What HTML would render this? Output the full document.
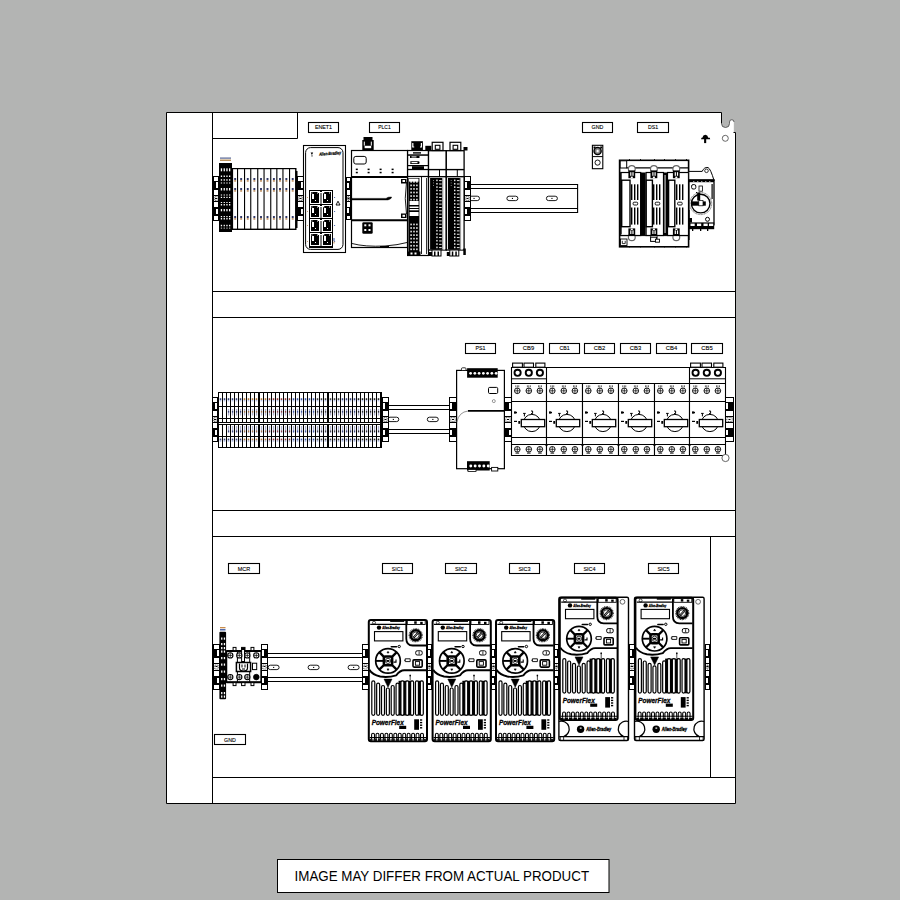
<!DOCTYPE html>
<html><head><meta charset="utf-8"><style>
html,body{margin:0;padding:0;background:#b3b4b3;width:900px;height:900px;overflow:hidden}
svg{display:block}
</style></head><body>
<svg width="900" height="900" viewBox="0 0 900 900" font-family="Liberation Sans">
<rect x="0" y="0" width="900" height="900" fill="#b3b4b3"/>
<path d="M166.5,112.5 H721.5 V123.5 A4,4 0 0 0 729.5,123.5 V122 A2.25,2.25 0 0 1 734,122 V132.5 H735.5 V803.5 H166.5 Z" fill="#fff" stroke="none" stroke-width="1" />
<path d="M166.5,803.5 V112.5 H721.5 V123.5" fill="none" stroke="#000" stroke-width="1" />
<path d="M721.5,123.5 A4,4 0 0 0 729.5,123.5 V122 A2.25,2.25 0 0 1 734,122" fill="none" stroke="#444" stroke-width="0.8" />
<line x1="734.2" y1="122" x2="734.2" y2="132.5" stroke="#bbb" stroke-width="0.6" />
<path d="M733.5,132.5 H735.5 V803.5 H166.5" fill="none" stroke="#000" stroke-width="1" />
<line x1="212.5" y1="112" x2="212.5" y2="804" stroke="#000" stroke-width="1" />
<path d="M212,138.5 H297.5 V112" fill="none" stroke="#000" stroke-width="1" />
<line x1="212" y1="291.5" x2="735" y2="291.5" stroke="#000" stroke-width="1" />
<line x1="212" y1="317.5" x2="735" y2="317.5" stroke="#000" stroke-width="1" />
<line x1="212" y1="510.5" x2="735" y2="510.5" stroke="#000" stroke-width="1" />
<line x1="212" y1="536.5" x2="735" y2="536.5" stroke="#000" stroke-width="1" />
<line x1="212" y1="777.5" x2="735" y2="777.5" stroke="#000" stroke-width="1" />
<line x1="710.5" y1="536" x2="710.5" y2="777" stroke="#000" stroke-width="1" />
<circle cx="725.3" cy="138.3" r="3" fill="none" stroke="#444" stroke-width="0.8" />
<path d="M701,139.2 L701.5,137.8 H702.3 Q703,135 705.3,134.8 Q707.6,135 708.3,137.8 H709.8 L710.2,139.2 Z" fill="#000" stroke="none" stroke-width="1" />
<rect x="704.1" y="138" width="2.1" height="5.1" fill="#000" />
<rect x="308.5" y="122.5" width="30" height="10" fill="#fff" stroke="#000" stroke-width="1.1" />
<text x="323.5" y="129.4" font-size="5.7" text-anchor="middle" fill="#000" font-family="Liberation Sans" stroke="#000" stroke-width="0.12" textLength="17.1" lengthAdjust="spacingAndGlyphs">ENET1</text>
<rect x="369.5" y="122.5" width="30" height="10" fill="#fff" stroke="#000" stroke-width="1.1" />
<text x="384.5" y="129.4" font-size="5.7" text-anchor="middle" fill="#000" font-family="Liberation Sans" stroke="#000" stroke-width="0.12" textLength="12.3" lengthAdjust="spacingAndGlyphs">PLC1</text>
<rect x="582.5" y="122.5" width="30" height="10" fill="#fff" stroke="#000" stroke-width="1.1" />
<text x="597.5" y="129.4" font-size="5.7" text-anchor="middle" fill="#000" font-family="Liberation Sans" stroke="#000" stroke-width="0.12" textLength="11.8" lengthAdjust="spacingAndGlyphs">GND</text>
<rect x="637.5" y="122.5" width="31" height="10" fill="#fff" stroke="#000" stroke-width="1.1" />
<text x="653" y="129.4" font-size="5.7" text-anchor="middle" fill="#000" font-family="Liberation Sans" stroke="#000" stroke-width="0.12" textLength="10.2" lengthAdjust="spacingAndGlyphs">DS1</text>
<rect x="465.5" y="343.5" width="30" height="10" fill="#fff" stroke="#000" stroke-width="1.1" />
<text x="480.5" y="350.4" font-size="5.7" text-anchor="middle" fill="#000" font-family="Liberation Sans" stroke="#000" stroke-width="0.12" textLength="9.9" lengthAdjust="spacingAndGlyphs">PS1</text>
<rect x="513.5" y="343.5" width="30" height="10" fill="#fff" stroke="#000" stroke-width="1.1" />
<text x="528.5" y="350.4" font-size="5.7" text-anchor="middle" fill="#000" font-family="Liberation Sans" stroke="#000" stroke-width="0.12" textLength="11.3" lengthAdjust="spacingAndGlyphs">CB9</text>
<rect x="549.5" y="343.5" width="30" height="10" fill="#fff" stroke="#000" stroke-width="1.1" />
<text x="564.5" y="350.4" font-size="5.7" text-anchor="middle" fill="#000" font-family="Liberation Sans" stroke="#000" stroke-width="0.12" textLength="10" lengthAdjust="spacingAndGlyphs">CB1</text>
<rect x="584.5" y="343.5" width="30" height="10" fill="#fff" stroke="#000" stroke-width="1.1" />
<text x="599.5" y="350.4" font-size="5.7" text-anchor="middle" fill="#000" font-family="Liberation Sans" stroke="#000" stroke-width="0.12" textLength="11.3" lengthAdjust="spacingAndGlyphs">CB2</text>
<rect x="620.5" y="343.5" width="30" height="10" fill="#fff" stroke="#000" stroke-width="1.1" />
<text x="635.5" y="350.4" font-size="5.7" text-anchor="middle" fill="#000" font-family="Liberation Sans" stroke="#000" stroke-width="0.12" textLength="11.3" lengthAdjust="spacingAndGlyphs">CB3</text>
<rect x="656.5" y="343.5" width="30" height="10" fill="#fff" stroke="#000" stroke-width="1.1" />
<text x="671.5" y="350.4" font-size="5.7" text-anchor="middle" fill="#000" font-family="Liberation Sans" stroke="#000" stroke-width="0.12" textLength="11.3" lengthAdjust="spacingAndGlyphs">CB4</text>
<rect x="691.5" y="343.5" width="31" height="10" fill="#fff" stroke="#000" stroke-width="1.1" />
<text x="707" y="350.4" font-size="5.7" text-anchor="middle" fill="#000" font-family="Liberation Sans" stroke="#000" stroke-width="0.12" textLength="11.3" lengthAdjust="spacingAndGlyphs">CB5</text>
<rect x="228.5" y="563.5" width="31" height="10" fill="#fff" stroke="#000" stroke-width="1.1" />
<text x="244" y="570.9" font-size="5.7" text-anchor="middle" fill="#000" font-family="Liberation Sans" stroke="#000" stroke-width="0.12" textLength="12.4" lengthAdjust="spacingAndGlyphs">MCR</text>
<rect x="382.5" y="563.5" width="30" height="10" fill="#fff" stroke="#000" stroke-width="1.1" />
<text x="397.5" y="570.9" font-size="5.7" text-anchor="middle" fill="#000" font-family="Liberation Sans" stroke="#000" stroke-width="0.12" textLength="11.3" lengthAdjust="spacingAndGlyphs">SIC1</text>
<rect x="445.5" y="563.5" width="31" height="10" fill="#fff" stroke="#000" stroke-width="1.1" />
<text x="461" y="570.9" font-size="5.7" text-anchor="middle" fill="#000" font-family="Liberation Sans" stroke="#000" stroke-width="0.12" textLength="12.2" lengthAdjust="spacingAndGlyphs">SIC2</text>
<rect x="509.5" y="563.5" width="30" height="10" fill="#fff" stroke="#000" stroke-width="1.1" />
<text x="524.5" y="570.9" font-size="5.7" text-anchor="middle" fill="#000" font-family="Liberation Sans" stroke="#000" stroke-width="0.12" textLength="12.2" lengthAdjust="spacingAndGlyphs">SIC3</text>
<rect x="574.5" y="563.5" width="30" height="10" fill="#fff" stroke="#000" stroke-width="1.1" />
<text x="589.5" y="570.9" font-size="5.7" text-anchor="middle" fill="#000" font-family="Liberation Sans" stroke="#000" stroke-width="0.12" textLength="12.2" lengthAdjust="spacingAndGlyphs">SIC4</text>
<rect x="648.5" y="563.5" width="30" height="10" fill="#fff" stroke="#000" stroke-width="1.1" />
<text x="663.5" y="570.9" font-size="5.7" text-anchor="middle" fill="#000" font-family="Liberation Sans" stroke="#000" stroke-width="0.12" textLength="12.2" lengthAdjust="spacingAndGlyphs">SIC5</text>
<rect x="214.5" y="734.5" width="31" height="10" fill="#fff" stroke="#000" stroke-width="1.1" />
<text x="230" y="741.9" font-size="5.7" text-anchor="middle" fill="#000" font-family="Liberation Sans" stroke="#000" stroke-width="0.12" textLength="11.8" lengthAdjust="spacingAndGlyphs">GND</text>
<rect x="470" y="184" width="108" height="28.5" fill="#fff" />
<line x1="470" y1="184.5" x2="578" y2="184.5" stroke="#000" stroke-width="1.1" />
<line x1="470" y1="188.5" x2="578" y2="188.5" stroke="#000" stroke-width="1.1" />
<line x1="470" y1="208.5" x2="578" y2="208.5" stroke="#000" stroke-width="1.1" />
<line x1="470" y1="212.5" x2="578" y2="212.5" stroke="#000" stroke-width="1.1" />
<path d="M470.70,196.20 H477.30 A2.2,2.2 0 0 1 477.30,200.60 H470.70 A2.2,2.2 0 0 1 470.70,196.20 Z" fill="none" stroke="#000" stroke-width="0.9" />
<rect x="473.5" y="197.9" width="1.1" height="1.1" fill="#000" />
<path d="M509.10,196.20 H515.70 A2.2,2.2 0 0 1 515.70,200.60 H509.10 A2.2,2.2 0 0 1 509.10,196.20 Z" fill="none" stroke="#000" stroke-width="0.9" />
<rect x="511.9" y="197.9" width="1.1" height="1.1" fill="#000" />
<path d="M548.60,196.20 H555.20 A2.2,2.2 0 0 1 555.20,200.60 H548.60 A2.2,2.2 0 0 1 548.60,196.20 Z" fill="none" stroke="#000" stroke-width="0.9" />
<rect x="551.4" y="197.9" width="1.1" height="1.1" fill="#000" />
<line x1="577.6" y1="184" x2="577.6" y2="213" stroke="#000" stroke-width="1.1" />
<rect x="213" y="176" width="6" height="45" fill="#000" />
<rect x="214" y="177" width="4" height="4" fill="#fff" />
<rect x="214" y="190" width="4" height="5" fill="#fff" />
<rect x="214" y="202" width="4" height="5" fill="#fff" />
<rect x="214" y="216" width="4" height="4" fill="#fff" />
<rect x="216" y="182" width="2" height="6" fill="#fff" />
<rect x="216" y="209" width="2" height="5" fill="#fff" />
<rect x="214" y="196" width="4" height="5" fill="#fff" />
<rect x="214.8" y="196.62" width="2.4" height="3.86" fill="none" stroke="#000" stroke-width="0.7" stroke-dasharray="1 0.8"/>
<rect x="215" y="198" width="2" height="1" fill="#000" />
<rect x="219" y="163" width="13" height="69" fill="#000" />
<rect x="220.8" y="168.3" width="1.3" height="3" fill="#fff" />
<rect x="223.6" y="168.3" width="1.3" height="3" fill="#fff" />
<rect x="226.3" y="168.3" width="1.3" height="3" fill="#fff" />
<rect x="229" y="168.3" width="1.3" height="3" fill="#fff" />
<rect x="220.8" y="175.5" width="1.3" height="1.5" fill="#fff" />
<rect x="223.6" y="175.5" width="1.3" height="1.5" fill="#fff" />
<rect x="226.3" y="175.5" width="1.3" height="1.5" fill="#fff" />
<rect x="229" y="175.5" width="1.3" height="1.5" fill="#fff" />
<rect x="220.8" y="179.2" width="1.3" height="1.5" fill="#fff" />
<rect x="223.6" y="179.2" width="1.3" height="1.5" fill="#fff" />
<rect x="226.3" y="179.2" width="1.3" height="1.5" fill="#fff" />
<rect x="229" y="179.2" width="1.3" height="1.5" fill="#fff" />
<rect x="220.8" y="182.5" width="1.3" height="1" fill="#fff" />
<rect x="223.6" y="182.5" width="1.3" height="1" fill="#fff" />
<rect x="226.3" y="182.5" width="1.3" height="1" fill="#fff" />
<rect x="229" y="182.5" width="1.3" height="1" fill="#fff" />
<rect x="220.8" y="188" width="1.3" height="2.5" fill="#fff" />
<rect x="223.6" y="188" width="1.3" height="2.5" fill="#fff" />
<rect x="226.3" y="188" width="1.3" height="2.5" fill="#fff" />
<rect x="229" y="188" width="1.3" height="2.5" fill="#fff" />
<rect x="220.8" y="194.5" width="1.3" height="1" fill="#fff" />
<rect x="223.6" y="194.5" width="1.3" height="1" fill="#fff" />
<rect x="226.3" y="194.5" width="1.3" height="1" fill="#fff" />
<rect x="229" y="194.5" width="1.3" height="1" fill="#fff" />
<rect x="220.8" y="196.8" width="1.3" height="1.2" fill="#fff" />
<rect x="223.6" y="196.8" width="1.3" height="1.2" fill="#fff" />
<rect x="226.3" y="196.8" width="1.3" height="1.2" fill="#fff" />
<rect x="229" y="196.8" width="1.3" height="1.2" fill="#fff" />
<rect x="220.8" y="202" width="1.3" height="1" fill="#fff" />
<rect x="223.6" y="202" width="1.3" height="1" fill="#fff" />
<rect x="226.3" y="202" width="1.3" height="1" fill="#fff" />
<rect x="229" y="202" width="1.3" height="1" fill="#fff" />
<rect x="220.8" y="204" width="1.3" height="1.5" fill="#fff" />
<rect x="223.6" y="204" width="1.3" height="1.5" fill="#fff" />
<rect x="226.3" y="204" width="1.3" height="1.5" fill="#fff" />
<rect x="229" y="204" width="1.3" height="1.5" fill="#fff" />
<rect x="220.8" y="209" width="1.3" height="2.3" fill="#fff" />
<rect x="223.6" y="209" width="1.3" height="2.3" fill="#fff" />
<rect x="226.3" y="209" width="1.3" height="2.3" fill="#fff" />
<rect x="229" y="209" width="1.3" height="2.3" fill="#fff" />
<rect x="220.8" y="216" width="1.3" height="1.2" fill="#fff" />
<rect x="223.6" y="216" width="1.3" height="1.2" fill="#fff" />
<rect x="226.3" y="216" width="1.3" height="1.2" fill="#fff" />
<rect x="229" y="216" width="1.3" height="1.2" fill="#fff" />
<rect x="220.8" y="218" width="1.3" height="1.5" fill="#fff" />
<rect x="223.6" y="218" width="1.3" height="1.5" fill="#fff" />
<rect x="226.3" y="218" width="1.3" height="1.5" fill="#fff" />
<rect x="229" y="218" width="1.3" height="1.5" fill="#fff" />
<rect x="220.8" y="224.8" width="1.3" height="1.5" fill="#fff" />
<rect x="223.6" y="224.8" width="1.3" height="1.5" fill="#fff" />
<rect x="226.3" y="224.8" width="1.3" height="1.5" fill="#fff" />
<rect x="229" y="224.8" width="1.3" height="1.5" fill="#fff" />
<rect x="220.8" y="227.7" width="1.3" height="0.8" fill="#fff" />
<rect x="223.6" y="227.7" width="1.3" height="0.8" fill="#fff" />
<rect x="226.3" y="227.7" width="1.3" height="0.8" fill="#fff" />
<rect x="229" y="227.7" width="1.3" height="0.8" fill="#fff" />
<g opacity="0.85"><rect x="220" y="157.5" width="11" height="1.2" fill="#3a4a80"/><rect x="220" y="159.5" width="11" height="1.5" fill="#b08040"/></g>
<rect x="232" y="168" width="64.5" height="62" fill="#000" />
<rect x="233.1" y="169.2" width="3.9" height="59.4" fill="#fff" />
<rect x="238.1" y="169.2" width="5.9" height="59.4" fill="#fff" />
<rect x="245.1" y="169.2" width="5.1" height="59.4" fill="#fff" />
<rect x="251.3" y="169.2" width="5.9" height="59.4" fill="#fff" />
<rect x="258.3" y="169.2" width="5.2" height="59.4" fill="#fff" />
<rect x="264.6" y="169.2" width="5.6" height="59.4" fill="#fff" />
<rect x="271.3" y="169.2" width="5" height="59.4" fill="#fff" />
<rect x="277.4" y="169.2" width="5" height="59.4" fill="#fff" />
<rect x="283.5" y="169.2" width="5.5" height="59.4" fill="#fff" />
<rect x="290.1" y="169.2" width="5" height="59.4" fill="#fff" />
<rect x="234.2" y="178" width="1.9" height="2" fill="#1c2458" opacity="0.9"/>
<rect x="234.2" y="180" width="1.9" height="1.8" fill="#b07840" opacity="0.75"/>
<rect x="234.2" y="188" width="1.9" height="2" fill="#1c2458" opacity="0.9"/>
<rect x="234.2" y="190" width="1.9" height="1.8" fill="#b07840" opacity="0.75"/>
<rect x="234.2" y="216" width="1.9" height="2" fill="#1c2458" opacity="0.9"/>
<rect x="234.2" y="218" width="1.9" height="1.8" fill="#b07840" opacity="0.75"/>
<rect x="240.2" y="178" width="1.9" height="2" fill="#1c2458" opacity="0.9"/>
<rect x="240.2" y="180" width="1.9" height="1.8" fill="#b07840" opacity="0.75"/>
<rect x="240.2" y="188" width="1.9" height="2" fill="#1c2458" opacity="0.9"/>
<rect x="240.2" y="190" width="1.9" height="1.8" fill="#b07840" opacity="0.75"/>
<rect x="240.2" y="216" width="1.9" height="2" fill="#1c2458" opacity="0.9"/>
<rect x="240.2" y="218" width="1.9" height="1.8" fill="#b07840" opacity="0.75"/>
<rect x="246.8" y="178" width="1.9" height="2" fill="#1c2458" opacity="0.9"/>
<rect x="246.8" y="180" width="1.9" height="1.8" fill="#b07840" opacity="0.75"/>
<rect x="246.8" y="188" width="1.9" height="2" fill="#1c2458" opacity="0.9"/>
<rect x="246.8" y="190" width="1.9" height="1.8" fill="#b07840" opacity="0.75"/>
<rect x="246.8" y="216" width="1.9" height="2" fill="#1c2458" opacity="0.9"/>
<rect x="246.8" y="218" width="1.9" height="1.8" fill="#b07840" opacity="0.75"/>
<rect x="253.4" y="178" width="1.9" height="2" fill="#1c2458" opacity="0.9"/>
<rect x="253.4" y="180" width="1.9" height="1.8" fill="#b07840" opacity="0.75"/>
<rect x="253.4" y="188" width="1.9" height="2" fill="#1c2458" opacity="0.9"/>
<rect x="253.4" y="190" width="1.9" height="1.8" fill="#b07840" opacity="0.75"/>
<rect x="253.4" y="216" width="1.9" height="2" fill="#1c2458" opacity="0.9"/>
<rect x="253.4" y="218" width="1.9" height="1.8" fill="#b07840" opacity="0.75"/>
<rect x="260.05" y="178" width="1.9" height="2" fill="#1c2458" opacity="0.9"/>
<rect x="260.05" y="180" width="1.9" height="1.8" fill="#b07840" opacity="0.75"/>
<rect x="260.05" y="188" width="1.9" height="2" fill="#1c2458" opacity="0.9"/>
<rect x="260.05" y="190" width="1.9" height="1.8" fill="#b07840" opacity="0.75"/>
<rect x="260.05" y="216" width="1.9" height="2" fill="#1c2458" opacity="0.9"/>
<rect x="260.05" y="218" width="1.9" height="1.8" fill="#b07840" opacity="0.75"/>
<rect x="266.55" y="178" width="1.9" height="2" fill="#1c2458" opacity="0.9"/>
<rect x="266.55" y="180" width="1.9" height="1.8" fill="#b07840" opacity="0.75"/>
<rect x="266.55" y="188" width="1.9" height="2" fill="#1c2458" opacity="0.9"/>
<rect x="266.55" y="190" width="1.9" height="1.8" fill="#b07840" opacity="0.75"/>
<rect x="266.55" y="216" width="1.9" height="2" fill="#1c2458" opacity="0.9"/>
<rect x="266.55" y="218" width="1.9" height="1.8" fill="#b07840" opacity="0.75"/>
<rect x="272.95" y="178" width="1.9" height="2" fill="#1c2458" opacity="0.9"/>
<rect x="272.95" y="180" width="1.9" height="1.8" fill="#b07840" opacity="0.75"/>
<rect x="272.95" y="188" width="1.9" height="2" fill="#1c2458" opacity="0.9"/>
<rect x="272.95" y="190" width="1.9" height="1.8" fill="#b07840" opacity="0.75"/>
<rect x="272.95" y="216" width="1.9" height="2" fill="#1c2458" opacity="0.9"/>
<rect x="272.95" y="218" width="1.9" height="1.8" fill="#b07840" opacity="0.75"/>
<rect x="279.05" y="178" width="1.9" height="2" fill="#1c2458" opacity="0.9"/>
<rect x="279.05" y="180" width="1.9" height="1.8" fill="#b07840" opacity="0.75"/>
<rect x="279.05" y="188" width="1.9" height="2" fill="#1c2458" opacity="0.9"/>
<rect x="279.05" y="190" width="1.9" height="1.8" fill="#b07840" opacity="0.75"/>
<rect x="279.05" y="216" width="1.9" height="2" fill="#1c2458" opacity="0.9"/>
<rect x="279.05" y="218" width="1.9" height="1.8" fill="#b07840" opacity="0.75"/>
<rect x="285.4" y="178" width="1.9" height="2" fill="#1c2458" opacity="0.9"/>
<rect x="285.4" y="180" width="1.9" height="1.8" fill="#b07840" opacity="0.75"/>
<rect x="285.4" y="188" width="1.9" height="2" fill="#1c2458" opacity="0.9"/>
<rect x="285.4" y="190" width="1.9" height="1.8" fill="#b07840" opacity="0.75"/>
<rect x="285.4" y="216" width="1.9" height="2" fill="#1c2458" opacity="0.9"/>
<rect x="285.4" y="218" width="1.9" height="1.8" fill="#b07840" opacity="0.75"/>
<rect x="291.75" y="178" width="1.9" height="2" fill="#1c2458" opacity="0.9"/>
<rect x="291.75" y="180" width="1.9" height="1.8" fill="#b07840" opacity="0.75"/>
<rect x="291.75" y="188" width="1.9" height="2" fill="#1c2458" opacity="0.9"/>
<rect x="291.75" y="190" width="1.9" height="1.8" fill="#b07840" opacity="0.75"/>
<rect x="291.75" y="216" width="1.9" height="2" fill="#1c2458" opacity="0.9"/>
<rect x="291.75" y="218" width="1.9" height="1.8" fill="#b07840" opacity="0.75"/>
<rect x="295.5" y="171" width="2" height="57" fill="#000" />
<rect x="297" y="176" width="7" height="45" fill="#000" />
<rect x="298" y="177" width="5" height="4" fill="#fff" />
<rect x="298" y="190" width="5" height="5" fill="#fff" />
<rect x="298" y="202" width="5" height="5" fill="#fff" />
<rect x="298" y="216" width="5" height="4" fill="#fff" />
<rect x="301" y="182" width="2" height="6" fill="#fff" />
<rect x="301" y="209" width="2" height="5" fill="#fff" />
<rect x="298" y="196" width="5" height="5" fill="#fff" />
<rect x="298.8" y="196.62" width="3.4" height="3.86" fill="none" stroke="#000" stroke-width="0.7" stroke-dasharray="1 0.8"/>
<rect x="299.5" y="198" width="2" height="1" fill="#000" />
<rect x="303.5" y="145.5" width="42" height="107" fill="#fff" stroke="#000" stroke-width="1.1" />
<rect x="305.6" y="147.6" width="37.4" height="101.8" fill="none" stroke="#000" stroke-width="1" rx="5"/>
<rect x="309" y="190" width="24" height="58" fill="#000" />
<rect x="310" y="191" width="10" height="13" fill="#fff" />
<rect x="311" y="192" width="8" height="11" fill="#000" />
<rect x="312" y="194" width="2" height="5" fill="#fff" />
<rect x="315" y="200" width="1" height="1" fill="#fff" />
<rect x="311.5" y="192.5" width="1" height="1" fill="#fff" />
<rect x="317" y="192.5" width="1" height="1" fill="#fff" />
<rect x="322" y="191" width="10" height="13" fill="#fff" />
<rect x="323" y="192" width="8" height="11" fill="#000" />
<rect x="324" y="194" width="2" height="5" fill="#fff" />
<rect x="327" y="200" width="1" height="1" fill="#fff" />
<rect x="323.5" y="192.5" width="1" height="1" fill="#fff" />
<rect x="329" y="192.5" width="1" height="1" fill="#fff" />
<rect x="320" y="191" width="2" height="13" fill="#000" />
<rect x="320.5" y="193" width="1" height="11" fill="#fff" />
<rect x="318" y="192" width="6" height="1" fill="#fff" />
<rect x="310" y="205" width="10" height="13" fill="#fff" />
<rect x="311" y="206" width="8" height="11" fill="#000" />
<rect x="312" y="208" width="2" height="5" fill="#fff" />
<rect x="315" y="214" width="1" height="1" fill="#fff" />
<rect x="311.5" y="206.5" width="1" height="1" fill="#fff" />
<rect x="317" y="206.5" width="1" height="1" fill="#fff" />
<rect x="322" y="205" width="10" height="13" fill="#fff" />
<rect x="323" y="206" width="8" height="11" fill="#000" />
<rect x="324" y="208" width="2" height="5" fill="#fff" />
<rect x="327" y="214" width="1" height="1" fill="#fff" />
<rect x="323.5" y="206.5" width="1" height="1" fill="#fff" />
<rect x="329" y="206.5" width="1" height="1" fill="#fff" />
<rect x="320" y="205" width="2" height="13" fill="#000" />
<rect x="320.5" y="207" width="1" height="11" fill="#fff" />
<rect x="318" y="206" width="6" height="1" fill="#fff" />
<rect x="310" y="219" width="10" height="13" fill="#fff" />
<rect x="311" y="220" width="8" height="11" fill="#000" />
<rect x="312" y="222" width="2" height="5" fill="#fff" />
<rect x="315" y="228" width="1" height="1" fill="#fff" />
<rect x="311.5" y="220.5" width="1" height="1" fill="#fff" />
<rect x="317" y="220.5" width="1" height="1" fill="#fff" />
<rect x="322" y="219" width="10" height="13" fill="#fff" />
<rect x="323" y="220" width="8" height="11" fill="#000" />
<rect x="324" y="222" width="2" height="5" fill="#fff" />
<rect x="327" y="228" width="1" height="1" fill="#fff" />
<rect x="323.5" y="220.5" width="1" height="1" fill="#fff" />
<rect x="329" y="220.5" width="1" height="1" fill="#fff" />
<rect x="320" y="219" width="2" height="13" fill="#000" />
<rect x="320.5" y="221" width="1" height="11" fill="#fff" />
<rect x="318" y="220" width="6" height="1" fill="#fff" />
<rect x="310" y="233" width="10" height="13" fill="#fff" />
<rect x="311" y="234" width="8" height="11" fill="#000" />
<rect x="312" y="236" width="2" height="5" fill="#fff" />
<rect x="315" y="242" width="1" height="1" fill="#fff" />
<rect x="311.5" y="234.5" width="1" height="1" fill="#fff" />
<rect x="317" y="234.5" width="1" height="1" fill="#fff" />
<rect x="322" y="233" width="10" height="13" fill="#fff" />
<rect x="323" y="234" width="8" height="11" fill="#000" />
<rect x="324" y="236" width="2" height="5" fill="#fff" />
<rect x="327" y="242" width="1" height="1" fill="#fff" />
<rect x="323.5" y="234.5" width="1" height="1" fill="#fff" />
<rect x="329" y="234.5" width="1" height="1" fill="#fff" />
<rect x="320" y="233" width="2" height="13" fill="#000" />
<rect x="320.5" y="235" width="1" height="11" fill="#fff" />
<rect x="318" y="234" width="6" height="1" fill="#fff" />
<path d="M336,205 L338,201.2 L340,205 Z" fill="none" stroke="#000" stroke-width="0.9" />
<rect x="307" y="197" width="0.8" height="1" fill="#c08850" />
<rect x="334.2" y="197" width="0.9" height="1" fill="#3050a0" />
<rect x="307" y="211" width="0.8" height="1" fill="#c08850" />
<rect x="334.2" y="211" width="0.9" height="1" fill="#3050a0" />
<rect x="307" y="225" width="0.8" height="1" fill="#c08850" />
<rect x="334.2" y="225" width="0.9" height="1" fill="#3050a0" />
<rect x="307" y="241" width="0.8" height="1" fill="#c08850" />
<rect x="334.2" y="241" width="0.9" height="1" fill="#3050a0" />
<rect x="333.5" y="238" width="1" height="3" fill="#3050a0" />
<rect x="333.5" y="241.5" width="1" height="2" fill="#c08850" />
<text x="319" y="155" font-size="4.4" font-family="Liberation Sans" font-style="italic" font-weight="bold" fill="#000" stroke="#000" stroke-width="0.25" textLength="22" lengthAdjust="spacingAndGlyphs" transform="rotate(-4 330 153)">Allen-Bradley</text>
<path d="M310.6,152.5 h2.6 l-1.3,2.5 z" fill="#000" stroke="none" stroke-width="1" />
<rect x="311.5" y="155.3" width="1" height="1.2" fill="#000" />
<rect x="346" y="177" width="5" height="43" fill="#000" />
<rect x="347" y="178" width="3" height="3" fill="#fff" />
<rect x="347" y="190" width="3" height="5" fill="#fff" />
<rect x="347" y="202" width="3" height="5" fill="#fff" />
<rect x="347" y="216" width="3" height="3" fill="#fff" />
<rect x="347" y="183" width="2" height="5" fill="#fff" />
<rect x="347" y="208" width="2" height="5" fill="#fff" />
<rect x="347" y="196" width="3" height="5" fill="#fff" />
<rect x="347.8" y="196.7" width="1.4" height="3.69" fill="none" stroke="#000" stroke-width="0.7" stroke-dasharray="1 0.8"/>
<rect x="347.5" y="198" width="2" height="1" fill="#000" />
<rect x="351.5" y="150.5" width="56" height="97" fill="#fff" stroke="#000" stroke-width="1.2" />
<line x1="351" y1="177" x2="408" y2="177" stroke="#000" stroke-width="2" />
<line x1="351" y1="220.2" x2="408" y2="220.2" stroke="#000" stroke-width="2" />
<rect x="353.8" y="156.4" width="12.4" height="7.6" fill="none" stroke="#000" stroke-width="1" rx="2"/>
<rect x="355.8" y="168.6" width="2" height="1.5" fill="#000" />
<rect x="355.8" y="171.8" width="2" height="1.5" fill="#000" />
<rect x="367.6" y="168.6" width="2" height="1.5" fill="#000" />
<rect x="367.6" y="171.8" width="2" height="1.5" fill="#000" />
<rect x="379.6" y="168.6" width="2" height="1.5" fill="#000" />
<rect x="379.6" y="171.8" width="2" height="1.5" fill="#000" />
<rect x="391.6" y="168.6" width="2" height="1.5" fill="#000" />
<rect x="391.6" y="171.8" width="2" height="1.5" fill="#000" />
<path d="M352,198.4 H386 Q388,196.8 391.5,197 Q392,198.6 388,199.9 H352 Z" fill="#000" stroke="#000" stroke-width="0.5" />
<rect x="362.3" y="222.3" width="10.4" height="11.4" fill="#000" rx="1.2"/>
<rect x="364.3" y="224.3" width="2" height="2" fill="#fff" />
<rect x="368.5" y="224.3" width="2" height="2" fill="#fff" />
<rect x="364.3" y="229" width="2" height="2" fill="#fff" />
<rect x="368.5" y="229" width="2" height="2" fill="#fff" />
<path d="M352,243.5 Q365,247 385,246 Q398,245 407,242.5" fill="none" stroke="#000" stroke-width="0.9" />
<rect x="380" y="246" width="9" height="1.6" fill="#000" />
<rect x="362.3" y="140" width="11.4" height="10.5" fill="#000" />
<rect x="363.5" y="137" width="9" height="3.5" fill="#000" />
<rect x="364.6" y="145.8" width="6.6" height="2.4" fill="#fff" />
<rect x="363.8" y="141.6" width="1" height="4" fill="#fff" />
<rect x="370.8" y="141.6" width="1" height="4" fill="#fff" />
<rect x="401" y="179" width="5.5" height="4.5" fill="#000" />
<rect x="402.5" y="180" width="2.5" height="2" fill="#fff" />
<rect x="401" y="213.5" width="5.5" height="4.5" fill="#000" />
<rect x="402.5" y="214.8" width="2.5" height="2" fill="#fff" />
<path d="M406.5,182 Q404,199 406.5,214" fill="none" stroke="#000" stroke-width="0.9" />
<rect x="407.6" y="150.5" width="20.9" height="26.3" fill="#fff" stroke="#000" stroke-width="1.2" />
<rect x="411.3" y="141.2" width="11.6" height="9.5" fill="#000" />
<rect x="412.2" y="143" width="1.2" height="4" fill="#fff" />
<rect x="420.8" y="143" width="1.2" height="4" fill="#fff" />
<rect x="412.2" y="146.5" width="2" height="1" fill="#fff" />
<rect x="420" y="146.5" width="2" height="1" fill="#fff" />
<rect x="409" y="152" width="20" height="0" fill="#000" />
<rect x="413" y="152.2" width="8" height="1.4" fill="#000" />
<rect x="408" y="154.3" width="20" height="1.5" fill="#000" />
<rect x="410" y="156" width="9.5" height="2" fill="#000" />
<rect x="411.5" y="156.4" width="5" height="1" fill="#fff" />
<rect x="410" y="161.3" width="9.5" height="2.6" fill="#000" rx="1"/>
<rect x="412" y="162" width="5.5" height="1.2" fill="#fff" />
<rect x="410.6" y="162" width="0.9" height="1.2" fill="#fff" />
<rect x="408" y="165" width="20" height="1.2" fill="#000" />
<rect x="412" y="166.2" width="12" height="3.2" fill="#000" />
<line x1="407.6" y1="169.5" x2="428.5" y2="169.5" stroke="#000" stroke-width="1.3" />
<rect x="407.6" y="176.5" width="20.9" height="79" fill="#fff" stroke="#000" stroke-width="1.2" />
<rect x="408.4" y="178" width="11" height="76" fill="#000" />
<rect x="410.4" y="181" width="1.4" height="1.7" fill="#fff" />
<rect x="413.3" y="181" width="1.4" height="1.7" fill="#fff" />
<rect x="416.2" y="181" width="1.4" height="1.7" fill="#fff" />
<rect x="410.4" y="184.55" width="1.4" height="1.7" fill="#fff" />
<rect x="413.3" y="184.55" width="1.4" height="1.7" fill="#fff" />
<rect x="416.2" y="184.55" width="1.4" height="1.7" fill="#fff" />
<rect x="410.4" y="188.1" width="1.4" height="1.7" fill="#fff" />
<rect x="413.3" y="188.1" width="1.4" height="1.7" fill="#fff" />
<rect x="416.2" y="188.1" width="1.4" height="1.7" fill="#fff" />
<rect x="410.4" y="191.65" width="1.4" height="1.7" fill="#fff" />
<rect x="413.3" y="191.65" width="1.4" height="1.7" fill="#fff" />
<rect x="416.2" y="191.65" width="1.4" height="1.7" fill="#fff" />
<rect x="410.4" y="195.2" width="1.4" height="1.7" fill="#fff" />
<rect x="413.3" y="195.2" width="1.4" height="1.7" fill="#fff" />
<rect x="416.2" y="195.2" width="1.4" height="1.7" fill="#fff" />
<rect x="410.4" y="198.75" width="1.4" height="1.7" fill="#fff" />
<rect x="413.3" y="198.75" width="1.4" height="1.7" fill="#fff" />
<rect x="416.2" y="198.75" width="1.4" height="1.7" fill="#fff" />
<rect x="410.4" y="202.3" width="1.4" height="1.7" fill="#fff" />
<rect x="413.3" y="202.3" width="1.4" height="1.7" fill="#fff" />
<rect x="416.2" y="202.3" width="1.4" height="1.7" fill="#fff" />
<rect x="410.4" y="223.6" width="1.4" height="1.7" fill="#fff" />
<rect x="413.3" y="223.6" width="1.4" height="1.7" fill="#fff" />
<rect x="416.2" y="223.6" width="1.4" height="1.7" fill="#fff" />
<rect x="410.4" y="227.15" width="1.4" height="1.7" fill="#fff" />
<rect x="413.3" y="227.15" width="1.4" height="1.7" fill="#fff" />
<rect x="416.2" y="227.15" width="1.4" height="1.7" fill="#fff" />
<rect x="410.4" y="230.7" width="1.4" height="1.7" fill="#fff" />
<rect x="413.3" y="230.7" width="1.4" height="1.7" fill="#fff" />
<rect x="416.2" y="230.7" width="1.4" height="1.7" fill="#fff" />
<rect x="410.4" y="234.25" width="1.4" height="1.7" fill="#fff" />
<rect x="413.3" y="234.25" width="1.4" height="1.7" fill="#fff" />
<rect x="416.2" y="234.25" width="1.4" height="1.7" fill="#fff" />
<rect x="410.4" y="237.8" width="1.4" height="1.7" fill="#fff" />
<rect x="413.3" y="237.8" width="1.4" height="1.7" fill="#fff" />
<rect x="416.2" y="237.8" width="1.4" height="1.7" fill="#fff" />
<rect x="410.4" y="241.35" width="1.4" height="1.7" fill="#fff" />
<rect x="413.3" y="241.35" width="1.4" height="1.7" fill="#fff" />
<rect x="416.2" y="241.35" width="1.4" height="1.7" fill="#fff" />
<rect x="410.4" y="244.9" width="1.4" height="1.7" fill="#fff" />
<rect x="413.3" y="244.9" width="1.4" height="1.7" fill="#fff" />
<rect x="416.2" y="244.9" width="1.4" height="1.7" fill="#fff" />
<rect x="410.4" y="248.45" width="1.4" height="1.7" fill="#fff" />
<rect x="413.3" y="248.45" width="1.4" height="1.7" fill="#fff" />
<rect x="416.2" y="248.45" width="1.4" height="1.7" fill="#fff" />
<rect x="409.6" y="201" width="9" height="4" fill="#fff" />
<rect x="409.6" y="206.5" width="9" height="1.5" fill="#fff" />
<rect x="409.6" y="209" width="9" height="1.3" fill="#fff" />
<rect x="409.6" y="212" width="9" height="4" fill="#fff" />
<rect x="409" y="178.6" width="9.5" height="3" fill="#fff" />
<line x1="421.5" y1="177" x2="421.5" y2="254" stroke="#000" stroke-width="0.9" />
<line x1="426.5" y1="178" x2="426.5" y2="254" stroke="#000" stroke-width="0.8" />
<rect x="408" y="251.5" width="12.5" height="4.5" fill="#000" />
<rect x="410.5" y="252.5" width="2" height="2" fill="#fff" />
<rect x="414.5" y="252.5" width="2" height="2" fill="#fff" />
<rect x="428.5" y="150.7" width="17.8" height="26" fill="#fff" stroke="#000" stroke-width="1.3" />
<rect x="432.2" y="142.3" width="10.8" height="8.2" fill="#fff" stroke="#000" stroke-width="1.2" />
<rect x="435.3" y="145.3" width="4.6" height="4" fill="none" stroke="#000" stroke-width="1.1" />
<line x1="428.5" y1="169.6" x2="446.3" y2="169.6" stroke="#000" stroke-width="1.4" />
<line x1="439.5" y1="169.5" x2="439.5" y2="176.5" stroke="#000" stroke-width="1" />
<rect x="428.5" y="176.7" width="17.8" height="73.3" fill="#fff" stroke="#000" stroke-width="1.3" />
<rect x="430.1" y="178" width="12" height="71.5" fill="#000" />
<rect x="436.3" y="179.6" width="1.3" height="1.6" fill="#fff" />
<rect x="439.1" y="180.2" width="2.6" height="0.9" fill="#fff" />
<rect x="436.3" y="182.95" width="1.3" height="1.6" fill="#fff" />
<rect x="439.1" y="183.55" width="2.6" height="0.9" fill="#fff" />
<rect x="436.3" y="186.3" width="1.3" height="1.6" fill="#fff" />
<rect x="439.1" y="186.9" width="2.6" height="0.9" fill="#fff" />
<rect x="436.3" y="189.65" width="1.3" height="1.6" fill="#fff" />
<rect x="439.1" y="190.25" width="2.6" height="0.9" fill="#fff" />
<rect x="436.3" y="193" width="1.3" height="1.6" fill="#fff" />
<rect x="439.1" y="193.6" width="2.6" height="0.9" fill="#fff" />
<rect x="436.3" y="196.35" width="1.3" height="1.6" fill="#fff" />
<rect x="439.1" y="196.95" width="2.6" height="0.9" fill="#fff" />
<rect x="436.3" y="199.7" width="1.3" height="1.6" fill="#fff" />
<rect x="439.1" y="200.3" width="2.6" height="0.9" fill="#fff" />
<rect x="436.3" y="203.05" width="1.3" height="1.6" fill="#fff" />
<rect x="439.1" y="203.65" width="2.6" height="0.9" fill="#fff" />
<rect x="436.3" y="206.4" width="1.3" height="1.6" fill="#fff" />
<rect x="439.1" y="207" width="2.6" height="0.9" fill="#fff" />
<rect x="436.3" y="209.75" width="1.3" height="1.6" fill="#fff" />
<rect x="439.1" y="210.35" width="2.6" height="0.9" fill="#fff" />
<rect x="436.3" y="213.1" width="1.3" height="1.6" fill="#fff" />
<rect x="439.1" y="213.7" width="2.6" height="0.9" fill="#fff" />
<rect x="436.3" y="216.45" width="1.3" height="1.6" fill="#fff" />
<rect x="439.1" y="217.05" width="2.6" height="0.9" fill="#fff" />
<rect x="436.3" y="219.8" width="1.3" height="1.6" fill="#fff" />
<rect x="439.1" y="220.4" width="2.6" height="0.9" fill="#fff" />
<rect x="436.3" y="223.15" width="1.3" height="1.6" fill="#fff" />
<rect x="439.1" y="223.75" width="2.6" height="0.9" fill="#fff" />
<rect x="436.3" y="226.5" width="1.3" height="1.6" fill="#fff" />
<rect x="439.1" y="227.1" width="2.6" height="0.9" fill="#fff" />
<rect x="436.3" y="229.85" width="1.3" height="1.6" fill="#fff" />
<rect x="439.1" y="230.45" width="2.6" height="0.9" fill="#fff" />
<rect x="436.3" y="233.2" width="1.3" height="1.6" fill="#fff" />
<rect x="439.1" y="233.8" width="2.6" height="0.9" fill="#fff" />
<rect x="436.3" y="236.55" width="1.3" height="1.6" fill="#fff" />
<rect x="439.1" y="237.15" width="2.6" height="0.9" fill="#fff" />
<rect x="436.3" y="239.9" width="1.3" height="1.6" fill="#fff" />
<rect x="439.1" y="240.5" width="2.6" height="0.9" fill="#fff" />
<rect x="436.3" y="243.25" width="1.3" height="1.6" fill="#fff" />
<rect x="439.1" y="243.85" width="2.6" height="0.9" fill="#fff" />
<rect x="436.3" y="246.6" width="1.3" height="1.6" fill="#fff" />
<rect x="439.1" y="247.2" width="2.6" height="0.9" fill="#fff" />
<rect x="433" y="180" width="0.7" height="0.7" fill="#fff" />
<rect x="433" y="182.6" width="0.7" height="0.7" fill="#fff" />
<rect x="433" y="185.2" width="0.7" height="0.7" fill="#fff" />
<rect x="443.3" y="178" width="1.6" height="71.5" fill="#fff" />
<line x1="442.8" y1="178" x2="442.8" y2="249" stroke="#444" stroke-width="0.6" />
<rect x="432" y="250" width="9" height="6" fill="#fff" stroke="#000" stroke-width="1" />
<rect x="434" y="251.5" width="1.5" height="4.5" fill="#000" />
<rect x="437.5" y="251.5" width="1.5" height="4.5" fill="#000" />
<rect x="429" y="252" width="3" height="4" fill="#000" />
<rect x="446.3" y="150.7" width="17.8" height="26" fill="#fff" stroke="#000" stroke-width="1.3" />
<rect x="450" y="142.3" width="10.8" height="8.2" fill="#fff" stroke="#000" stroke-width="1.2" />
<rect x="453.1" y="145.3" width="4.6" height="4" fill="none" stroke="#000" stroke-width="1.1" />
<line x1="446.3" y1="169.6" x2="464.1" y2="169.6" stroke="#000" stroke-width="1.4" />
<line x1="457.3" y1="169.5" x2="457.3" y2="176.5" stroke="#000" stroke-width="1" />
<rect x="446.3" y="176.7" width="17.8" height="73.3" fill="#fff" stroke="#000" stroke-width="1.3" />
<rect x="447.9" y="178" width="12" height="71.5" fill="#000" />
<rect x="454.1" y="179.6" width="1.3" height="1.6" fill="#fff" />
<rect x="456.9" y="180.2" width="2.6" height="0.9" fill="#fff" />
<rect x="454.1" y="182.95" width="1.3" height="1.6" fill="#fff" />
<rect x="456.9" y="183.55" width="2.6" height="0.9" fill="#fff" />
<rect x="454.1" y="186.3" width="1.3" height="1.6" fill="#fff" />
<rect x="456.9" y="186.9" width="2.6" height="0.9" fill="#fff" />
<rect x="454.1" y="189.65" width="1.3" height="1.6" fill="#fff" />
<rect x="456.9" y="190.25" width="2.6" height="0.9" fill="#fff" />
<rect x="454.1" y="193" width="1.3" height="1.6" fill="#fff" />
<rect x="456.9" y="193.6" width="2.6" height="0.9" fill="#fff" />
<rect x="454.1" y="196.35" width="1.3" height="1.6" fill="#fff" />
<rect x="456.9" y="196.95" width="2.6" height="0.9" fill="#fff" />
<rect x="454.1" y="199.7" width="1.3" height="1.6" fill="#fff" />
<rect x="456.9" y="200.3" width="2.6" height="0.9" fill="#fff" />
<rect x="454.1" y="203.05" width="1.3" height="1.6" fill="#fff" />
<rect x="456.9" y="203.65" width="2.6" height="0.9" fill="#fff" />
<rect x="454.1" y="206.4" width="1.3" height="1.6" fill="#fff" />
<rect x="456.9" y="207" width="2.6" height="0.9" fill="#fff" />
<rect x="454.1" y="209.75" width="1.3" height="1.6" fill="#fff" />
<rect x="456.9" y="210.35" width="2.6" height="0.9" fill="#fff" />
<rect x="454.1" y="213.1" width="1.3" height="1.6" fill="#fff" />
<rect x="456.9" y="213.7" width="2.6" height="0.9" fill="#fff" />
<rect x="454.1" y="216.45" width="1.3" height="1.6" fill="#fff" />
<rect x="456.9" y="217.05" width="2.6" height="0.9" fill="#fff" />
<rect x="454.1" y="219.8" width="1.3" height="1.6" fill="#fff" />
<rect x="456.9" y="220.4" width="2.6" height="0.9" fill="#fff" />
<rect x="454.1" y="223.15" width="1.3" height="1.6" fill="#fff" />
<rect x="456.9" y="223.75" width="2.6" height="0.9" fill="#fff" />
<rect x="454.1" y="226.5" width="1.3" height="1.6" fill="#fff" />
<rect x="456.9" y="227.1" width="2.6" height="0.9" fill="#fff" />
<rect x="454.1" y="229.85" width="1.3" height="1.6" fill="#fff" />
<rect x="456.9" y="230.45" width="2.6" height="0.9" fill="#fff" />
<rect x="454.1" y="233.2" width="1.3" height="1.6" fill="#fff" />
<rect x="456.9" y="233.8" width="2.6" height="0.9" fill="#fff" />
<rect x="454.1" y="236.55" width="1.3" height="1.6" fill="#fff" />
<rect x="456.9" y="237.15" width="2.6" height="0.9" fill="#fff" />
<rect x="454.1" y="239.9" width="1.3" height="1.6" fill="#fff" />
<rect x="456.9" y="240.5" width="2.6" height="0.9" fill="#fff" />
<rect x="454.1" y="243.25" width="1.3" height="1.6" fill="#fff" />
<rect x="456.9" y="243.85" width="2.6" height="0.9" fill="#fff" />
<rect x="454.1" y="246.6" width="1.3" height="1.6" fill="#fff" />
<rect x="456.9" y="247.2" width="2.6" height="0.9" fill="#fff" />
<rect x="450.8" y="180" width="0.7" height="0.7" fill="#fff" />
<rect x="450.8" y="182.6" width="0.7" height="0.7" fill="#fff" />
<rect x="450.8" y="185.2" width="0.7" height="0.7" fill="#fff" />
<rect x="461.1" y="178" width="1.6" height="71.5" fill="#fff" />
<line x1="460.6" y1="178" x2="460.6" y2="249" stroke="#444" stroke-width="0.6" />
<rect x="449.8" y="250" width="9" height="6" fill="#fff" stroke="#000" stroke-width="1" />
<rect x="451.8" y="251.5" width="1.5" height="4.5" fill="#000" />
<rect x="455.3" y="251.5" width="1.5" height="4.5" fill="#000" />
<rect x="446.8" y="252" width="3" height="4" fill="#000" />
<rect x="425.3" y="145.8" width="6" height="4.5" fill="#000" />
<rect x="463.5" y="147" width="4" height="3.5" fill="#000" />
<rect x="463.3" y="248.5" width="2.5" height="6.5" fill="#000" />
<rect x="464" y="176" width="7" height="45" fill="#000" />
<rect x="465" y="177" width="5" height="4" fill="#fff" />
<rect x="465" y="190" width="5" height="5" fill="#fff" />
<rect x="465" y="202" width="5" height="5" fill="#fff" />
<rect x="465" y="216" width="5" height="4" fill="#fff" />
<rect x="465" y="182" width="2" height="6" fill="#fff" />
<rect x="465" y="209" width="2" height="5" fill="#fff" />
<rect x="465" y="196" width="5" height="5" fill="#fff" />
<rect x="465.8" y="196.62" width="3.4" height="3.86" fill="none" stroke="#000" stroke-width="0.7" stroke-dasharray="1 0.8"/>
<rect x="466.5" y="198" width="2" height="1" fill="#000" />
<rect x="592.4" y="145.3" width="10.4" height="23.4" fill="#fff" stroke="#000" stroke-width="1.1" />
<line x1="592.4" y1="156.6" x2="602.8" y2="156.6" stroke="#000" stroke-width="1" />
<rect x="593.5" y="146.5" width="2" height="2" fill="#000" />
<rect x="600.2" y="146.5" width="2" height="2" fill="#000" />
<circle cx="597.6" cy="151" r="3.6" fill="#777" stroke="#000" stroke-width="1.4" />
<circle cx="597.6" cy="151" r="1.5" fill="#fff" stroke="#999" stroke-width="0.6" />
<circle cx="597.6" cy="162.6" r="2.6" fill="none" stroke="#000" stroke-width="0.9" />
<rect x="619.6" y="160.3" width="69" height="86.5" fill="#fff" stroke="#000" stroke-width="1.6" />
<rect x="620.2" y="160.8" width="6.5" height="7.2" fill="#fff" stroke="#000" stroke-width="1" />
<line x1="626.5" y1="167.8" x2="688.5" y2="167.8" stroke="#000" stroke-width="1.2" />
<rect x="620.7" y="172.5" width="20" height="63" fill="#fff" stroke="#000" stroke-width="1.2" />
<rect x="621.7" y="180.2" width="8.3" height="46.5" fill="#fff" stroke="#000" stroke-width="1.4" />
<rect x="631" y="184.3" width="1.4" height="15.7" fill="#000" />
<rect x="634" y="184.3" width="1.4" height="15.7" fill="#000" />
<rect x="637" y="184.3" width="1.4" height="15.7" fill="#000" />
<rect x="631" y="207.5" width="1.4" height="17.1" fill="#000" />
<rect x="634" y="207.5" width="1.4" height="17.1" fill="#000" />
<rect x="637" y="207.5" width="1.4" height="17.1" fill="#000" />
<rect x="633.1" y="202.2" width="4.6" height="2.8" fill="#fff" stroke="#000" stroke-width="0.9" rx="1"/>
<circle cx="631.8" cy="169.1" r="3.4" fill="#fff" stroke="#666" stroke-width="1.2" />
<rect x="628.4" y="170.4" width="6.8" height="7.8" fill="#000" />
<rect x="630.2" y="172.2" width="1.2" height="3.6" fill="#fff" />
<rect x="632.4" y="172.2" width="1.2" height="3.6" fill="#fff" />
<rect x="630.8" y="176.6" width="2" height="1.6" fill="#fff" />
<circle cx="631.8" cy="237.3" r="3.4" fill="#fff" stroke="#666" stroke-width="1.2" />
<rect x="628.4" y="228.4" width="6.8" height="7.6" fill="#000" />
<rect x="630.2" y="230.4" width="1.2" height="3.6" fill="#fff" />
<rect x="632.4" y="230.4" width="1.2" height="3.6" fill="#fff" />
<rect x="630.8" y="228.6" width="2" height="1.4" fill="#fff" />
<rect x="640.2" y="172.5" width="5.4" height="63" fill="#000" />
<rect x="646.1" y="172.5" width="17.4" height="63" fill="#fff" stroke="#000" stroke-width="1.2" />
<rect x="646.2" y="180.2" width="6.2" height="46.5" fill="#fff" stroke="#000" stroke-width="1.4" />
<rect x="653" y="184.3" width="1.4" height="15.7" fill="#000" />
<rect x="656" y="184.3" width="1.4" height="15.7" fill="#000" />
<rect x="659" y="184.3" width="1.4" height="15.7" fill="#000" />
<rect x="653" y="207.5" width="1.4" height="17.1" fill="#000" />
<rect x="656" y="207.5" width="1.4" height="17.1" fill="#000" />
<rect x="659" y="207.5" width="1.4" height="17.1" fill="#000" />
<rect x="655.2" y="202.2" width="4.6" height="2.8" fill="#fff" stroke="#000" stroke-width="0.9" rx="1"/>
<circle cx="653.9" cy="169.1" r="3.4" fill="#fff" stroke="#666" stroke-width="1.2" />
<rect x="650.5" y="170.4" width="6.8" height="7.8" fill="#000" />
<rect x="652.3" y="172.2" width="1.2" height="3.6" fill="#fff" />
<rect x="654.5" y="172.2" width="1.2" height="3.6" fill="#fff" />
<rect x="652.9" y="176.6" width="2" height="1.6" fill="#fff" />
<circle cx="653.9" cy="237.3" r="3.4" fill="#fff" stroke="#666" stroke-width="1.2" />
<rect x="650.5" y="228.4" width="6.8" height="7.6" fill="#000" />
<rect x="652.3" y="230.4" width="1.2" height="3.6" fill="#fff" />
<rect x="654.5" y="230.4" width="1.2" height="3.6" fill="#fff" />
<rect x="652.9" y="228.6" width="2" height="1.4" fill="#fff" />
<rect x="663" y="172.5" width="4" height="63" fill="#000" />
<rect x="664.6" y="175" width="0.9" height="58" fill="#fff" />
<rect x="667.5" y="172.5" width="21" height="63" fill="#fff" stroke="#000" stroke-width="1.2" />
<rect x="668.6" y="180.2" width="6.2" height="46.5" fill="#fff" stroke="#000" stroke-width="1.4" />
<rect x="676" y="184.3" width="1.4" height="15.7" fill="#000" />
<rect x="679" y="184.3" width="1.4" height="15.7" fill="#000" />
<rect x="682" y="184.3" width="1.4" height="15.7" fill="#000" />
<rect x="676" y="207.5" width="1.4" height="17.1" fill="#000" />
<rect x="679" y="207.5" width="1.4" height="17.1" fill="#000" />
<rect x="682" y="207.5" width="1.4" height="17.1" fill="#000" />
<rect x="677.6" y="202.2" width="4.6" height="2.8" fill="#fff" stroke="#000" stroke-width="0.9" rx="1"/>
<circle cx="676.3" cy="169.1" r="3.4" fill="#fff" stroke="#666" stroke-width="1.2" />
<rect x="672.9" y="170.4" width="6.8" height="7.8" fill="#000" />
<rect x="674.7" y="172.2" width="1.2" height="3.6" fill="#fff" />
<rect x="676.9" y="172.2" width="1.2" height="3.6" fill="#fff" />
<rect x="675.3" y="176.6" width="2" height="1.6" fill="#fff" />
<circle cx="676.3" cy="237.3" r="3.4" fill="#fff" stroke="#666" stroke-width="1.2" />
<rect x="672.9" y="228.4" width="6.8" height="7.6" fill="#000" />
<rect x="674.7" y="230.4" width="1.2" height="3.6" fill="#fff" />
<rect x="676.9" y="230.4" width="1.2" height="3.6" fill="#fff" />
<rect x="675.3" y="228.6" width="2" height="1.4" fill="#fff" />
<line x1="621.2" y1="173" x2="621.2" y2="234" stroke="#000" stroke-width="0.8" />
<line x1="620" y1="235.6" x2="688.5" y2="235.6" stroke="#000" stroke-width="1" />
<rect x="620.5" y="239" width="6.5" height="6.5" fill="#fff" stroke="#000" stroke-width="0.9" />
<path d="M622.3,240.8 V243.6 H625.2 V240.8" fill="none" stroke="#000" stroke-width="0.8" />
<rect x="650.6" y="237.2" width="6" height="4.2" fill="#fff" stroke="#000" stroke-width="1" />
<rect x="655.5" y="239.2" width="4" height="3" fill="#fff" stroke="#000" stroke-width="0.9" />
<rect x="629" y="246.2" width="0.9" height="1.2" fill="#000" />
<rect x="629" y="159" width="0.9" height="1.3" fill="#000" />
<rect x="640" y="246.2" width="0.9" height="1.2" fill="#000" />
<rect x="640" y="159" width="0.9" height="1.3" fill="#000" />
<rect x="654" y="246.2" width="0.9" height="1.2" fill="#000" />
<rect x="654" y="159" width="0.9" height="1.3" fill="#000" />
<rect x="664" y="246.2" width="0.9" height="1.2" fill="#000" />
<rect x="664" y="159" width="0.9" height="1.3" fill="#000" />
<rect x="675" y="246.2" width="0.9" height="1.2" fill="#000" />
<rect x="675" y="159" width="0.9" height="1.3" fill="#000" />
<rect x="686" y="246.2" width="0.9" height="1.2" fill="#000" />
<rect x="686" y="159" width="0.9" height="1.3" fill="#000" />
<path d="M688.8,180 V171.4 H702.2 Q704,167 708,167.5 Q710.5,168.5 714.2,181" fill="#fff" stroke="#000" stroke-width="1" />
<circle cx="706.5" cy="170.8" r="1.8" fill="none" stroke="#000" stroke-width="0.8" />
<rect x="689" y="179.8" width="25" height="45" fill="#fff" stroke="#000" stroke-width="1.3" />
<rect x="689" y="180" width="25" height="2.2" fill="#000" />
<rect x="693" y="181" width="1.4" height="0.6" fill="#fff" />
<rect x="697" y="181" width="1.4" height="0.6" fill="#fff" />
<rect x="701" y="181" width="1.4" height="0.6" fill="#fff" />
<rect x="705" y="181" width="1.4" height="0.6" fill="#fff" />
<rect x="709" y="181" width="1.4" height="0.6" fill="#fff" />
<circle cx="700.7" cy="203.6" r="11" fill="none" stroke="#555" stroke-width="0.9" stroke-dasharray="1 0.6"/>
<circle cx="700.7" cy="203.6" r="9.3" fill="#fff" stroke="#000" stroke-width="1.4" />
<rect x="691.2" y="201.4" width="14.6" height="4.3" fill="#000" />
<rect x="698.8" y="200.6" width="4.2" height="5.2" fill="#fff" />
<rect x="698.8" y="200.6" width="4.2" height="5.2" fill="none" stroke="#000" stroke-width="0.7" />
<rect x="697.2" y="192.5" width="3" height="8" fill="#000" />
<circle cx="707.5" cy="219.3" r="2" fill="none" stroke="#000" stroke-width="1" />
<rect x="691.6" y="184.6" width="4.2" height="4.4" fill="none" stroke="#000" stroke-width="1" rx="1.5"/>
<rect x="699" y="186" width="3.6" height="5.2" fill="none" stroke="#000" stroke-width="0.8" />
<rect x="696" y="192" width="1" height="1" fill="#000" />
<rect x="711.5" y="184" width="1.2" height="15" fill="#000" />
<rect x="688.6" y="222.4" width="25.6" height="6.8" fill="#000" />
<rect x="690.5" y="223.6" width="4.2" height="2.4" fill="#fff" />
<rect x="697" y="223.6" width="4.2" height="2.4" fill="#fff" />
<rect x="703.5" y="223.6" width="4.2" height="2.4" fill="#fff" />
<rect x="709" y="223.6" width="4.2" height="2.4" fill="#fff" />
<rect x="692" y="229" width="1.3" height="2" fill="#000" />
<rect x="700" y="229" width="1.3" height="2" fill="#000" />
<rect x="707" y="229" width="1.3" height="2" fill="#000" />
<line x1="689" y1="210" x2="689" y2="240" stroke="#000" stroke-width="1.2" />
<rect x="688.5" y="218" width="3.5" height="4.5" fill="#000" />
<rect x="388" y="405" width="62" height="28.5" fill="#fff" />
<line x1="388" y1="405.5" x2="450" y2="405.5" stroke="#000" stroke-width="1.1" />
<line x1="388" y1="409.5" x2="450" y2="409.5" stroke="#000" stroke-width="1.1" />
<line x1="388" y1="429.5" x2="450" y2="429.5" stroke="#000" stroke-width="1.1" />
<line x1="388" y1="433.5" x2="450" y2="433.5" stroke="#000" stroke-width="1.1" />
<path d="M390.00,417.20 H396.60 A2.2,2.2 0 0 1 396.60,421.60 H390.00 A2.2,2.2 0 0 1 390.00,417.20 Z" fill="none" stroke="#000" stroke-width="0.9" />
<rect x="392.8" y="418.9" width="1.1" height="1.1" fill="#000" />
<path d="M429.50,417.20 H436.10 A2.2,2.2 0 0 1 436.10,421.60 H429.50 A2.2,2.2 0 0 1 429.50,417.20 Z" fill="none" stroke="#000" stroke-width="0.9" />
<rect x="432.3" y="418.9" width="1.1" height="1.1" fill="#000" />
<rect x="212" y="397" width="6" height="45" fill="#000" />
<rect x="213" y="398" width="4" height="4" fill="#fff" />
<rect x="213" y="411" width="4" height="5" fill="#fff" />
<rect x="213" y="423" width="4" height="5" fill="#fff" />
<rect x="213" y="437" width="4" height="4" fill="#fff" />
<rect x="215" y="403" width="2" height="6" fill="#fff" />
<rect x="215" y="430" width="2" height="5" fill="#fff" />
<rect x="213" y="417" width="4" height="5" fill="#fff" />
<rect x="213.8" y="417.62" width="2.4" height="3.86" fill="none" stroke="#000" stroke-width="0.7" stroke-dasharray="1 0.8"/>
<rect x="214" y="419" width="2" height="1" fill="#000" />
<rect x="218" y="392" width="163.8" height="56" fill="#000" />
<rect x="219" y="393" width="3" height="13" fill="#fff" />
<rect x="219" y="407" width="3" height="11" fill="#fff" />
<rect x="219" y="419" width="3" height="3" fill="#fff" />
<rect x="219" y="425" width="3" height="11" fill="#fff" />
<rect x="219" y="437" width="3" height="10" fill="#fff" />
<rect x="223" y="393" width="3" height="13" fill="#fff" />
<rect x="223" y="407" width="3" height="11" fill="#fff" />
<rect x="223" y="419" width="3" height="3" fill="#fff" />
<rect x="223" y="425" width="3" height="11" fill="#fff" />
<rect x="223" y="437" width="3" height="10" fill="#fff" />
<rect x="227" y="393" width="3" height="13" fill="#fff" />
<rect x="227" y="407" width="3" height="11" fill="#fff" />
<rect x="227" y="419" width="3" height="3" fill="#fff" />
<rect x="227" y="425" width="3" height="11" fill="#fff" />
<rect x="227" y="437" width="3" height="10" fill="#fff" />
<rect x="231" y="393" width="3" height="13" fill="#fff" />
<rect x="231" y="407" width="3" height="11" fill="#fff" />
<rect x="231" y="419" width="3" height="3" fill="#fff" />
<rect x="231" y="425" width="3" height="11" fill="#fff" />
<rect x="231" y="437" width="3" height="10" fill="#fff" />
<rect x="235" y="393" width="3" height="13" fill="#fff" />
<rect x="235" y="407" width="3" height="11" fill="#fff" />
<rect x="235" y="419" width="3" height="3" fill="#fff" />
<rect x="235" y="425" width="3" height="11" fill="#fff" />
<rect x="235" y="437" width="3" height="10" fill="#fff" />
<rect x="239" y="393" width="3" height="13" fill="#fff" />
<rect x="239" y="407" width="3" height="11" fill="#fff" />
<rect x="239" y="419" width="3" height="3" fill="#fff" />
<rect x="239" y="425" width="3" height="11" fill="#fff" />
<rect x="239" y="437" width="3" height="10" fill="#fff" />
<rect x="243" y="393" width="3" height="13" fill="#fff" />
<rect x="243" y="407" width="3" height="11" fill="#fff" />
<rect x="243" y="419" width="3" height="3" fill="#fff" />
<rect x="243" y="425" width="3" height="11" fill="#fff" />
<rect x="243" y="437" width="3" height="10" fill="#fff" />
<rect x="247" y="393" width="3" height="13" fill="#fff" />
<rect x="247" y="407" width="3" height="11" fill="#fff" />
<rect x="247" y="419" width="3" height="3" fill="#fff" />
<rect x="247" y="425" width="3" height="11" fill="#fff" />
<rect x="247" y="437" width="3" height="10" fill="#fff" />
<rect x="251" y="393" width="3" height="13" fill="#fff" />
<rect x="251" y="407" width="3" height="11" fill="#fff" />
<rect x="251" y="419" width="3" height="3" fill="#fff" />
<rect x="251" y="425" width="3" height="11" fill="#fff" />
<rect x="251" y="437" width="3" height="10" fill="#fff" />
<rect x="255" y="393" width="3" height="13" fill="#fff" />
<rect x="255" y="407" width="3" height="11" fill="#fff" />
<rect x="255" y="419" width="3" height="3" fill="#fff" />
<rect x="255" y="425" width="3" height="11" fill="#fff" />
<rect x="255" y="437" width="3" height="10" fill="#fff" />
<rect x="260" y="393" width="3" height="13" fill="#fff" />
<rect x="260" y="407" width="3" height="11" fill="#fff" />
<rect x="260" y="419" width="3" height="3" fill="#fff" />
<rect x="260" y="425" width="3" height="11" fill="#fff" />
<rect x="260" y="437" width="3" height="10" fill="#fff" />
<rect x="264" y="393" width="3" height="13" fill="#fff" />
<rect x="264" y="407" width="3" height="11" fill="#fff" />
<rect x="264" y="419" width="3" height="3" fill="#fff" />
<rect x="264" y="425" width="3" height="11" fill="#fff" />
<rect x="264" y="437" width="3" height="10" fill="#fff" />
<rect x="268" y="393" width="3" height="13" fill="#fff" />
<rect x="268" y="407" width="3" height="11" fill="#fff" />
<rect x="268" y="419" width="3" height="3" fill="#fff" />
<rect x="268" y="425" width="3" height="11" fill="#fff" />
<rect x="268" y="437" width="3" height="10" fill="#fff" />
<rect x="272" y="393" width="3" height="13" fill="#fff" />
<rect x="272" y="407" width="3" height="11" fill="#fff" />
<rect x="272" y="419" width="3" height="3" fill="#fff" />
<rect x="272" y="425" width="3" height="11" fill="#fff" />
<rect x="272" y="437" width="3" height="10" fill="#fff" />
<rect x="276" y="393" width="3" height="13" fill="#fff" />
<rect x="276" y="407" width="3" height="11" fill="#fff" />
<rect x="276" y="419" width="3" height="3" fill="#fff" />
<rect x="276" y="425" width="3" height="11" fill="#fff" />
<rect x="276" y="437" width="3" height="10" fill="#fff" />
<rect x="280" y="393" width="3" height="13" fill="#fff" />
<rect x="280" y="407" width="3" height="11" fill="#fff" />
<rect x="280" y="419" width="3" height="3" fill="#fff" />
<rect x="280" y="425" width="3" height="11" fill="#fff" />
<rect x="280" y="437" width="3" height="10" fill="#fff" />
<rect x="284" y="393" width="3" height="13" fill="#fff" />
<rect x="284" y="407" width="3" height="11" fill="#fff" />
<rect x="284" y="419" width="3" height="3" fill="#fff" />
<rect x="284" y="425" width="3" height="11" fill="#fff" />
<rect x="284" y="437" width="3" height="10" fill="#fff" />
<rect x="288" y="393" width="3" height="13" fill="#fff" />
<rect x="288" y="407" width="3" height="11" fill="#fff" />
<rect x="288" y="419" width="3" height="3" fill="#fff" />
<rect x="288" y="425" width="3" height="11" fill="#fff" />
<rect x="288" y="437" width="3" height="10" fill="#fff" />
<rect x="292" y="393" width="3" height="13" fill="#fff" />
<rect x="292" y="407" width="3" height="11" fill="#fff" />
<rect x="292" y="419" width="3" height="3" fill="#fff" />
<rect x="292" y="425" width="3" height="11" fill="#fff" />
<rect x="292" y="437" width="3" height="10" fill="#fff" />
<rect x="296" y="393" width="3" height="13" fill="#fff" />
<rect x="296" y="407" width="3" height="11" fill="#fff" />
<rect x="296" y="419" width="3" height="3" fill="#fff" />
<rect x="296" y="425" width="3" height="11" fill="#fff" />
<rect x="296" y="437" width="3" height="10" fill="#fff" />
<rect x="300" y="393" width="3" height="13" fill="#fff" />
<rect x="300" y="407" width="3" height="11" fill="#fff" />
<rect x="300" y="419" width="3" height="3" fill="#fff" />
<rect x="300" y="425" width="3" height="11" fill="#fff" />
<rect x="300" y="437" width="3" height="10" fill="#fff" />
<rect x="304" y="393" width="3" height="13" fill="#fff" />
<rect x="304" y="407" width="3" height="11" fill="#fff" />
<rect x="304" y="419" width="3" height="3" fill="#fff" />
<rect x="304" y="425" width="3" height="11" fill="#fff" />
<rect x="304" y="437" width="3" height="10" fill="#fff" />
<rect x="308" y="393" width="3" height="13" fill="#fff" />
<rect x="308" y="407" width="3" height="11" fill="#fff" />
<rect x="308" y="419" width="3" height="3" fill="#fff" />
<rect x="308" y="425" width="3" height="11" fill="#fff" />
<rect x="308" y="437" width="3" height="10" fill="#fff" />
<rect x="312" y="393" width="3" height="13" fill="#fff" />
<rect x="312" y="407" width="3" height="11" fill="#fff" />
<rect x="312" y="419" width="3" height="3" fill="#fff" />
<rect x="312" y="425" width="3" height="11" fill="#fff" />
<rect x="312" y="437" width="3" height="10" fill="#fff" />
<rect x="316" y="393" width="3" height="13" fill="#fff" />
<rect x="316" y="407" width="3" height="11" fill="#fff" />
<rect x="316" y="419" width="3" height="3" fill="#fff" />
<rect x="316" y="425" width="3" height="11" fill="#fff" />
<rect x="316" y="437" width="3" height="10" fill="#fff" />
<rect x="320" y="393" width="3" height="13" fill="#fff" />
<rect x="320" y="407" width="3" height="11" fill="#fff" />
<rect x="320" y="419" width="3" height="3" fill="#fff" />
<rect x="320" y="425" width="3" height="11" fill="#fff" />
<rect x="320" y="437" width="3" height="10" fill="#fff" />
<rect x="324" y="393" width="3" height="13" fill="#fff" />
<rect x="324" y="407" width="3" height="11" fill="#fff" />
<rect x="324" y="419" width="3" height="3" fill="#fff" />
<rect x="324" y="425" width="3" height="11" fill="#fff" />
<rect x="324" y="437" width="3" height="10" fill="#fff" />
<rect x="329" y="393" width="3" height="13" fill="#fff" />
<rect x="329" y="407" width="3" height="11" fill="#fff" />
<rect x="329" y="419" width="3" height="3" fill="#fff" />
<rect x="329" y="425" width="3" height="11" fill="#fff" />
<rect x="329" y="437" width="3" height="10" fill="#fff" />
<rect x="333" y="393" width="3" height="13" fill="#fff" />
<rect x="333" y="407" width="3" height="11" fill="#fff" />
<rect x="333" y="419" width="3" height="3" fill="#fff" />
<rect x="333" y="425" width="3" height="11" fill="#fff" />
<rect x="333" y="437" width="3" height="10" fill="#fff" />
<rect x="337" y="393" width="3" height="13" fill="#fff" />
<rect x="337" y="407" width="3" height="11" fill="#fff" />
<rect x="337" y="419" width="3" height="3" fill="#fff" />
<rect x="337" y="425" width="3" height="11" fill="#fff" />
<rect x="337" y="437" width="3" height="10" fill="#fff" />
<rect x="341" y="393" width="3" height="13" fill="#fff" />
<rect x="341" y="407" width="3" height="11" fill="#fff" />
<rect x="341" y="419" width="3" height="3" fill="#fff" />
<rect x="341" y="425" width="3" height="11" fill="#fff" />
<rect x="341" y="437" width="3" height="10" fill="#fff" />
<rect x="345" y="393" width="3" height="13" fill="#fff" />
<rect x="345" y="407" width="3" height="11" fill="#fff" />
<rect x="345" y="419" width="3" height="3" fill="#fff" />
<rect x="345" y="425" width="3" height="11" fill="#fff" />
<rect x="345" y="437" width="3" height="10" fill="#fff" />
<rect x="349" y="393" width="3" height="13" fill="#fff" />
<rect x="349" y="407" width="3" height="11" fill="#fff" />
<rect x="349" y="419" width="3" height="3" fill="#fff" />
<rect x="349" y="425" width="3" height="11" fill="#fff" />
<rect x="349" y="437" width="3" height="10" fill="#fff" />
<rect x="353" y="393" width="3" height="13" fill="#fff" />
<rect x="353" y="407" width="3" height="11" fill="#fff" />
<rect x="353" y="419" width="3" height="3" fill="#fff" />
<rect x="353" y="425" width="3" height="11" fill="#fff" />
<rect x="353" y="437" width="3" height="10" fill="#fff" />
<rect x="357" y="393" width="3" height="13" fill="#fff" />
<rect x="357" y="407" width="3" height="11" fill="#fff" />
<rect x="357" y="419" width="3" height="3" fill="#fff" />
<rect x="357" y="425" width="3" height="11" fill="#fff" />
<rect x="357" y="437" width="3" height="10" fill="#fff" />
<rect x="361" y="393" width="3" height="13" fill="#fff" />
<rect x="361" y="407" width="3" height="11" fill="#fff" />
<rect x="361" y="419" width="3" height="3" fill="#fff" />
<rect x="361" y="425" width="3" height="11" fill="#fff" />
<rect x="361" y="437" width="3" height="10" fill="#fff" />
<rect x="365" y="393" width="3" height="13" fill="#fff" />
<rect x="365" y="407" width="3" height="11" fill="#fff" />
<rect x="365" y="419" width="3" height="3" fill="#fff" />
<rect x="365" y="425" width="3" height="11" fill="#fff" />
<rect x="365" y="437" width="3" height="10" fill="#fff" />
<rect x="369" y="393" width="3" height="13" fill="#fff" />
<rect x="369" y="407" width="3" height="11" fill="#fff" />
<rect x="369" y="419" width="3" height="3" fill="#fff" />
<rect x="369" y="425" width="3" height="11" fill="#fff" />
<rect x="369" y="437" width="3" height="10" fill="#fff" />
<rect x="373" y="393" width="3" height="13" fill="#fff" />
<rect x="373" y="407" width="3" height="11" fill="#fff" />
<rect x="373" y="419" width="3" height="3" fill="#fff" />
<rect x="373" y="425" width="3" height="11" fill="#fff" />
<rect x="373" y="437" width="3" height="10" fill="#fff" />
<rect x="377" y="393" width="3" height="13" fill="#fff" />
<rect x="377" y="407" width="3" height="11" fill="#fff" />
<rect x="377" y="419" width="3" height="3" fill="#fff" />
<rect x="377" y="425" width="3" height="11" fill="#fff" />
<rect x="377" y="437" width="3" height="10" fill="#fff" />
<rect x="218.8" y="423" width="161.5" height="1" fill="#fff" />
<rect x="219.7" y="398.2" width="1.6" height="1.8" fill="#23306a" opacity="0.9"/>
<rect x="219.7" y="400" width="1.6" height="1.4" fill="#8fa0d8" opacity="0.7"/>
<rect x="219.7" y="438.6" width="1.6" height="1.8" fill="#23306a" opacity="0.9"/>
<rect x="219.7" y="440.4" width="1.6" height="1.4" fill="#8fa0d8" opacity="0.7"/>
<rect x="223.7" y="398.2" width="1.6" height="1.8" fill="#23306a" opacity="0.9"/>
<rect x="223.7" y="400" width="1.6" height="1.4" fill="#8fa0d8" opacity="0.7"/>
<rect x="223.7" y="438.6" width="1.6" height="1.8" fill="#23306a" opacity="0.9"/>
<rect x="223.7" y="440.4" width="1.6" height="1.4" fill="#8fa0d8" opacity="0.7"/>
<rect x="227.7" y="398.2" width="1.6" height="1.8" fill="#23306a" opacity="0.9"/>
<rect x="227.7" y="400" width="1.6" height="1.4" fill="#8fa0d8" opacity="0.7"/>
<rect x="227.7" y="438.6" width="1.6" height="1.8" fill="#23306a" opacity="0.9"/>
<rect x="227.7" y="440.4" width="1.6" height="1.4" fill="#8fa0d8" opacity="0.7"/>
<rect x="227.9" y="409" width="1.3" height="6.5" fill="#6a70a8" opacity="0.55"/>
<rect x="227.9" y="411" width="1.3" height="1.6" fill="#23306a" opacity="0.8"/>
<rect x="227.9" y="426" width="1.3" height="7" fill="#6a70a8" opacity="0.55"/>
<rect x="227.9" y="430.5" width="1.3" height="1.6" fill="#23306a" opacity="0.8"/>
<rect x="231.7" y="398.2" width="1.6" height="1.8" fill="#23306a" opacity="0.9"/>
<rect x="231.7" y="400" width="1.6" height="1.4" fill="#8fa0d8" opacity="0.7"/>
<rect x="231.7" y="438.6" width="1.6" height="1.8" fill="#23306a" opacity="0.9"/>
<rect x="231.7" y="440.4" width="1.6" height="1.4" fill="#8fa0d8" opacity="0.7"/>
<rect x="231.9" y="409" width="1.3" height="6.5" fill="#6a70a8" opacity="0.55"/>
<rect x="231.9" y="411" width="1.3" height="1.6" fill="#23306a" opacity="0.8"/>
<rect x="231.9" y="426" width="1.3" height="7" fill="#6a70a8" opacity="0.55"/>
<rect x="231.9" y="430.5" width="1.3" height="1.6" fill="#23306a" opacity="0.8"/>
<rect x="235.7" y="398.2" width="1.6" height="1.8" fill="#23306a" opacity="0.9"/>
<rect x="235.7" y="400" width="1.6" height="1.4" fill="#8fa0d8" opacity="0.7"/>
<rect x="235.7" y="438.6" width="1.6" height="1.8" fill="#23306a" opacity="0.9"/>
<rect x="235.7" y="440.4" width="1.6" height="1.4" fill="#8fa0d8" opacity="0.7"/>
<rect x="235.9" y="409" width="1.3" height="6.5" fill="#6a70a8" opacity="0.55"/>
<rect x="235.9" y="411" width="1.3" height="1.6" fill="#23306a" opacity="0.8"/>
<rect x="235.9" y="426" width="1.3" height="7" fill="#6a70a8" opacity="0.55"/>
<rect x="235.9" y="430.5" width="1.3" height="1.6" fill="#23306a" opacity="0.8"/>
<rect x="239.7" y="398.2" width="1.6" height="1.8" fill="#23306a" opacity="0.9"/>
<rect x="239.7" y="400" width="1.6" height="1.4" fill="#8fa0d8" opacity="0.7"/>
<rect x="239.7" y="438.6" width="1.6" height="1.8" fill="#23306a" opacity="0.9"/>
<rect x="239.7" y="440.4" width="1.6" height="1.4" fill="#8fa0d8" opacity="0.7"/>
<rect x="239.9" y="409" width="1.3" height="6.5" fill="#6a70a8" opacity="0.55"/>
<rect x="239.9" y="411" width="1.3" height="1.6" fill="#23306a" opacity="0.8"/>
<rect x="239.9" y="426" width="1.3" height="7" fill="#6a70a8" opacity="0.55"/>
<rect x="239.9" y="430.5" width="1.3" height="1.6" fill="#23306a" opacity="0.8"/>
<rect x="243.7" y="398.2" width="1.6" height="1.8" fill="#a86a28" opacity="0.9"/>
<rect x="243.7" y="400" width="1.6" height="1.4" fill="#8fa0d8" opacity="0.7"/>
<rect x="243.7" y="438.6" width="1.6" height="1.8" fill="#a86a28" opacity="0.9"/>
<rect x="243.7" y="440.4" width="1.6" height="1.4" fill="#8fa0d8" opacity="0.7"/>
<rect x="243.9" y="409" width="1.3" height="6.5" fill="#6a70a8" opacity="0.55"/>
<rect x="243.9" y="411" width="1.3" height="1.6" fill="#a86a28" opacity="0.8"/>
<rect x="243.9" y="426" width="1.3" height="7" fill="#6a70a8" opacity="0.55"/>
<rect x="243.9" y="430.5" width="1.3" height="1.6" fill="#a86a28" opacity="0.8"/>
<rect x="247.7" y="398.2" width="1.6" height="1.8" fill="#a86a28" opacity="0.9"/>
<rect x="247.7" y="400" width="1.6" height="1.4" fill="#8fa0d8" opacity="0.7"/>
<rect x="247.7" y="438.6" width="1.6" height="1.8" fill="#a86a28" opacity="0.9"/>
<rect x="247.7" y="440.4" width="1.6" height="1.4" fill="#8fa0d8" opacity="0.7"/>
<rect x="247.9" y="409" width="1.3" height="6.5" fill="#6a70a8" opacity="0.55"/>
<rect x="247.9" y="411" width="1.3" height="1.6" fill="#a86a28" opacity="0.8"/>
<rect x="247.9" y="426" width="1.3" height="7" fill="#6a70a8" opacity="0.55"/>
<rect x="247.9" y="430.5" width="1.3" height="1.6" fill="#a86a28" opacity="0.8"/>
<rect x="251.7" y="398.2" width="1.6" height="1.8" fill="#a86a28" opacity="0.9"/>
<rect x="251.7" y="400" width="1.6" height="1.4" fill="#8fa0d8" opacity="0.7"/>
<rect x="251.7" y="438.6" width="1.6" height="1.8" fill="#a86a28" opacity="0.9"/>
<rect x="251.7" y="440.4" width="1.6" height="1.4" fill="#8fa0d8" opacity="0.7"/>
<rect x="251.9" y="409" width="1.3" height="6.5" fill="#6a70a8" opacity="0.55"/>
<rect x="251.9" y="411" width="1.3" height="1.6" fill="#a86a28" opacity="0.8"/>
<rect x="251.9" y="426" width="1.3" height="7" fill="#6a70a8" opacity="0.55"/>
<rect x="251.9" y="430.5" width="1.3" height="1.6" fill="#a86a28" opacity="0.8"/>
<rect x="255.7" y="398.2" width="1.6" height="1.8" fill="#a86a28" opacity="0.9"/>
<rect x="255.7" y="400" width="1.6" height="1.4" fill="#8fa0d8" opacity="0.7"/>
<rect x="255.7" y="438.6" width="1.6" height="1.8" fill="#a86a28" opacity="0.9"/>
<rect x="255.7" y="440.4" width="1.6" height="1.4" fill="#8fa0d8" opacity="0.7"/>
<rect x="255.9" y="409" width="1.3" height="6.5" fill="#6a70a8" opacity="0.55"/>
<rect x="255.9" y="411" width="1.3" height="1.6" fill="#a86a28" opacity="0.8"/>
<rect x="255.9" y="426" width="1.3" height="7" fill="#6a70a8" opacity="0.55"/>
<rect x="255.9" y="430.5" width="1.3" height="1.6" fill="#a86a28" opacity="0.8"/>
<rect x="260.7" y="398.2" width="1.6" height="1.8" fill="#a86a28" opacity="0.9"/>
<rect x="260.7" y="400" width="1.6" height="1.4" fill="#8fa0d8" opacity="0.7"/>
<rect x="260.7" y="438.6" width="1.6" height="1.8" fill="#a86a28" opacity="0.9"/>
<rect x="260.7" y="440.4" width="1.6" height="1.4" fill="#8fa0d8" opacity="0.7"/>
<rect x="260.9" y="409" width="1.3" height="6.5" fill="#6a70a8" opacity="0.55"/>
<rect x="260.9" y="411" width="1.3" height="1.6" fill="#a86a28" opacity="0.8"/>
<rect x="260.9" y="426" width="1.3" height="7" fill="#6a70a8" opacity="0.55"/>
<rect x="260.9" y="430.5" width="1.3" height="1.6" fill="#a86a28" opacity="0.8"/>
<rect x="264.7" y="398.2" width="1.6" height="1.8" fill="#a86a28" opacity="0.9"/>
<rect x="264.7" y="400" width="1.6" height="1.4" fill="#8fa0d8" opacity="0.7"/>
<rect x="264.7" y="438.6" width="1.6" height="1.8" fill="#a86a28" opacity="0.9"/>
<rect x="264.7" y="440.4" width="1.6" height="1.4" fill="#8fa0d8" opacity="0.7"/>
<rect x="264.9" y="409" width="1.3" height="6.5" fill="#6a70a8" opacity="0.55"/>
<rect x="264.9" y="411" width="1.3" height="1.6" fill="#a86a28" opacity="0.8"/>
<rect x="264.9" y="426" width="1.3" height="7" fill="#6a70a8" opacity="0.55"/>
<rect x="264.9" y="430.5" width="1.3" height="1.6" fill="#a86a28" opacity="0.8"/>
<rect x="268.7" y="398.2" width="1.6" height="1.8" fill="#8a2a2a" opacity="0.9"/>
<rect x="268.7" y="400" width="1.6" height="1.4" fill="#8fa0d8" opacity="0.7"/>
<rect x="268.7" y="438.6" width="1.6" height="1.8" fill="#8a2a2a" opacity="0.9"/>
<rect x="268.7" y="440.4" width="1.6" height="1.4" fill="#8fa0d8" opacity="0.7"/>
<rect x="268.9" y="409" width="1.3" height="6.5" fill="#6a70a8" opacity="0.55"/>
<rect x="268.9" y="411" width="1.3" height="1.6" fill="#8a2a2a" opacity="0.8"/>
<rect x="268.9" y="426" width="1.3" height="7" fill="#6a70a8" opacity="0.55"/>
<rect x="268.9" y="430.5" width="1.3" height="1.6" fill="#8a2a2a" opacity="0.8"/>
<rect x="272.7" y="398.2" width="1.6" height="1.8" fill="#8a2a2a" opacity="0.9"/>
<rect x="272.7" y="400" width="1.6" height="1.4" fill="#8fa0d8" opacity="0.7"/>
<rect x="272.7" y="438.6" width="1.6" height="1.8" fill="#8a2a2a" opacity="0.9"/>
<rect x="272.7" y="440.4" width="1.6" height="1.4" fill="#8fa0d8" opacity="0.7"/>
<rect x="272.9" y="409" width="1.3" height="6.5" fill="#6a70a8" opacity="0.55"/>
<rect x="272.9" y="411" width="1.3" height="1.6" fill="#8a2a2a" opacity="0.8"/>
<rect x="272.9" y="426" width="1.3" height="7" fill="#6a70a8" opacity="0.55"/>
<rect x="272.9" y="430.5" width="1.3" height="1.6" fill="#8a2a2a" opacity="0.8"/>
<rect x="276.7" y="398.2" width="1.6" height="1.8" fill="#8a2a2a" opacity="0.9"/>
<rect x="276.7" y="400" width="1.6" height="1.4" fill="#8fa0d8" opacity="0.7"/>
<rect x="276.7" y="438.6" width="1.6" height="1.8" fill="#8a2a2a" opacity="0.9"/>
<rect x="276.7" y="440.4" width="1.6" height="1.4" fill="#8fa0d8" opacity="0.7"/>
<rect x="276.9" y="409" width="1.3" height="6.5" fill="#6a70a8" opacity="0.55"/>
<rect x="276.9" y="411" width="1.3" height="1.6" fill="#8a2a2a" opacity="0.8"/>
<rect x="276.9" y="426" width="1.3" height="7" fill="#6a70a8" opacity="0.55"/>
<rect x="276.9" y="430.5" width="1.3" height="1.6" fill="#8a2a2a" opacity="0.8"/>
<rect x="280.7" y="398.2" width="1.6" height="1.8" fill="#8a2a2a" opacity="0.9"/>
<rect x="280.7" y="400" width="1.6" height="1.4" fill="#8fa0d8" opacity="0.7"/>
<rect x="280.7" y="438.6" width="1.6" height="1.8" fill="#8a2a2a" opacity="0.9"/>
<rect x="280.7" y="440.4" width="1.6" height="1.4" fill="#8fa0d8" opacity="0.7"/>
<rect x="280.9" y="409" width="1.3" height="6.5" fill="#6a70a8" opacity="0.55"/>
<rect x="280.9" y="411" width="1.3" height="1.6" fill="#8a2a2a" opacity="0.8"/>
<rect x="280.9" y="426" width="1.3" height="7" fill="#6a70a8" opacity="0.55"/>
<rect x="280.9" y="430.5" width="1.3" height="1.6" fill="#8a2a2a" opacity="0.8"/>
<rect x="284.7" y="398.2" width="1.6" height="1.8" fill="#8a2a2a" opacity="0.9"/>
<rect x="284.7" y="400" width="1.6" height="1.4" fill="#8fa0d8" opacity="0.7"/>
<rect x="284.7" y="438.6" width="1.6" height="1.8" fill="#8a2a2a" opacity="0.9"/>
<rect x="284.7" y="440.4" width="1.6" height="1.4" fill="#8fa0d8" opacity="0.7"/>
<rect x="284.9" y="409" width="1.3" height="6.5" fill="#6a70a8" opacity="0.55"/>
<rect x="284.9" y="411" width="1.3" height="1.6" fill="#8a2a2a" opacity="0.8"/>
<rect x="284.9" y="426" width="1.3" height="7" fill="#6a70a8" opacity="0.55"/>
<rect x="284.9" y="430.5" width="1.3" height="1.6" fill="#8a2a2a" opacity="0.8"/>
<rect x="288.7" y="398.2" width="1.6" height="1.8" fill="#8a2a2a" opacity="0.9"/>
<rect x="288.7" y="400" width="1.6" height="1.4" fill="#8fa0d8" opacity="0.7"/>
<rect x="288.7" y="438.6" width="1.6" height="1.8" fill="#8a2a2a" opacity="0.9"/>
<rect x="288.7" y="440.4" width="1.6" height="1.4" fill="#8fa0d8" opacity="0.7"/>
<rect x="288.9" y="409" width="1.3" height="6.5" fill="#6a70a8" opacity="0.55"/>
<rect x="288.9" y="411" width="1.3" height="1.6" fill="#8a2a2a" opacity="0.8"/>
<rect x="288.9" y="426" width="1.3" height="7" fill="#6a70a8" opacity="0.55"/>
<rect x="288.9" y="430.5" width="1.3" height="1.6" fill="#8a2a2a" opacity="0.8"/>
<rect x="292.7" y="398.2" width="1.6" height="1.8" fill="#2a48a0" opacity="0.9"/>
<rect x="292.7" y="400" width="1.6" height="1.4" fill="#8fa0d8" opacity="0.7"/>
<rect x="292.7" y="438.6" width="1.6" height="1.8" fill="#2a48a0" opacity="0.9"/>
<rect x="292.7" y="440.4" width="1.6" height="1.4" fill="#8fa0d8" opacity="0.7"/>
<rect x="292.9" y="409" width="1.3" height="6.5" fill="#6a70a8" opacity="0.55"/>
<rect x="292.9" y="411" width="1.3" height="1.6" fill="#2a48a0" opacity="0.8"/>
<rect x="292.9" y="426" width="1.3" height="7" fill="#6a70a8" opacity="0.55"/>
<rect x="292.9" y="430.5" width="1.3" height="1.6" fill="#2a48a0" opacity="0.8"/>
<rect x="296.7" y="398.2" width="1.6" height="1.8" fill="#2a48a0" opacity="0.9"/>
<rect x="296.7" y="400" width="1.6" height="1.4" fill="#8fa0d8" opacity="0.7"/>
<rect x="296.7" y="438.6" width="1.6" height="1.8" fill="#2a48a0" opacity="0.9"/>
<rect x="296.7" y="440.4" width="1.6" height="1.4" fill="#8fa0d8" opacity="0.7"/>
<rect x="296.9" y="409" width="1.3" height="6.5" fill="#6a70a8" opacity="0.55"/>
<rect x="296.9" y="411" width="1.3" height="1.6" fill="#2a48a0" opacity="0.8"/>
<rect x="296.9" y="426" width="1.3" height="7" fill="#6a70a8" opacity="0.55"/>
<rect x="296.9" y="430.5" width="1.3" height="1.6" fill="#2a48a0" opacity="0.8"/>
<rect x="300.7" y="398.2" width="1.6" height="1.8" fill="#2a48a0" opacity="0.9"/>
<rect x="300.7" y="400" width="1.6" height="1.4" fill="#8fa0d8" opacity="0.7"/>
<rect x="300.7" y="438.6" width="1.6" height="1.8" fill="#2a48a0" opacity="0.9"/>
<rect x="300.7" y="440.4" width="1.6" height="1.4" fill="#8fa0d8" opacity="0.7"/>
<rect x="300.9" y="409" width="1.3" height="6.5" fill="#6a70a8" opacity="0.55"/>
<rect x="300.9" y="411" width="1.3" height="1.6" fill="#2a48a0" opacity="0.8"/>
<rect x="300.9" y="426" width="1.3" height="7" fill="#6a70a8" opacity="0.55"/>
<rect x="300.9" y="430.5" width="1.3" height="1.6" fill="#2a48a0" opacity="0.8"/>
<rect x="304.7" y="398.2" width="1.6" height="1.8" fill="#2a48a0" opacity="0.9"/>
<rect x="304.7" y="400" width="1.6" height="1.4" fill="#8fa0d8" opacity="0.7"/>
<rect x="304.7" y="438.6" width="1.6" height="1.8" fill="#2a48a0" opacity="0.9"/>
<rect x="304.7" y="440.4" width="1.6" height="1.4" fill="#8fa0d8" opacity="0.7"/>
<rect x="304.9" y="409" width="1.3" height="6.5" fill="#6a70a8" opacity="0.55"/>
<rect x="304.9" y="411" width="1.3" height="1.6" fill="#2a48a0" opacity="0.8"/>
<rect x="304.9" y="426" width="1.3" height="7" fill="#6a70a8" opacity="0.55"/>
<rect x="304.9" y="430.5" width="1.3" height="1.6" fill="#2a48a0" opacity="0.8"/>
<rect x="308.7" y="398.2" width="1.6" height="1.8" fill="#2a48a0" opacity="0.9"/>
<rect x="308.7" y="400" width="1.6" height="1.4" fill="#8fa0d8" opacity="0.7"/>
<rect x="308.7" y="438.6" width="1.6" height="1.8" fill="#2a48a0" opacity="0.9"/>
<rect x="308.7" y="440.4" width="1.6" height="1.4" fill="#8fa0d8" opacity="0.7"/>
<rect x="308.9" y="409" width="1.3" height="6.5" fill="#6a70a8" opacity="0.55"/>
<rect x="308.9" y="411" width="1.3" height="1.6" fill="#2a48a0" opacity="0.8"/>
<rect x="308.9" y="426" width="1.3" height="7" fill="#6a70a8" opacity="0.55"/>
<rect x="308.9" y="430.5" width="1.3" height="1.6" fill="#2a48a0" opacity="0.8"/>
<rect x="312.7" y="398.2" width="1.6" height="1.8" fill="#2a48a0" opacity="0.9"/>
<rect x="312.7" y="400" width="1.6" height="1.4" fill="#8fa0d8" opacity="0.7"/>
<rect x="312.7" y="438.6" width="1.6" height="1.8" fill="#2a48a0" opacity="0.9"/>
<rect x="312.7" y="440.4" width="1.6" height="1.4" fill="#8fa0d8" opacity="0.7"/>
<rect x="312.9" y="409" width="1.3" height="6.5" fill="#6a70a8" opacity="0.55"/>
<rect x="312.9" y="411" width="1.3" height="1.6" fill="#2a48a0" opacity="0.8"/>
<rect x="312.9" y="426" width="1.3" height="7" fill="#6a70a8" opacity="0.55"/>
<rect x="312.9" y="430.5" width="1.3" height="1.6" fill="#2a48a0" opacity="0.8"/>
<rect x="316.7" y="398.2" width="1.6" height="1.8" fill="#333" opacity="0.9"/>
<rect x="316.7" y="400" width="1.6" height="1.4" fill="#8fa0d8" opacity="0.7"/>
<rect x="316.7" y="438.6" width="1.6" height="1.8" fill="#333" opacity="0.9"/>
<rect x="316.7" y="440.4" width="1.6" height="1.4" fill="#8fa0d8" opacity="0.7"/>
<rect x="316.9" y="409" width="1.3" height="6.5" fill="#6a70a8" opacity="0.55"/>
<rect x="316.9" y="411" width="1.3" height="1.6" fill="#333" opacity="0.8"/>
<rect x="316.9" y="426" width="1.3" height="7" fill="#6a70a8" opacity="0.55"/>
<rect x="316.9" y="430.5" width="1.3" height="1.6" fill="#333" opacity="0.8"/>
<rect x="320.7" y="398.2" width="1.6" height="1.8" fill="#333" opacity="0.9"/>
<rect x="320.7" y="400" width="1.6" height="1.4" fill="#8fa0d8" opacity="0.7"/>
<rect x="320.7" y="438.6" width="1.6" height="1.8" fill="#333" opacity="0.9"/>
<rect x="320.7" y="440.4" width="1.6" height="1.4" fill="#8fa0d8" opacity="0.7"/>
<rect x="320.9" y="409" width="1.3" height="6.5" fill="#6a70a8" opacity="0.55"/>
<rect x="320.9" y="411" width="1.3" height="1.6" fill="#333" opacity="0.8"/>
<rect x="320.9" y="426" width="1.3" height="7" fill="#6a70a8" opacity="0.55"/>
<rect x="320.9" y="430.5" width="1.3" height="1.6" fill="#333" opacity="0.8"/>
<rect x="324.7" y="398.2" width="1.6" height="1.8" fill="#333" opacity="0.9"/>
<rect x="324.7" y="400" width="1.6" height="1.4" fill="#8fa0d8" opacity="0.7"/>
<rect x="324.7" y="438.6" width="1.6" height="1.8" fill="#333" opacity="0.9"/>
<rect x="324.7" y="440.4" width="1.6" height="1.4" fill="#8fa0d8" opacity="0.7"/>
<rect x="324.9" y="409" width="1.3" height="6.5" fill="#6a70a8" opacity="0.55"/>
<rect x="324.9" y="411" width="1.3" height="1.6" fill="#333" opacity="0.8"/>
<rect x="324.9" y="426" width="1.3" height="7" fill="#6a70a8" opacity="0.55"/>
<rect x="324.9" y="430.5" width="1.3" height="1.6" fill="#333" opacity="0.8"/>
<rect x="329.7" y="398.2" width="1.6" height="1.8" fill="#333" opacity="0.9"/>
<rect x="329.7" y="400" width="1.6" height="1.4" fill="#8fa0d8" opacity="0.7"/>
<rect x="329.7" y="438.6" width="1.6" height="1.8" fill="#333" opacity="0.9"/>
<rect x="329.7" y="440.4" width="1.6" height="1.4" fill="#8fa0d8" opacity="0.7"/>
<rect x="329.9" y="409" width="1.3" height="6.5" fill="#6a70a8" opacity="0.55"/>
<rect x="329.9" y="411" width="1.3" height="1.6" fill="#333" opacity="0.8"/>
<rect x="329.9" y="426" width="1.3" height="7" fill="#6a70a8" opacity="0.55"/>
<rect x="329.9" y="430.5" width="1.3" height="1.6" fill="#333" opacity="0.8"/>
<rect x="333.7" y="398.2" width="1.6" height="1.8" fill="#333" opacity="0.9"/>
<rect x="333.7" y="400" width="1.6" height="1.4" fill="#8fa0d8" opacity="0.7"/>
<rect x="333.7" y="438.6" width="1.6" height="1.8" fill="#333" opacity="0.9"/>
<rect x="333.7" y="440.4" width="1.6" height="1.4" fill="#8fa0d8" opacity="0.7"/>
<rect x="333.9" y="409" width="1.3" height="6.5" fill="#6a70a8" opacity="0.55"/>
<rect x="333.9" y="411" width="1.3" height="1.6" fill="#333" opacity="0.8"/>
<rect x="333.9" y="426" width="1.3" height="7" fill="#6a70a8" opacity="0.55"/>
<rect x="333.9" y="430.5" width="1.3" height="1.6" fill="#333" opacity="0.8"/>
<rect x="337.7" y="398.2" width="1.6" height="1.8" fill="#333" opacity="0.9"/>
<rect x="337.7" y="400" width="1.6" height="1.4" fill="#8fa0d8" opacity="0.7"/>
<rect x="337.7" y="438.6" width="1.6" height="1.8" fill="#333" opacity="0.9"/>
<rect x="337.7" y="440.4" width="1.6" height="1.4" fill="#8fa0d8" opacity="0.7"/>
<rect x="337.9" y="409" width="1.3" height="6.5" fill="#6a70a8" opacity="0.55"/>
<rect x="337.9" y="411" width="1.3" height="1.6" fill="#333" opacity="0.8"/>
<rect x="337.9" y="426" width="1.3" height="7" fill="#6a70a8" opacity="0.55"/>
<rect x="337.9" y="430.5" width="1.3" height="1.6" fill="#333" opacity="0.8"/>
<rect x="341.7" y="398.2" width="1.6" height="1.8" fill="#23306a" opacity="0.9"/>
<rect x="341.7" y="400" width="1.6" height="1.4" fill="#8fa0d8" opacity="0.7"/>
<rect x="341.7" y="438.6" width="1.6" height="1.8" fill="#23306a" opacity="0.9"/>
<rect x="341.7" y="440.4" width="1.6" height="1.4" fill="#8fa0d8" opacity="0.7"/>
<rect x="341.9" y="409" width="1.3" height="6.5" fill="#6a70a8" opacity="0.55"/>
<rect x="341.9" y="411" width="1.3" height="1.6" fill="#23306a" opacity="0.8"/>
<rect x="341.9" y="426" width="1.3" height="7" fill="#6a70a8" opacity="0.55"/>
<rect x="341.9" y="430.5" width="1.3" height="1.6" fill="#23306a" opacity="0.8"/>
<rect x="345.7" y="398.2" width="1.6" height="1.8" fill="#23306a" opacity="0.9"/>
<rect x="345.7" y="400" width="1.6" height="1.4" fill="#8fa0d8" opacity="0.7"/>
<rect x="345.7" y="438.6" width="1.6" height="1.8" fill="#23306a" opacity="0.9"/>
<rect x="345.7" y="440.4" width="1.6" height="1.4" fill="#8fa0d8" opacity="0.7"/>
<rect x="345.9" y="409" width="1.3" height="6.5" fill="#6a70a8" opacity="0.55"/>
<rect x="345.9" y="411" width="1.3" height="1.6" fill="#23306a" opacity="0.8"/>
<rect x="345.9" y="426" width="1.3" height="7" fill="#6a70a8" opacity="0.55"/>
<rect x="345.9" y="430.5" width="1.3" height="1.6" fill="#23306a" opacity="0.8"/>
<rect x="349.7" y="398.2" width="1.6" height="1.8" fill="#23306a" opacity="0.9"/>
<rect x="349.7" y="400" width="1.6" height="1.4" fill="#8fa0d8" opacity="0.7"/>
<rect x="349.7" y="438.6" width="1.6" height="1.8" fill="#23306a" opacity="0.9"/>
<rect x="349.7" y="440.4" width="1.6" height="1.4" fill="#8fa0d8" opacity="0.7"/>
<rect x="349.9" y="409" width="1.3" height="6.5" fill="#6a70a8" opacity="0.55"/>
<rect x="349.9" y="411" width="1.3" height="1.6" fill="#23306a" opacity="0.8"/>
<rect x="349.9" y="426" width="1.3" height="7" fill="#6a70a8" opacity="0.55"/>
<rect x="349.9" y="430.5" width="1.3" height="1.6" fill="#23306a" opacity="0.8"/>
<rect x="353.7" y="398.2" width="1.6" height="1.8" fill="#23306a" opacity="0.9"/>
<rect x="353.7" y="400" width="1.6" height="1.4" fill="#8fa0d8" opacity="0.7"/>
<rect x="353.7" y="438.6" width="1.6" height="1.8" fill="#23306a" opacity="0.9"/>
<rect x="353.7" y="440.4" width="1.6" height="1.4" fill="#8fa0d8" opacity="0.7"/>
<rect x="353.9" y="409" width="1.3" height="6.5" fill="#6a70a8" opacity="0.55"/>
<rect x="353.9" y="411" width="1.3" height="1.6" fill="#23306a" opacity="0.8"/>
<rect x="353.9" y="426" width="1.3" height="7" fill="#6a70a8" opacity="0.55"/>
<rect x="353.9" y="430.5" width="1.3" height="1.6" fill="#23306a" opacity="0.8"/>
<rect x="357.7" y="398.2" width="1.6" height="1.8" fill="#111" opacity="0.9"/>
<rect x="357.7" y="400" width="1.6" height="1.4" fill="#8fa0d8" opacity="0.7"/>
<rect x="357.7" y="438.6" width="1.6" height="1.8" fill="#111" opacity="0.9"/>
<rect x="357.7" y="440.4" width="1.6" height="1.4" fill="#8fa0d8" opacity="0.7"/>
<rect x="357.9" y="409" width="1.3" height="6.5" fill="#6a70a8" opacity="0.55"/>
<rect x="357.9" y="411" width="1.3" height="1.6" fill="#111" opacity="0.8"/>
<rect x="357.9" y="426" width="1.3" height="7" fill="#6a70a8" opacity="0.55"/>
<rect x="357.9" y="430.5" width="1.3" height="1.6" fill="#111" opacity="0.8"/>
<rect x="361.7" y="398.2" width="1.6" height="1.8" fill="#111" opacity="0.9"/>
<rect x="361.7" y="400" width="1.6" height="1.4" fill="#8fa0d8" opacity="0.7"/>
<rect x="361.7" y="438.6" width="1.6" height="1.8" fill="#111" opacity="0.9"/>
<rect x="361.7" y="440.4" width="1.6" height="1.4" fill="#8fa0d8" opacity="0.7"/>
<rect x="361.9" y="409" width="1.3" height="6.5" fill="#6a70a8" opacity="0.55"/>
<rect x="361.9" y="411" width="1.3" height="1.6" fill="#111" opacity="0.8"/>
<rect x="361.9" y="426" width="1.3" height="7" fill="#6a70a8" opacity="0.55"/>
<rect x="361.9" y="430.5" width="1.3" height="1.6" fill="#111" opacity="0.8"/>
<rect x="365.7" y="398.2" width="1.6" height="1.8" fill="#111" opacity="0.9"/>
<rect x="365.7" y="400" width="1.6" height="1.4" fill="#8fa0d8" opacity="0.7"/>
<rect x="365.7" y="438.6" width="1.6" height="1.8" fill="#111" opacity="0.9"/>
<rect x="365.7" y="440.4" width="1.6" height="1.4" fill="#8fa0d8" opacity="0.7"/>
<rect x="365.9" y="409" width="1.3" height="6.5" fill="#6a70a8" opacity="0.55"/>
<rect x="365.9" y="411" width="1.3" height="1.6" fill="#111" opacity="0.8"/>
<rect x="365.9" y="426" width="1.3" height="7" fill="#6a70a8" opacity="0.55"/>
<rect x="365.9" y="430.5" width="1.3" height="1.6" fill="#111" opacity="0.8"/>
<rect x="369.7" y="398.2" width="1.6" height="1.8" fill="#111" opacity="0.9"/>
<rect x="369.7" y="400" width="1.6" height="1.4" fill="#8fa0d8" opacity="0.7"/>
<rect x="369.7" y="438.6" width="1.6" height="1.8" fill="#111" opacity="0.9"/>
<rect x="369.7" y="440.4" width="1.6" height="1.4" fill="#8fa0d8" opacity="0.7"/>
<rect x="369.9" y="409" width="1.3" height="6.5" fill="#6a70a8" opacity="0.55"/>
<rect x="369.9" y="411" width="1.3" height="1.6" fill="#111" opacity="0.8"/>
<rect x="369.9" y="426" width="1.3" height="7" fill="#6a70a8" opacity="0.55"/>
<rect x="369.9" y="430.5" width="1.3" height="1.6" fill="#111" opacity="0.8"/>
<rect x="373.7" y="398.2" width="1.6" height="1.8" fill="#111" opacity="0.9"/>
<rect x="373.7" y="400" width="1.6" height="1.4" fill="#8fa0d8" opacity="0.7"/>
<rect x="373.7" y="438.6" width="1.6" height="1.8" fill="#111" opacity="0.9"/>
<rect x="373.7" y="440.4" width="1.6" height="1.4" fill="#8fa0d8" opacity="0.7"/>
<rect x="373.9" y="409" width="1.3" height="6.5" fill="#6a70a8" opacity="0.55"/>
<rect x="373.9" y="411" width="1.3" height="1.6" fill="#111" opacity="0.8"/>
<rect x="373.9" y="426" width="1.3" height="7" fill="#6a70a8" opacity="0.55"/>
<rect x="373.9" y="430.5" width="1.3" height="1.6" fill="#111" opacity="0.8"/>
<rect x="377.7" y="398.2" width="1.6" height="1.8" fill="#111" opacity="0.9"/>
<rect x="377.7" y="400" width="1.6" height="1.4" fill="#8fa0d8" opacity="0.7"/>
<rect x="377.7" y="438.6" width="1.6" height="1.8" fill="#111" opacity="0.9"/>
<rect x="377.7" y="440.4" width="1.6" height="1.4" fill="#8fa0d8" opacity="0.7"/>
<rect x="377.9" y="409" width="1.3" height="6.5" fill="#6a70a8" opacity="0.55"/>
<rect x="377.9" y="411" width="1.3" height="1.6" fill="#111" opacity="0.8"/>
<rect x="377.9" y="426" width="1.3" height="7" fill="#6a70a8" opacity="0.55"/>
<rect x="377.9" y="430.5" width="1.3" height="1.6" fill="#111" opacity="0.8"/>
<rect x="380.2" y="392" width="1.8" height="56" fill="#000" />
<rect x="382" y="397" width="7" height="45" fill="#000" />
<rect x="383" y="398" width="5" height="4" fill="#fff" />
<rect x="383" y="411" width="5" height="5" fill="#fff" />
<rect x="383" y="423" width="5" height="5" fill="#fff" />
<rect x="383" y="437" width="5" height="4" fill="#fff" />
<rect x="383" y="403" width="2" height="6" fill="#fff" />
<rect x="383" y="430" width="2" height="5" fill="#fff" />
<rect x="383" y="417" width="5" height="5" fill="#fff" />
<rect x="383.8" y="417.62" width="3.4" height="3.86" fill="none" stroke="#000" stroke-width="0.7" stroke-dasharray="1 0.8"/>
<rect x="384.5" y="419" width="2" height="1" fill="#000" />
<rect x="449" y="397" width="8" height="45" fill="#000" />
<rect x="450" y="398" width="6" height="4" fill="#fff" />
<rect x="450" y="411" width="6" height="5" fill="#fff" />
<rect x="450" y="423" width="6" height="5" fill="#fff" />
<rect x="450" y="437" width="6" height="4" fill="#fff" />
<rect x="450" y="403" width="2" height="6" fill="#fff" />
<rect x="450" y="430" width="2" height="5" fill="#fff" />
<rect x="450" y="417" width="6" height="5" fill="#fff" />
<rect x="450.8" y="417.62" width="4.4" height="3.86" fill="none" stroke="#000" stroke-width="0.7" stroke-dasharray="1 0.8"/>
<rect x="452" y="419" width="2" height="1" fill="#000" />
<rect x="456.6" y="370.4" width="47.8" height="98.3" fill="#fff" stroke="#000" stroke-width="1.2" />
<rect x="467.1" y="368.2" width="30.6" height="9.5" fill="#000" />
<circle cx="470.6" cy="373.3" r="1.35" fill="#fff" stroke="none" stroke-width="1" />
<circle cx="474.85" cy="373.3" r="1.35" fill="#fff" stroke="none" stroke-width="1" />
<circle cx="479.1" cy="373.3" r="1.35" fill="#fff" stroke="none" stroke-width="1" />
<circle cx="483.35" cy="373.3" r="1.35" fill="#fff" stroke="none" stroke-width="1" />
<circle cx="487.6" cy="373.3" r="1.35" fill="#fff" stroke="none" stroke-width="1" />
<circle cx="491.85" cy="373.3" r="1.35" fill="#fff" stroke="none" stroke-width="1" />
<circle cx="496.1" cy="373.3" r="1.35" fill="#fff" stroke="none" stroke-width="1" />
<rect x="467" y="461.2" width="22.7" height="9.3" fill="#000" />
<circle cx="470.8" cy="466" r="1.45" fill="#fff" stroke="none" stroke-width="1" />
<circle cx="475.15" cy="466" r="1.45" fill="#fff" stroke="none" stroke-width="1" />
<circle cx="479.5" cy="466" r="1.45" fill="#fff" stroke="none" stroke-width="1" />
<circle cx="483.85" cy="466" r="1.45" fill="#fff" stroke="none" stroke-width="1" />
<circle cx="488.2" cy="466" r="1.45" fill="#fff" stroke="none" stroke-width="1" />
<rect x="488.5" y="387.4" width="9.2" height="6.1" fill="none" stroke="#000" stroke-width="1" rx="1.2"/>
<circle cx="493.8" cy="401.1" r="1.5" fill="none" stroke="#555" stroke-width="0.6" />
<line x1="468" y1="410.9" x2="504.4" y2="410.9" stroke="#000" stroke-width="1.9" />
<path d="M456.8,422 Q459,412 468,411" fill="none" stroke="#777" stroke-width="0.8" />
<rect x="461.5" y="367.8" width="4.5" height="2.7" fill="#fff" stroke="#000" stroke-width="0.8" rx="1"/>
<rect x="468" y="469.5" width="8" height="2" fill="#fff" stroke="#000" stroke-width="0.8" />
<rect x="491.6" y="467.4" width="6.2" height="3.6" fill="#fff" stroke="#000" stroke-width="0.9" />
<rect x="504" y="397" width="8" height="45" fill="#000" />
<rect x="505" y="398" width="6" height="4" fill="#fff" />
<rect x="505" y="411" width="6" height="5" fill="#fff" />
<rect x="505" y="423" width="6" height="5" fill="#fff" />
<rect x="505" y="437" width="6" height="4" fill="#fff" />
<rect x="509" y="403" width="2" height="6" fill="#fff" />
<rect x="509" y="430" width="2" height="5" fill="#fff" />
<rect x="505" y="417" width="6" height="5" fill="#fff" />
<rect x="505.8" y="417.62" width="4.4" height="3.86" fill="none" stroke="#000" stroke-width="0.7" stroke-dasharray="1 0.8"/>
<rect x="507" y="419" width="2" height="1" fill="#000" />
<rect x="546" y="367" width="143" height="16" fill="#fff" />
<line x1="546" y1="367.5" x2="690" y2="367.5" stroke="#000" stroke-width="1.1" />
<rect x="511" y="383" width="35" height="72" fill="#fff" />
<line x1="511.5" y1="383" x2="511.5" y2="456" stroke="#000" stroke-width="1.1" />
<line x1="546.5" y1="383" x2="546.5" y2="456" stroke="#000" stroke-width="1.1" />
<line x1="511" y1="383.5" x2="547" y2="383.5" stroke="#000" stroke-width="1.1" />
<line x1="511" y1="401.5" x2="547" y2="401.5" stroke="#000" stroke-width="1.1" />
<line x1="511" y1="437.5" x2="547" y2="437.5" stroke="#000" stroke-width="1.1" />
<line x1="511" y1="444.5" x2="547" y2="444.5" stroke="#000" stroke-width="1.1" />
<line x1="511" y1="455.5" x2="547" y2="455.5" stroke="#000" stroke-width="1.1" />
<circle cx="517.3" cy="390.8" r="2.8" fill="#fff" stroke="#000" stroke-width="0.9" />
<line x1="514.5" y1="390.8" x2="520.1" y2="390.8" stroke="#000" stroke-width="0.7" />
<line x1="517.3" y1="388" x2="517.3" y2="393.6" stroke="#000" stroke-width="0.7" />
<rect x="515.4" y="385.3" width="0.8" height="2" fill="#444" />
<rect x="516.9" y="385.3" width="0.8" height="2" fill="#444" />
<rect x="518.4" y="385.3" width="0.8" height="2" fill="#444" />
<circle cx="517.3" cy="449.3" r="2.8" fill="#fff" stroke="#000" stroke-width="0.9" />
<line x1="514.5" y1="449.3" x2="520.1" y2="449.3" stroke="#000" stroke-width="0.7" />
<line x1="517.3" y1="446.5" x2="517.3" y2="452.1" stroke="#000" stroke-width="0.7" />
<rect x="515.5" y="452.5" width="3.6" height="1.2" fill="#333" />
<circle cx="528.8" cy="390.8" r="2.8" fill="#fff" stroke="#000" stroke-width="0.9" />
<line x1="526" y1="390.8" x2="531.6" y2="390.8" stroke="#000" stroke-width="0.7" />
<line x1="528.8" y1="388" x2="528.8" y2="393.6" stroke="#000" stroke-width="0.7" />
<rect x="526.9" y="385.3" width="0.8" height="2" fill="#444" />
<rect x="528.4" y="385.3" width="0.8" height="2" fill="#444" />
<rect x="529.9" y="385.3" width="0.8" height="2" fill="#444" />
<circle cx="528.8" cy="449.3" r="2.8" fill="#fff" stroke="#000" stroke-width="0.9" />
<line x1="526" y1="449.3" x2="531.6" y2="449.3" stroke="#000" stroke-width="0.7" />
<line x1="528.8" y1="446.5" x2="528.8" y2="452.1" stroke="#000" stroke-width="0.7" />
<rect x="527" y="452.5" width="3.6" height="1.2" fill="#333" />
<circle cx="539.9" cy="390.8" r="2.8" fill="#fff" stroke="#000" stroke-width="0.9" />
<line x1="537.1" y1="390.8" x2="542.7" y2="390.8" stroke="#000" stroke-width="0.7" />
<line x1="539.9" y1="388" x2="539.9" y2="393.6" stroke="#000" stroke-width="0.7" />
<rect x="538" y="385.3" width="0.8" height="2" fill="#444" />
<rect x="539.5" y="385.3" width="0.8" height="2" fill="#444" />
<rect x="541" y="385.3" width="0.8" height="2" fill="#444" />
<circle cx="539.9" cy="449.3" r="2.8" fill="#fff" stroke="#000" stroke-width="0.9" />
<line x1="537.1" y1="449.3" x2="542.7" y2="449.3" stroke="#000" stroke-width="0.7" />
<line x1="539.9" y1="446.5" x2="539.9" y2="452.1" stroke="#000" stroke-width="0.7" />
<rect x="538.1" y="452.5" width="3.6" height="1.2" fill="#333" />
<circle cx="531.9" cy="423" r="8.6" fill="none" stroke="#000" stroke-width="1" />
<rect x="521.3" y="419.5" width="23.4" height="7.2" fill="#fff" stroke="#000" stroke-width="1.3" />
<rect x="518.3" y="421" width="1.9" height="2.8" fill="#000" />
<rect x="514" y="411.8" width="3" height="1.5" fill="#000" />
<rect x="514.5" y="411" width="1" height="3" fill="#000" />
<rect x="514" y="420.8" width="3" height="1.2" fill="#000" />
<path d="M523.10,413.4 h2.6 M524.40,413.4 v3" fill="none" stroke="#000" stroke-width="1" />
<path d="M531.00,411 h1.6 v2.6 h-1.6" fill="none" stroke="#000" stroke-width="1" />
<rect x="511" y="367" width="35" height="16" fill="#fff" />
<line x1="511.5" y1="367" x2="511.5" y2="383" stroke="#000" stroke-width="1.1" />
<line x1="546.5" y1="367" x2="546.5" y2="383" stroke="#000" stroke-width="1.1" />
<line x1="511" y1="367.5" x2="547" y2="367.5" stroke="#000" stroke-width="1.1" />
<line x1="511" y1="378.8" x2="547" y2="378.8" stroke="#000" stroke-width="1" />
<circle cx="517.6" cy="372.8" r="3.1" fill="#fff" stroke="#000" stroke-width="1.9" />
<circle cx="528.8" cy="372.8" r="3.1" fill="#fff" stroke="#000" stroke-width="1.9" />
<circle cx="539.9" cy="372.8" r="3.1" fill="#fff" stroke="#000" stroke-width="1.9" />
<rect x="512.6" y="363.1" width="9.8" height="4.1" fill="#fff" stroke="#000" stroke-width="1.1" />
<rect x="524" y="363.1" width="9.5" height="4.1" fill="#fff" stroke="#000" stroke-width="1.1" />
<rect x="535.8" y="363.1" width="9.1" height="4.1" fill="#fff" stroke="#000" stroke-width="1.1" />
<rect x="546" y="383" width="36" height="72" fill="#fff" />
<line x1="546.5" y1="383" x2="546.5" y2="456" stroke="#000" stroke-width="1.1" />
<line x1="582.5" y1="383" x2="582.5" y2="456" stroke="#000" stroke-width="1.1" />
<line x1="546" y1="383.5" x2="583" y2="383.5" stroke="#000" stroke-width="1.1" />
<line x1="546" y1="401.5" x2="583" y2="401.5" stroke="#000" stroke-width="1.1" />
<line x1="546" y1="437.5" x2="583" y2="437.5" stroke="#000" stroke-width="1.1" />
<line x1="546" y1="444.5" x2="583" y2="444.5" stroke="#000" stroke-width="1.1" />
<line x1="546" y1="455.5" x2="583" y2="455.5" stroke="#000" stroke-width="1.1" />
<circle cx="552.3" cy="390.8" r="2.8" fill="#fff" stroke="#000" stroke-width="0.9" />
<line x1="549.5" y1="390.8" x2="555.1" y2="390.8" stroke="#000" stroke-width="0.7" />
<line x1="552.3" y1="388" x2="552.3" y2="393.6" stroke="#000" stroke-width="0.7" />
<rect x="550.4" y="385.3" width="0.8" height="2" fill="#444" />
<rect x="551.9" y="385.3" width="0.8" height="2" fill="#444" />
<rect x="553.4" y="385.3" width="0.8" height="2" fill="#444" />
<circle cx="552.3" cy="449.3" r="2.8" fill="#fff" stroke="#000" stroke-width="0.9" />
<line x1="549.5" y1="449.3" x2="555.1" y2="449.3" stroke="#000" stroke-width="0.7" />
<line x1="552.3" y1="446.5" x2="552.3" y2="452.1" stroke="#000" stroke-width="0.7" />
<rect x="550.5" y="452.5" width="3.6" height="1.2" fill="#333" />
<circle cx="563.8" cy="390.8" r="2.8" fill="#fff" stroke="#000" stroke-width="0.9" />
<line x1="561" y1="390.8" x2="566.6" y2="390.8" stroke="#000" stroke-width="0.7" />
<line x1="563.8" y1="388" x2="563.8" y2="393.6" stroke="#000" stroke-width="0.7" />
<rect x="561.9" y="385.3" width="0.8" height="2" fill="#444" />
<rect x="563.4" y="385.3" width="0.8" height="2" fill="#444" />
<rect x="564.9" y="385.3" width="0.8" height="2" fill="#444" />
<circle cx="563.8" cy="449.3" r="2.8" fill="#fff" stroke="#000" stroke-width="0.9" />
<line x1="561" y1="449.3" x2="566.6" y2="449.3" stroke="#000" stroke-width="0.7" />
<line x1="563.8" y1="446.5" x2="563.8" y2="452.1" stroke="#000" stroke-width="0.7" />
<rect x="562" y="452.5" width="3.6" height="1.2" fill="#333" />
<circle cx="574.9" cy="390.8" r="2.8" fill="#fff" stroke="#000" stroke-width="0.9" />
<line x1="572.1" y1="390.8" x2="577.7" y2="390.8" stroke="#000" stroke-width="0.7" />
<line x1="574.9" y1="388" x2="574.9" y2="393.6" stroke="#000" stroke-width="0.7" />
<rect x="573" y="385.3" width="0.8" height="2" fill="#444" />
<rect x="574.5" y="385.3" width="0.8" height="2" fill="#444" />
<rect x="576" y="385.3" width="0.8" height="2" fill="#444" />
<circle cx="574.9" cy="449.3" r="2.8" fill="#fff" stroke="#000" stroke-width="0.9" />
<line x1="572.1" y1="449.3" x2="577.7" y2="449.3" stroke="#000" stroke-width="0.7" />
<line x1="574.9" y1="446.5" x2="574.9" y2="452.1" stroke="#000" stroke-width="0.7" />
<rect x="573.1" y="452.5" width="3.6" height="1.2" fill="#333" />
<circle cx="566.9" cy="423" r="8.6" fill="none" stroke="#000" stroke-width="1" />
<rect x="556.3" y="419.5" width="23.4" height="7.2" fill="#fff" stroke="#000" stroke-width="1.3" />
<rect x="553.3" y="421" width="1.9" height="2.8" fill="#000" />
<rect x="549" y="411.8" width="3" height="1.5" fill="#000" />
<rect x="549.5" y="411" width="1" height="3" fill="#000" />
<rect x="549" y="420.8" width="3" height="1.2" fill="#000" />
<path d="M558.10,413.4 h2.6 M559.40,413.4 v3" fill="none" stroke="#000" stroke-width="1" />
<path d="M566.00,411 h1.6 v2.6 h-1.6" fill="none" stroke="#000" stroke-width="1" />
<rect x="582" y="383" width="36" height="72" fill="#fff" />
<line x1="582.5" y1="383" x2="582.5" y2="456" stroke="#000" stroke-width="1.1" />
<line x1="618.5" y1="383" x2="618.5" y2="456" stroke="#000" stroke-width="1.1" />
<line x1="582" y1="383.5" x2="619" y2="383.5" stroke="#000" stroke-width="1.1" />
<line x1="582" y1="401.5" x2="619" y2="401.5" stroke="#000" stroke-width="1.1" />
<line x1="582" y1="437.5" x2="619" y2="437.5" stroke="#000" stroke-width="1.1" />
<line x1="582" y1="444.5" x2="619" y2="444.5" stroke="#000" stroke-width="1.1" />
<line x1="582" y1="455.5" x2="619" y2="455.5" stroke="#000" stroke-width="1.1" />
<circle cx="588.3" cy="390.8" r="2.8" fill="#fff" stroke="#000" stroke-width="0.9" />
<line x1="585.5" y1="390.8" x2="591.1" y2="390.8" stroke="#000" stroke-width="0.7" />
<line x1="588.3" y1="388" x2="588.3" y2="393.6" stroke="#000" stroke-width="0.7" />
<rect x="586.4" y="385.3" width="0.8" height="2" fill="#444" />
<rect x="587.9" y="385.3" width="0.8" height="2" fill="#444" />
<rect x="589.4" y="385.3" width="0.8" height="2" fill="#444" />
<circle cx="588.3" cy="449.3" r="2.8" fill="#fff" stroke="#000" stroke-width="0.9" />
<line x1="585.5" y1="449.3" x2="591.1" y2="449.3" stroke="#000" stroke-width="0.7" />
<line x1="588.3" y1="446.5" x2="588.3" y2="452.1" stroke="#000" stroke-width="0.7" />
<rect x="586.5" y="452.5" width="3.6" height="1.2" fill="#333" />
<circle cx="599.8" cy="390.8" r="2.8" fill="#fff" stroke="#000" stroke-width="0.9" />
<line x1="597" y1="390.8" x2="602.6" y2="390.8" stroke="#000" stroke-width="0.7" />
<line x1="599.8" y1="388" x2="599.8" y2="393.6" stroke="#000" stroke-width="0.7" />
<rect x="597.9" y="385.3" width="0.8" height="2" fill="#444" />
<rect x="599.4" y="385.3" width="0.8" height="2" fill="#444" />
<rect x="600.9" y="385.3" width="0.8" height="2" fill="#444" />
<circle cx="599.8" cy="449.3" r="2.8" fill="#fff" stroke="#000" stroke-width="0.9" />
<line x1="597" y1="449.3" x2="602.6" y2="449.3" stroke="#000" stroke-width="0.7" />
<line x1="599.8" y1="446.5" x2="599.8" y2="452.1" stroke="#000" stroke-width="0.7" />
<rect x="598" y="452.5" width="3.6" height="1.2" fill="#333" />
<circle cx="610.9" cy="390.8" r="2.8" fill="#fff" stroke="#000" stroke-width="0.9" />
<line x1="608.1" y1="390.8" x2="613.7" y2="390.8" stroke="#000" stroke-width="0.7" />
<line x1="610.9" y1="388" x2="610.9" y2="393.6" stroke="#000" stroke-width="0.7" />
<rect x="609" y="385.3" width="0.8" height="2" fill="#444" />
<rect x="610.5" y="385.3" width="0.8" height="2" fill="#444" />
<rect x="612" y="385.3" width="0.8" height="2" fill="#444" />
<circle cx="610.9" cy="449.3" r="2.8" fill="#fff" stroke="#000" stroke-width="0.9" />
<line x1="608.1" y1="449.3" x2="613.7" y2="449.3" stroke="#000" stroke-width="0.7" />
<line x1="610.9" y1="446.5" x2="610.9" y2="452.1" stroke="#000" stroke-width="0.7" />
<rect x="609.1" y="452.5" width="3.6" height="1.2" fill="#333" />
<circle cx="602.9" cy="423" r="8.6" fill="none" stroke="#000" stroke-width="1" />
<rect x="592.3" y="419.5" width="23.4" height="7.2" fill="#fff" stroke="#000" stroke-width="1.3" />
<rect x="589.3" y="421" width="1.9" height="2.8" fill="#000" />
<rect x="585" y="411.8" width="3" height="1.5" fill="#000" />
<rect x="585.5" y="411" width="1" height="3" fill="#000" />
<rect x="585" y="420.8" width="3" height="1.2" fill="#000" />
<path d="M594.10,413.4 h2.6 M595.40,413.4 v3" fill="none" stroke="#000" stroke-width="1" />
<path d="M602.00,411 h1.6 v2.6 h-1.6" fill="none" stroke="#000" stroke-width="1" />
<rect x="618" y="383" width="36" height="72" fill="#fff" />
<line x1="618.5" y1="383" x2="618.5" y2="456" stroke="#000" stroke-width="1.1" />
<line x1="654.5" y1="383" x2="654.5" y2="456" stroke="#000" stroke-width="1.1" />
<line x1="618" y1="383.5" x2="655" y2="383.5" stroke="#000" stroke-width="1.1" />
<line x1="618" y1="401.5" x2="655" y2="401.5" stroke="#000" stroke-width="1.1" />
<line x1="618" y1="437.5" x2="655" y2="437.5" stroke="#000" stroke-width="1.1" />
<line x1="618" y1="444.5" x2="655" y2="444.5" stroke="#000" stroke-width="1.1" />
<line x1="618" y1="455.5" x2="655" y2="455.5" stroke="#000" stroke-width="1.1" />
<circle cx="624.3" cy="390.8" r="2.8" fill="#fff" stroke="#000" stroke-width="0.9" />
<line x1="621.5" y1="390.8" x2="627.1" y2="390.8" stroke="#000" stroke-width="0.7" />
<line x1="624.3" y1="388" x2="624.3" y2="393.6" stroke="#000" stroke-width="0.7" />
<rect x="622.4" y="385.3" width="0.8" height="2" fill="#444" />
<rect x="623.9" y="385.3" width="0.8" height="2" fill="#444" />
<rect x="625.4" y="385.3" width="0.8" height="2" fill="#444" />
<circle cx="624.3" cy="449.3" r="2.8" fill="#fff" stroke="#000" stroke-width="0.9" />
<line x1="621.5" y1="449.3" x2="627.1" y2="449.3" stroke="#000" stroke-width="0.7" />
<line x1="624.3" y1="446.5" x2="624.3" y2="452.1" stroke="#000" stroke-width="0.7" />
<rect x="622.5" y="452.5" width="3.6" height="1.2" fill="#333" />
<circle cx="635.8" cy="390.8" r="2.8" fill="#fff" stroke="#000" stroke-width="0.9" />
<line x1="633" y1="390.8" x2="638.6" y2="390.8" stroke="#000" stroke-width="0.7" />
<line x1="635.8" y1="388" x2="635.8" y2="393.6" stroke="#000" stroke-width="0.7" />
<rect x="633.9" y="385.3" width="0.8" height="2" fill="#444" />
<rect x="635.4" y="385.3" width="0.8" height="2" fill="#444" />
<rect x="636.9" y="385.3" width="0.8" height="2" fill="#444" />
<circle cx="635.8" cy="449.3" r="2.8" fill="#fff" stroke="#000" stroke-width="0.9" />
<line x1="633" y1="449.3" x2="638.6" y2="449.3" stroke="#000" stroke-width="0.7" />
<line x1="635.8" y1="446.5" x2="635.8" y2="452.1" stroke="#000" stroke-width="0.7" />
<rect x="634" y="452.5" width="3.6" height="1.2" fill="#333" />
<circle cx="646.9" cy="390.8" r="2.8" fill="#fff" stroke="#000" stroke-width="0.9" />
<line x1="644.1" y1="390.8" x2="649.7" y2="390.8" stroke="#000" stroke-width="0.7" />
<line x1="646.9" y1="388" x2="646.9" y2="393.6" stroke="#000" stroke-width="0.7" />
<rect x="645" y="385.3" width="0.8" height="2" fill="#444" />
<rect x="646.5" y="385.3" width="0.8" height="2" fill="#444" />
<rect x="648" y="385.3" width="0.8" height="2" fill="#444" />
<circle cx="646.9" cy="449.3" r="2.8" fill="#fff" stroke="#000" stroke-width="0.9" />
<line x1="644.1" y1="449.3" x2="649.7" y2="449.3" stroke="#000" stroke-width="0.7" />
<line x1="646.9" y1="446.5" x2="646.9" y2="452.1" stroke="#000" stroke-width="0.7" />
<rect x="645.1" y="452.5" width="3.6" height="1.2" fill="#333" />
<circle cx="638.9" cy="423" r="8.6" fill="none" stroke="#000" stroke-width="1" />
<rect x="628.3" y="419.5" width="23.4" height="7.2" fill="#fff" stroke="#000" stroke-width="1.3" />
<rect x="625.3" y="421" width="1.9" height="2.8" fill="#000" />
<rect x="621" y="411.8" width="3" height="1.5" fill="#000" />
<rect x="621.5" y="411" width="1" height="3" fill="#000" />
<rect x="621" y="420.8" width="3" height="1.2" fill="#000" />
<path d="M630.10,413.4 h2.6 M631.40,413.4 v3" fill="none" stroke="#000" stroke-width="1" />
<path d="M638.00,411 h1.6 v2.6 h-1.6" fill="none" stroke="#000" stroke-width="1" />
<rect x="654" y="383" width="35" height="72" fill="#fff" />
<line x1="654.5" y1="383" x2="654.5" y2="456" stroke="#000" stroke-width="1.1" />
<line x1="689.5" y1="383" x2="689.5" y2="456" stroke="#000" stroke-width="1.1" />
<line x1="654" y1="383.5" x2="690" y2="383.5" stroke="#000" stroke-width="1.1" />
<line x1="654" y1="401.5" x2="690" y2="401.5" stroke="#000" stroke-width="1.1" />
<line x1="654" y1="437.5" x2="690" y2="437.5" stroke="#000" stroke-width="1.1" />
<line x1="654" y1="444.5" x2="690" y2="444.5" stroke="#000" stroke-width="1.1" />
<line x1="654" y1="455.5" x2="690" y2="455.5" stroke="#000" stroke-width="1.1" />
<circle cx="660.3" cy="390.8" r="2.8" fill="#fff" stroke="#000" stroke-width="0.9" />
<line x1="657.5" y1="390.8" x2="663.1" y2="390.8" stroke="#000" stroke-width="0.7" />
<line x1="660.3" y1="388" x2="660.3" y2="393.6" stroke="#000" stroke-width="0.7" />
<rect x="658.4" y="385.3" width="0.8" height="2" fill="#444" />
<rect x="659.9" y="385.3" width="0.8" height="2" fill="#444" />
<rect x="661.4" y="385.3" width="0.8" height="2" fill="#444" />
<circle cx="660.3" cy="449.3" r="2.8" fill="#fff" stroke="#000" stroke-width="0.9" />
<line x1="657.5" y1="449.3" x2="663.1" y2="449.3" stroke="#000" stroke-width="0.7" />
<line x1="660.3" y1="446.5" x2="660.3" y2="452.1" stroke="#000" stroke-width="0.7" />
<rect x="658.5" y="452.5" width="3.6" height="1.2" fill="#333" />
<circle cx="671.8" cy="390.8" r="2.8" fill="#fff" stroke="#000" stroke-width="0.9" />
<line x1="669" y1="390.8" x2="674.6" y2="390.8" stroke="#000" stroke-width="0.7" />
<line x1="671.8" y1="388" x2="671.8" y2="393.6" stroke="#000" stroke-width="0.7" />
<rect x="669.9" y="385.3" width="0.8" height="2" fill="#444" />
<rect x="671.4" y="385.3" width="0.8" height="2" fill="#444" />
<rect x="672.9" y="385.3" width="0.8" height="2" fill="#444" />
<circle cx="671.8" cy="449.3" r="2.8" fill="#fff" stroke="#000" stroke-width="0.9" />
<line x1="669" y1="449.3" x2="674.6" y2="449.3" stroke="#000" stroke-width="0.7" />
<line x1="671.8" y1="446.5" x2="671.8" y2="452.1" stroke="#000" stroke-width="0.7" />
<rect x="670" y="452.5" width="3.6" height="1.2" fill="#333" />
<circle cx="682.9" cy="390.8" r="2.8" fill="#fff" stroke="#000" stroke-width="0.9" />
<line x1="680.1" y1="390.8" x2="685.7" y2="390.8" stroke="#000" stroke-width="0.7" />
<line x1="682.9" y1="388" x2="682.9" y2="393.6" stroke="#000" stroke-width="0.7" />
<rect x="681" y="385.3" width="0.8" height="2" fill="#444" />
<rect x="682.5" y="385.3" width="0.8" height="2" fill="#444" />
<rect x="684" y="385.3" width="0.8" height="2" fill="#444" />
<circle cx="682.9" cy="449.3" r="2.8" fill="#fff" stroke="#000" stroke-width="0.9" />
<line x1="680.1" y1="449.3" x2="685.7" y2="449.3" stroke="#000" stroke-width="0.7" />
<line x1="682.9" y1="446.5" x2="682.9" y2="452.1" stroke="#000" stroke-width="0.7" />
<rect x="681.1" y="452.5" width="3.6" height="1.2" fill="#333" />
<circle cx="674.9" cy="423" r="8.6" fill="none" stroke="#000" stroke-width="1" />
<rect x="664.3" y="419.5" width="23.4" height="7.2" fill="#fff" stroke="#000" stroke-width="1.3" />
<rect x="661.3" y="421" width="1.9" height="2.8" fill="#000" />
<rect x="657" y="411.8" width="3" height="1.5" fill="#000" />
<rect x="657.5" y="411" width="1" height="3" fill="#000" />
<rect x="657" y="420.8" width="3" height="1.2" fill="#000" />
<path d="M666.10,413.4 h2.6 M667.40,413.4 v3" fill="none" stroke="#000" stroke-width="1" />
<path d="M674.00,411 h1.6 v2.6 h-1.6" fill="none" stroke="#000" stroke-width="1" />
<rect x="689" y="383" width="36" height="72" fill="#fff" />
<line x1="689.5" y1="383" x2="689.5" y2="456" stroke="#000" stroke-width="1.1" />
<line x1="725.5" y1="383" x2="725.5" y2="456" stroke="#000" stroke-width="1.1" />
<line x1="689" y1="383.5" x2="726" y2="383.5" stroke="#000" stroke-width="1.1" />
<line x1="689" y1="401.5" x2="726" y2="401.5" stroke="#000" stroke-width="1.1" />
<line x1="689" y1="437.5" x2="726" y2="437.5" stroke="#000" stroke-width="1.1" />
<line x1="689" y1="444.5" x2="726" y2="444.5" stroke="#000" stroke-width="1.1" />
<line x1="689" y1="455.5" x2="726" y2="455.5" stroke="#000" stroke-width="1.1" />
<circle cx="695.3" cy="390.8" r="2.8" fill="#fff" stroke="#000" stroke-width="0.9" />
<line x1="692.5" y1="390.8" x2="698.1" y2="390.8" stroke="#000" stroke-width="0.7" />
<line x1="695.3" y1="388" x2="695.3" y2="393.6" stroke="#000" stroke-width="0.7" />
<rect x="693.4" y="385.3" width="0.8" height="2" fill="#444" />
<rect x="694.9" y="385.3" width="0.8" height="2" fill="#444" />
<rect x="696.4" y="385.3" width="0.8" height="2" fill="#444" />
<circle cx="695.3" cy="449.3" r="2.8" fill="#fff" stroke="#000" stroke-width="0.9" />
<line x1="692.5" y1="449.3" x2="698.1" y2="449.3" stroke="#000" stroke-width="0.7" />
<line x1="695.3" y1="446.5" x2="695.3" y2="452.1" stroke="#000" stroke-width="0.7" />
<rect x="693.5" y="452.5" width="3.6" height="1.2" fill="#333" />
<circle cx="706.8" cy="390.8" r="2.8" fill="#fff" stroke="#000" stroke-width="0.9" />
<line x1="704" y1="390.8" x2="709.6" y2="390.8" stroke="#000" stroke-width="0.7" />
<line x1="706.8" y1="388" x2="706.8" y2="393.6" stroke="#000" stroke-width="0.7" />
<rect x="704.9" y="385.3" width="0.8" height="2" fill="#444" />
<rect x="706.4" y="385.3" width="0.8" height="2" fill="#444" />
<rect x="707.9" y="385.3" width="0.8" height="2" fill="#444" />
<circle cx="706.8" cy="449.3" r="2.8" fill="#fff" stroke="#000" stroke-width="0.9" />
<line x1="704" y1="449.3" x2="709.6" y2="449.3" stroke="#000" stroke-width="0.7" />
<line x1="706.8" y1="446.5" x2="706.8" y2="452.1" stroke="#000" stroke-width="0.7" />
<rect x="705" y="452.5" width="3.6" height="1.2" fill="#333" />
<circle cx="717.9" cy="390.8" r="2.8" fill="#fff" stroke="#000" stroke-width="0.9" />
<line x1="715.1" y1="390.8" x2="720.7" y2="390.8" stroke="#000" stroke-width="0.7" />
<line x1="717.9" y1="388" x2="717.9" y2="393.6" stroke="#000" stroke-width="0.7" />
<rect x="716" y="385.3" width="0.8" height="2" fill="#444" />
<rect x="717.5" y="385.3" width="0.8" height="2" fill="#444" />
<rect x="719" y="385.3" width="0.8" height="2" fill="#444" />
<circle cx="717.9" cy="449.3" r="2.8" fill="#fff" stroke="#000" stroke-width="0.9" />
<line x1="715.1" y1="449.3" x2="720.7" y2="449.3" stroke="#000" stroke-width="0.7" />
<line x1="717.9" y1="446.5" x2="717.9" y2="452.1" stroke="#000" stroke-width="0.7" />
<rect x="716.1" y="452.5" width="3.6" height="1.2" fill="#333" />
<circle cx="709.9" cy="423" r="8.6" fill="none" stroke="#000" stroke-width="1" />
<rect x="699.3" y="419.5" width="23.4" height="7.2" fill="#fff" stroke="#000" stroke-width="1.3" />
<rect x="696.3" y="421" width="1.9" height="2.8" fill="#000" />
<rect x="692" y="411.8" width="3" height="1.5" fill="#000" />
<rect x="692.5" y="411" width="1" height="3" fill="#000" />
<rect x="692" y="420.8" width="3" height="1.2" fill="#000" />
<path d="M701.10,413.4 h2.6 M702.40,413.4 v3" fill="none" stroke="#000" stroke-width="1" />
<path d="M709.00,411 h1.6 v2.6 h-1.6" fill="none" stroke="#000" stroke-width="1" />
<rect x="689" y="367" width="36" height="16" fill="#fff" />
<line x1="689.5" y1="367" x2="689.5" y2="383" stroke="#000" stroke-width="1.1" />
<line x1="725.5" y1="367" x2="725.5" y2="383" stroke="#000" stroke-width="1.1" />
<line x1="689" y1="367.5" x2="726" y2="367.5" stroke="#000" stroke-width="1.1" />
<line x1="689" y1="378.8" x2="726" y2="378.8" stroke="#000" stroke-width="1" />
<circle cx="695.6" cy="372.8" r="3.1" fill="#fff" stroke="#000" stroke-width="1.9" />
<circle cx="706.8" cy="372.8" r="3.1" fill="#fff" stroke="#000" stroke-width="1.9" />
<circle cx="717.9" cy="372.8" r="3.1" fill="#fff" stroke="#000" stroke-width="1.9" />
<rect x="690.6" y="363.1" width="9.8" height="4.1" fill="#fff" stroke="#000" stroke-width="1.1" />
<rect x="702" y="363.1" width="9.5" height="4.1" fill="#fff" stroke="#000" stroke-width="1.1" />
<rect x="713.8" y="363.1" width="9.1" height="4.1" fill="#fff" stroke="#000" stroke-width="1.1" />
<rect x="545.5" y="444" width="2" height="2" fill="#000" />
<rect x="581.5" y="444" width="2" height="2" fill="#000" />
<rect x="617.5" y="444" width="2" height="2" fill="#000" />
<rect x="653.5" y="444" width="2" height="2" fill="#000" />
<rect x="688.5" y="444" width="2" height="2" fill="#000" />
<rect x="725" y="397" width="9" height="45" fill="#000" />
<rect x="726" y="398" width="7" height="4" fill="#fff" />
<rect x="726" y="411" width="7" height="5" fill="#fff" />
<rect x="726" y="423" width="7" height="5" fill="#fff" />
<rect x="726" y="437" width="7" height="4" fill="#fff" />
<rect x="726" y="403" width="2" height="6" fill="#fff" />
<rect x="726" y="430" width="2" height="5" fill="#fff" />
<rect x="726" y="417" width="7" height="5" fill="#fff" />
<rect x="726.8" y="417.62" width="5.4" height="3.86" fill="none" stroke="#000" stroke-width="0.7" stroke-dasharray="1 0.8"/>
<rect x="728.5" y="419" width="2" height="1" fill="#000" />
<circle cx="725.5" cy="458" r="3.6" fill="#fff" stroke="#555" stroke-width="0.9" />
<rect x="268" y="653" width="94" height="28.5" fill="#fff" />
<line x1="268" y1="653.5" x2="362" y2="653.5" stroke="#000" stroke-width="1.1" />
<line x1="268" y1="657.5" x2="362" y2="657.5" stroke="#000" stroke-width="1.1" />
<line x1="268" y1="677.5" x2="362" y2="677.5" stroke="#000" stroke-width="1.1" />
<line x1="268" y1="681.5" x2="362" y2="681.5" stroke="#000" stroke-width="1.1" />
<path d="M270.30,665.20 H276.90 A2.2,2.2 0 0 1 276.90,669.60 H270.30 A2.2,2.2 0 0 1 270.30,665.20 Z" fill="none" stroke="#000" stroke-width="0.9" />
<rect x="273.1" y="666.9" width="1.1" height="1.1" fill="#000" />
<path d="M310.30,665.20 H316.90 A2.2,2.2 0 0 1 316.90,669.60 H310.30 A2.2,2.2 0 0 1 310.30,665.20 Z" fill="none" stroke="#000" stroke-width="0.9" />
<rect x="313.1" y="666.9" width="1.1" height="1.1" fill="#000" />
<path d="M350.30,665.20 H356.90 A2.2,2.2 0 0 1 356.90,669.60 H350.30 A2.2,2.2 0 0 1 350.30,665.20 Z" fill="none" stroke="#000" stroke-width="0.9" />
<rect x="353.1" y="666.9" width="1.1" height="1.1" fill="#000" />
<rect x="213" y="644" width="7" height="46" fill="#000" />
<rect x="214" y="645" width="5" height="4" fill="#fff" />
<rect x="214" y="658" width="5" height="5" fill="#fff" />
<rect x="214" y="671" width="5" height="5" fill="#fff" />
<rect x="214" y="685" width="5" height="4" fill="#fff" />
<rect x="217" y="650" width="2" height="6" fill="#fff" />
<rect x="217" y="678" width="2" height="5" fill="#fff" />
<rect x="214" y="664" width="5" height="6" fill="#fff" />
<rect x="214.8" y="665.08" width="3.4" height="3.95" fill="none" stroke="#000" stroke-width="0.7" stroke-dasharray="1 0.8"/>
<rect x="215.5" y="666" width="2" height="1" fill="#000" />
<rect x="219.4" y="631.8" width="6.7" height="67.5" fill="#000" rx="1"/>
<rect x="221.1" y="637.5" width="1.3" height="2.2" fill="#fff" />
<rect x="223.8" y="637.5" width="1.3" height="2.2" fill="#fff" />
<rect x="221.1" y="643" width="1.3" height="2.2" fill="#fff" />
<rect x="223.8" y="643" width="1.3" height="2.2" fill="#fff" />
<rect x="221.1" y="647" width="1.3" height="2.2" fill="#fff" />
<rect x="223.8" y="647" width="1.3" height="2.2" fill="#fff" />
<rect x="221.1" y="650.5" width="1.3" height="2.2" fill="#fff" />
<rect x="223.8" y="650.5" width="1.3" height="2.2" fill="#fff" />
<rect x="221.1" y="657" width="1.3" height="2.2" fill="#fff" />
<rect x="223.8" y="657" width="1.3" height="2.2" fill="#fff" />
<rect x="221.1" y="663.5" width="1.3" height="2.2" fill="#fff" />
<rect x="223.8" y="663.5" width="1.3" height="2.2" fill="#fff" />
<rect x="221.1" y="670.5" width="1.3" height="2.2" fill="#fff" />
<rect x="223.8" y="670.5" width="1.3" height="2.2" fill="#fff" />
<rect x="221.1" y="678" width="1.3" height="2.2" fill="#fff" />
<rect x="223.8" y="678" width="1.3" height="2.2" fill="#fff" />
<rect x="221.1" y="684.5" width="1.3" height="2.2" fill="#fff" />
<rect x="223.8" y="684.5" width="1.3" height="2.2" fill="#fff" />
<rect x="221.1" y="692" width="1.3" height="2.2" fill="#fff" />
<rect x="223.8" y="692" width="1.3" height="2.2" fill="#fff" />
<rect x="221.1" y="695.5" width="1.3" height="2.2" fill="#fff" />
<rect x="223.8" y="695.5" width="1.3" height="2.2" fill="#fff" />
<g opacity="0.85"><rect x="220" y="627" width="5.5" height="1.3" fill="#c07a30"/><rect x="220" y="629" width="5.5" height="1.5" fill="#3050a0"/></g>
<rect x="226.6" y="650.8" width="34.4" height="31.5" fill="#fff" stroke="#000" stroke-width="1.3" />
<line x1="226.6" y1="651" x2="261" y2="651" stroke="#000" stroke-width="2" />
<line x1="226.6" y1="682.2" x2="261" y2="682.2" stroke="#000" stroke-width="2" />
<rect x="233.1" y="647.4" width="2.9" height="3.2" fill="#fff" stroke="#000" stroke-width="1" />
<rect x="233.1" y="682.6" width="2.9" height="3" fill="#fff" stroke="#000" stroke-width="1" />
<rect x="241.6" y="647.4" width="3.4" height="3.2" fill="#fff" stroke="#000" stroke-width="1" />
<rect x="241.6" y="682.6" width="3.4" height="3" fill="#fff" stroke="#000" stroke-width="1" />
<rect x="251" y="647.4" width="2.9" height="3.2" fill="#fff" stroke="#000" stroke-width="1" />
<rect x="251" y="682.6" width="2.9" height="3" fill="#fff" stroke="#000" stroke-width="1" />
<line x1="237.4" y1="651" x2="237.4" y2="682" stroke="#000" stroke-width="1" />
<line x1="249.7" y1="651" x2="249.7" y2="682" stroke="#000" stroke-width="1" />
<rect x="236.4" y="662.5" width="14.2" height="9" fill="#fff" stroke="#000" stroke-width="1.5" />
<path d="M239.5,663.5 V668 Q239.5,671 243.5,671 Q247.5,671 247.5,668 V663.5" fill="none" stroke="#000" stroke-width="1.2" />
<rect x="241.5" y="664.5" width="1" height="3" fill="#000" />
<rect x="244.5" y="664.5" width="1" height="3" fill="#000" />
<rect x="242" y="668.5" width="3" height="1" fill="#000" />
<rect x="241.6" y="648.3" width="2.9" height="13.2" fill="#fff" stroke="#000" stroke-width="1" />
<rect x="241.5" y="647.8" width="3" height="2.2" fill="#000" />
<rect x="252.5" y="663.2" width="4.2" height="6.4" fill="#fff" stroke="#000" stroke-width="1" />
<circle cx="230.3" cy="655.4" r="2.6" fill="#fff" stroke="#000" stroke-width="1.1" />
<line x1="228.1" y1="655.4" x2="232.5" y2="655.4" stroke="#000" stroke-width="0.7" />
<line x1="230.3" y1="653.2" x2="230.3" y2="657.6" stroke="#000" stroke-width="0.7" />
<circle cx="239.3" cy="655.4" r="2.6" fill="#fff" stroke="#000" stroke-width="1.1" />
<line x1="237.1" y1="655.4" x2="241.5" y2="655.4" stroke="#000" stroke-width="0.7" />
<line x1="239.3" y1="653.2" x2="239.3" y2="657.6" stroke="#000" stroke-width="0.7" />
<circle cx="247.3" cy="655.4" r="2.6" fill="#fff" stroke="#000" stroke-width="1.1" />
<line x1="245.1" y1="655.4" x2="249.5" y2="655.4" stroke="#000" stroke-width="0.7" />
<line x1="247.3" y1="653.2" x2="247.3" y2="657.6" stroke="#000" stroke-width="0.7" />
<circle cx="256.3" cy="655.4" r="2.6" fill="#fff" stroke="#000" stroke-width="1.1" />
<line x1="254.1" y1="655.4" x2="258.5" y2="655.4" stroke="#000" stroke-width="0.7" />
<line x1="256.3" y1="653.2" x2="256.3" y2="657.6" stroke="#000" stroke-width="0.7" />
<circle cx="230.3" cy="677.1" r="2.6" fill="#fff" stroke="#000" stroke-width="1.1" />
<line x1="228.1" y1="677.1" x2="232.5" y2="677.1" stroke="#000" stroke-width="0.7" />
<line x1="230.3" y1="674.9" x2="230.3" y2="679.3" stroke="#000" stroke-width="0.7" />
<circle cx="239.3" cy="677.1" r="2.6" fill="#fff" stroke="#000" stroke-width="1.1" />
<line x1="237.1" y1="677.1" x2="241.5" y2="677.1" stroke="#000" stroke-width="0.7" />
<line x1="239.3" y1="674.9" x2="239.3" y2="679.3" stroke="#000" stroke-width="0.7" />
<circle cx="247.3" cy="677.1" r="2.6" fill="#fff" stroke="#000" stroke-width="1.1" />
<line x1="245.1" y1="677.1" x2="249.5" y2="677.1" stroke="#000" stroke-width="0.7" />
<line x1="247.3" y1="674.9" x2="247.3" y2="679.3" stroke="#000" stroke-width="0.7" />
<circle cx="256.3" cy="677.1" r="2.8" fill="#000" stroke="#000" stroke-width="0.8" />
<rect x="261" y="644" width="7" height="46" fill="#000" />
<rect x="262" y="645" width="5" height="4" fill="#fff" />
<rect x="262" y="658" width="5" height="5" fill="#fff" />
<rect x="262" y="671" width="5" height="5" fill="#fff" />
<rect x="262" y="685" width="5" height="4" fill="#fff" />
<rect x="262" y="650" width="2" height="6" fill="#fff" />
<rect x="262" y="678" width="2" height="5" fill="#fff" />
<rect x="262" y="664" width="5" height="6" fill="#fff" />
<rect x="262.8" y="665.08" width="3.4" height="3.95" fill="none" stroke="#000" stroke-width="0.7" stroke-dasharray="1 0.8"/>
<rect x="263.5" y="666" width="2" height="1" fill="#000" />
<rect x="368.8" y="619.9" width="58.2" height="121.3" fill="#fff" stroke="#000" stroke-width="2" rx="2"/>
<line x1="370.2" y1="624.3" x2="406.2" y2="624.3" stroke="#000" stroke-width="1.2" />
<rect x="390.2" y="620.3" width="14" height="1.6" fill="#000" />
<rect x="407.2" y="620.5" width="18" height="4" fill="none" stroke="#000" stroke-width="0.9" />
<rect x="414.2" y="621.3" width="2.5" height="2.5" fill="#000" />
<rect x="420.2" y="621.8" width="2.5" height="2.2" fill="#000" />
<circle cx="374" cy="622.7" r="1.5" fill="none" stroke="#000" stroke-width="0.7" />
<circle cx="379" cy="627.6" r="2.2" fill="#000" stroke="#000" stroke-width="0" />
<text x="382.20" y="629.30" font-size="3.9" font-family="Liberation Sans" font-style="italic" font-weight="bold" fill="#000" stroke="#000" stroke-width="0.3" textLength="17.5" lengthAdjust="spacingAndGlyphs">Allen-Bradley</text>
<rect x="374.5" y="631.6" width="28.4" height="9.3" fill="none" stroke="#000" stroke-width="1.1" />
<path d="M406.30,620.80 V638.80 Q406.30,645.50 412.70,645.50 H426.40" fill="none" stroke="#000" stroke-width="1.8" />
<circle cx="415.7" cy="635.3" r="5" fill="#fff" stroke="#000" stroke-width="2.4" />
<circle cx="415.7" cy="635.3" r="6.5" fill="none" stroke="#111" stroke-width="1.1" stroke-dasharray="0.9 0.7"/>
<circle cx="415.7" cy="635.3" r="3.3" fill="none" stroke="#000" stroke-width="0.8" />
<line x1="413.5" y1="637.7" x2="417.9" y2="632.9" stroke="#000" stroke-width="2" />
<line x1="413.8" y1="637.4" x2="417.6" y2="633.2" stroke="#fff" stroke-width="0.6" />
<rect x="390.5" y="645.9" width="6.8" height="1.6" fill="#000" rx="0.8"/>
<circle cx="399.2" cy="646.5" r="1.2" fill="none" stroke="#000" stroke-width="1" />
<path d="M369.40,669.80 Q372.20,674.80 380.20,676.50 Q388.20,677.80 396.20,675.30 Q400.20,670.30 404.20,670.30 H426.40" fill="none" stroke="#000" stroke-width="1.9" />
<circle cx="388" cy="660.9" r="12.3" fill="#fff" stroke="#000" stroke-width="1.7" />
<line x1="391.54" y1="664.44" x2="396.49" y2="669.39" stroke="#000" stroke-width="2.3" />
<line x1="384.46" y1="664.44" x2="379.51" y2="669.39" stroke="#000" stroke-width="2.3" />
<line x1="384.46" y1="657.36" x2="379.51" y2="652.41" stroke="#000" stroke-width="2.3" />
<line x1="391.54" y1="657.36" x2="396.49" y2="652.41" stroke="#000" stroke-width="2.3" />
<line x1="376" y1="660.9" x2="383" y2="660.9" stroke="#000" stroke-width="1.9" />
<rect x="383.9" y="656.5" width="8.2" height="8.8" fill="#fff" stroke="#000" stroke-width="2.6" rx="1.8"/>
<circle cx="388" cy="660.9" r="2.6" fill="#fff" stroke="#000" stroke-width="0.8" />
<rect x="386.4" y="660" width="3" height="1.9" fill="#000" />
<path d="M393.50,662.10 h2.5 v-2.5" fill="none" stroke="#000" stroke-width="1.1" />
<path d="M387.00,652.90 l1,-1.6 l1,1.6 z M387.00,668.90 l1,1.6 l1,-1.6 z" fill="#000" stroke="#000" stroke-width="0.6" />
<rect x="415.7" y="650.8" width="6.5" height="4.2" fill="none" stroke="#000" stroke-width="1" rx="1.5"/>
<rect x="418.7" y="651.5" width="0.8" height="2.8" fill="#000" />
<rect x="413" y="659.9" width="9.2" height="7.2" fill="none" stroke="#000" stroke-width="1.6" rx="1"/>
<rect x="415.4" y="661.6" width="4.2" height="3.6" fill="#fff" stroke="#000" stroke-width="0.9" />
<path d="M405.20,658.80 h5 v2.8 h-5 z M404.20,660.30 h1" fill="none" stroke="#000" stroke-width="0.9" />
<path d="M384.00,679.10 h8 l-4,8.2 z" fill="#000" stroke="#000" stroke-width="0.5" />
<line x1="410.2" y1="674.8" x2="410.2" y2="680.3" stroke="#000" stroke-width="0.7" />
<rect x="409.5" y="674.8" width="1.4" height="1.5" fill="#000" />
<rect x="398.55" y="680.8" width="14.55" height="34.7" fill="#000" />
<rect x="417.95" y="680.8" width="4.85" height="34.7" fill="#000" />
<rect x="371.8" y="680.8" width="3" height="34.5" fill="#fff" stroke="#000" stroke-width="1.2" rx="1.5"/>
<rect x="376.65" y="683.2" width="3" height="32.1" fill="#fff" stroke="#000" stroke-width="1.2" rx="1.5"/>
<rect x="381.5" y="685.5" width="3" height="29.8" fill="#fff" stroke="#000" stroke-width="1.2" rx="1.5"/>
<rect x="386.35" y="688" width="3" height="27.3" fill="#fff" stroke="#000" stroke-width="1.2" rx="1.5"/>
<rect x="391.2" y="685.5" width="3" height="29.8" fill="#fff" stroke="#000" stroke-width="1.2" rx="1.5"/>
<rect x="396.05" y="683.1" width="3" height="32.2" fill="#fff" stroke="#000" stroke-width="1.2" rx="1.5"/>
<rect x="400.9" y="680.8" width="3" height="34.5" fill="#fff" stroke="#000" stroke-width="1.2" rx="1.5"/>
<rect x="405.75" y="680.8" width="3" height="34.5" fill="#fff" stroke="#000" stroke-width="1.2" rx="1.5"/>
<rect x="410.6" y="680.8" width="3" height="34.5" fill="#fff" stroke="#000" stroke-width="1.2" rx="1.5"/>
<rect x="415.45" y="680.8" width="3" height="34.5" fill="#fff" stroke="#000" stroke-width="1.2" rx="1.5"/>
<rect x="420.3" y="680.8" width="3" height="34.5" fill="#fff" stroke="#000" stroke-width="1.2" rx="1.5"/>
<text x="371.70" y="725.30" font-size="7.2" font-family="Liberation Sans" font-style="italic" font-weight="bold" fill="#000" stroke="#000" stroke-width="0.3" textLength="32" lengthAdjust="spacingAndGlyphs">PowerFlex</text>
<rect x="399.2" y="725.8" width="7" height="3.2" fill="#000" />
<rect x="414.2" y="719.3" width="4.8" height="10.5" fill="#000" />
<rect x="420" y="719.3" width="2.2" height="1.4" fill="#000" />
<rect x="420" y="721.9" width="2.2" height="1.4" fill="#000" />
<rect x="420" y="724.5" width="2.2" height="1.4" fill="#000" />
<rect x="420" y="727.1" width="2.2" height="1.4" fill="#000" />
<line x1="369.7" y1="737.6" x2="426.4" y2="737.6" stroke="#000" stroke-width="1.1" />
<rect x="369.7" y="739.1" width="56.2" height="1.6" fill="#000" />
<path d="M371.60,739.10 V734.70 A1.45,1.45 0 0 1 374.50,734.70 V739.10" fill="none" stroke="#000" stroke-width="1.1" />
<rect x="372.6" y="738.1" width="0.9" height="2.4" fill="#fff" />
<path d="M376.05,739.10 V734.70 A1.45,1.45 0 0 1 378.95,734.70 V739.10" fill="none" stroke="#000" stroke-width="1.1" />
<rect x="377.05" y="738.1" width="0.9" height="2.4" fill="#fff" />
<path d="M380.50,739.10 V734.70 A1.45,1.45 0 0 1 383.40,734.70 V739.10" fill="none" stroke="#000" stroke-width="1.1" />
<rect x="381.5" y="738.1" width="0.9" height="2.4" fill="#fff" />
<path d="M384.95,739.10 V734.70 A1.45,1.45 0 0 1 387.85,734.70 V739.10" fill="none" stroke="#000" stroke-width="1.1" />
<rect x="385.95" y="738.1" width="0.9" height="2.4" fill="#fff" />
<path d="M389.40,739.10 V734.70 A1.45,1.45 0 0 1 392.30,734.70 V739.10" fill="none" stroke="#000" stroke-width="1.1" />
<rect x="390.4" y="738.1" width="0.9" height="2.4" fill="#fff" />
<path d="M393.85,739.10 V734.70 A1.45,1.45 0 0 1 396.75,734.70 V739.10" fill="none" stroke="#000" stroke-width="1.1" />
<rect x="394.85" y="738.1" width="0.9" height="2.4" fill="#fff" />
<path d="M398.30,739.10 V734.70 A1.45,1.45 0 0 1 401.20,734.70 V739.10" fill="none" stroke="#000" stroke-width="1.1" />
<rect x="399.3" y="738.1" width="0.9" height="2.4" fill="#fff" />
<path d="M402.75,739.10 V734.70 A1.45,1.45 0 0 1 405.65,734.70 V739.10" fill="none" stroke="#000" stroke-width="1.1" />
<rect x="403.75" y="738.1" width="0.9" height="2.4" fill="#fff" />
<path d="M407.20,739.10 V734.70 A1.45,1.45 0 0 1 410.10,734.70 V739.10" fill="none" stroke="#000" stroke-width="1.1" />
<rect x="408.2" y="738.1" width="0.9" height="2.4" fill="#fff" />
<path d="M411.65,739.10 V734.70 A1.45,1.45 0 0 1 414.55,734.70 V739.10" fill="none" stroke="#000" stroke-width="1.1" />
<rect x="412.65" y="738.1" width="0.9" height="2.4" fill="#fff" />
<path d="M416.10,739.10 V734.70 A1.45,1.45 0 0 1 419.00,734.70 V739.10" fill="none" stroke="#000" stroke-width="1.1" />
<rect x="417.1" y="738.1" width="0.9" height="2.4" fill="#fff" />
<path d="M420.55,739.10 V734.70 A1.45,1.45 0 0 1 423.45,734.70 V739.10" fill="none" stroke="#000" stroke-width="1.1" />
<rect x="421.55" y="738.1" width="0.9" height="2.4" fill="#fff" />
<rect x="432.6" y="619.9" width="58.2" height="121.3" fill="#fff" stroke="#000" stroke-width="2" rx="2"/>
<line x1="434" y1="624.3" x2="470" y2="624.3" stroke="#000" stroke-width="1.2" />
<rect x="454" y="620.3" width="14" height="1.6" fill="#000" />
<rect x="471" y="620.5" width="18" height="4" fill="none" stroke="#000" stroke-width="0.9" />
<rect x="478" y="621.3" width="2.5" height="2.5" fill="#000" />
<rect x="484" y="621.8" width="2.5" height="2.2" fill="#000" />
<circle cx="437.8" cy="622.7" r="1.5" fill="none" stroke="#000" stroke-width="0.7" />
<circle cx="442.8" cy="627.6" r="2.2" fill="#000" stroke="#000" stroke-width="0" />
<text x="446.00" y="629.30" font-size="3.9" font-family="Liberation Sans" font-style="italic" font-weight="bold" fill="#000" stroke="#000" stroke-width="0.3" textLength="17.5" lengthAdjust="spacingAndGlyphs">Allen-Bradley</text>
<rect x="438.3" y="631.6" width="28.4" height="9.3" fill="none" stroke="#000" stroke-width="1.1" />
<path d="M470.10,620.80 V638.80 Q470.10,645.50 476.50,645.50 H490.20" fill="none" stroke="#000" stroke-width="1.8" />
<circle cx="479.5" cy="635.3" r="5" fill="#fff" stroke="#000" stroke-width="2.4" />
<circle cx="479.5" cy="635.3" r="6.5" fill="none" stroke="#111" stroke-width="1.1" stroke-dasharray="0.9 0.7"/>
<circle cx="479.5" cy="635.3" r="3.3" fill="none" stroke="#000" stroke-width="0.8" />
<line x1="477.3" y1="637.7" x2="481.7" y2="632.9" stroke="#000" stroke-width="2" />
<line x1="477.6" y1="637.4" x2="481.4" y2="633.2" stroke="#fff" stroke-width="0.6" />
<rect x="454.3" y="645.9" width="6.8" height="1.6" fill="#000" rx="0.8"/>
<circle cx="463" cy="646.5" r="1.2" fill="none" stroke="#000" stroke-width="1" />
<path d="M433.20,669.80 Q436.00,674.80 444.00,676.50 Q452.00,677.80 460.00,675.30 Q464.00,670.30 468.00,670.30 H490.20" fill="none" stroke="#000" stroke-width="1.9" />
<circle cx="451.8" cy="660.9" r="12.3" fill="#fff" stroke="#000" stroke-width="1.7" />
<line x1="455.34" y1="664.44" x2="460.29" y2="669.39" stroke="#000" stroke-width="2.3" />
<line x1="448.26" y1="664.44" x2="443.31" y2="669.39" stroke="#000" stroke-width="2.3" />
<line x1="448.26" y1="657.36" x2="443.31" y2="652.41" stroke="#000" stroke-width="2.3" />
<line x1="455.34" y1="657.36" x2="460.29" y2="652.41" stroke="#000" stroke-width="2.3" />
<line x1="439.8" y1="660.9" x2="446.8" y2="660.9" stroke="#000" stroke-width="1.9" />
<rect x="447.7" y="656.5" width="8.2" height="8.8" fill="#fff" stroke="#000" stroke-width="2.6" rx="1.8"/>
<circle cx="451.8" cy="660.9" r="2.6" fill="#fff" stroke="#000" stroke-width="0.8" />
<rect x="450.2" y="660" width="3" height="1.9" fill="#000" />
<path d="M457.30,662.10 h2.5 v-2.5" fill="none" stroke="#000" stroke-width="1.1" />
<path d="M450.80,652.90 l1,-1.6 l1,1.6 z M450.80,668.90 l1,1.6 l1,-1.6 z" fill="#000" stroke="#000" stroke-width="0.6" />
<rect x="479.5" y="650.8" width="6.5" height="4.2" fill="none" stroke="#000" stroke-width="1" rx="1.5"/>
<rect x="482.5" y="651.5" width="0.8" height="2.8" fill="#000" />
<rect x="476.8" y="659.9" width="9.2" height="7.2" fill="none" stroke="#000" stroke-width="1.6" rx="1"/>
<rect x="479.2" y="661.6" width="4.2" height="3.6" fill="#fff" stroke="#000" stroke-width="0.9" />
<path d="M469.00,658.80 h5 v2.8 h-5 z M468.00,660.30 h1" fill="none" stroke="#000" stroke-width="0.9" />
<path d="M447.80,679.10 h8 l-4,8.2 z" fill="#000" stroke="#000" stroke-width="0.5" />
<line x1="474" y1="674.8" x2="474" y2="680.3" stroke="#000" stroke-width="0.7" />
<rect x="473.3" y="674.8" width="1.4" height="1.5" fill="#000" />
<rect x="462.35" y="680.8" width="14.55" height="34.7" fill="#000" />
<rect x="481.75" y="680.8" width="4.85" height="34.7" fill="#000" />
<rect x="435.6" y="680.8" width="3" height="34.5" fill="#fff" stroke="#000" stroke-width="1.2" rx="1.5"/>
<rect x="440.45" y="683.2" width="3" height="32.1" fill="#fff" stroke="#000" stroke-width="1.2" rx="1.5"/>
<rect x="445.3" y="685.5" width="3" height="29.8" fill="#fff" stroke="#000" stroke-width="1.2" rx="1.5"/>
<rect x="450.15" y="688" width="3" height="27.3" fill="#fff" stroke="#000" stroke-width="1.2" rx="1.5"/>
<rect x="455" y="685.5" width="3" height="29.8" fill="#fff" stroke="#000" stroke-width="1.2" rx="1.5"/>
<rect x="459.85" y="683.1" width="3" height="32.2" fill="#fff" stroke="#000" stroke-width="1.2" rx="1.5"/>
<rect x="464.7" y="680.8" width="3" height="34.5" fill="#fff" stroke="#000" stroke-width="1.2" rx="1.5"/>
<rect x="469.55" y="680.8" width="3" height="34.5" fill="#fff" stroke="#000" stroke-width="1.2" rx="1.5"/>
<rect x="474.4" y="680.8" width="3" height="34.5" fill="#fff" stroke="#000" stroke-width="1.2" rx="1.5"/>
<rect x="479.25" y="680.8" width="3" height="34.5" fill="#fff" stroke="#000" stroke-width="1.2" rx="1.5"/>
<rect x="484.1" y="680.8" width="3" height="34.5" fill="#fff" stroke="#000" stroke-width="1.2" rx="1.5"/>
<text x="435.50" y="725.30" font-size="7.2" font-family="Liberation Sans" font-style="italic" font-weight="bold" fill="#000" stroke="#000" stroke-width="0.3" textLength="32" lengthAdjust="spacingAndGlyphs">PowerFlex</text>
<rect x="463" y="725.8" width="7" height="3.2" fill="#000" />
<rect x="478" y="719.3" width="4.8" height="10.5" fill="#000" />
<rect x="483.8" y="719.3" width="2.2" height="1.4" fill="#000" />
<rect x="483.8" y="721.9" width="2.2" height="1.4" fill="#000" />
<rect x="483.8" y="724.5" width="2.2" height="1.4" fill="#000" />
<rect x="483.8" y="727.1" width="2.2" height="1.4" fill="#000" />
<line x1="433.5" y1="737.6" x2="490.2" y2="737.6" stroke="#000" stroke-width="1.1" />
<rect x="433.5" y="739.1" width="56.2" height="1.6" fill="#000" />
<path d="M435.40,739.10 V734.70 A1.45,1.45 0 0 1 438.30,734.70 V739.10" fill="none" stroke="#000" stroke-width="1.1" />
<rect x="436.4" y="738.1" width="0.9" height="2.4" fill="#fff" />
<path d="M439.85,739.10 V734.70 A1.45,1.45 0 0 1 442.75,734.70 V739.10" fill="none" stroke="#000" stroke-width="1.1" />
<rect x="440.85" y="738.1" width="0.9" height="2.4" fill="#fff" />
<path d="M444.30,739.10 V734.70 A1.45,1.45 0 0 1 447.20,734.70 V739.10" fill="none" stroke="#000" stroke-width="1.1" />
<rect x="445.3" y="738.1" width="0.9" height="2.4" fill="#fff" />
<path d="M448.75,739.10 V734.70 A1.45,1.45 0 0 1 451.65,734.70 V739.10" fill="none" stroke="#000" stroke-width="1.1" />
<rect x="449.75" y="738.1" width="0.9" height="2.4" fill="#fff" />
<path d="M453.20,739.10 V734.70 A1.45,1.45 0 0 1 456.10,734.70 V739.10" fill="none" stroke="#000" stroke-width="1.1" />
<rect x="454.2" y="738.1" width="0.9" height="2.4" fill="#fff" />
<path d="M457.65,739.10 V734.70 A1.45,1.45 0 0 1 460.55,734.70 V739.10" fill="none" stroke="#000" stroke-width="1.1" />
<rect x="458.65" y="738.1" width="0.9" height="2.4" fill="#fff" />
<path d="M462.10,739.10 V734.70 A1.45,1.45 0 0 1 465.00,734.70 V739.10" fill="none" stroke="#000" stroke-width="1.1" />
<rect x="463.1" y="738.1" width="0.9" height="2.4" fill="#fff" />
<path d="M466.55,739.10 V734.70 A1.45,1.45 0 0 1 469.45,734.70 V739.10" fill="none" stroke="#000" stroke-width="1.1" />
<rect x="467.55" y="738.1" width="0.9" height="2.4" fill="#fff" />
<path d="M471.00,739.10 V734.70 A1.45,1.45 0 0 1 473.90,734.70 V739.10" fill="none" stroke="#000" stroke-width="1.1" />
<rect x="472" y="738.1" width="0.9" height="2.4" fill="#fff" />
<path d="M475.45,739.10 V734.70 A1.45,1.45 0 0 1 478.35,734.70 V739.10" fill="none" stroke="#000" stroke-width="1.1" />
<rect x="476.45" y="738.1" width="0.9" height="2.4" fill="#fff" />
<path d="M479.90,739.10 V734.70 A1.45,1.45 0 0 1 482.80,734.70 V739.10" fill="none" stroke="#000" stroke-width="1.1" />
<rect x="480.9" y="738.1" width="0.9" height="2.4" fill="#fff" />
<path d="M484.35,739.10 V734.70 A1.45,1.45 0 0 1 487.25,734.70 V739.10" fill="none" stroke="#000" stroke-width="1.1" />
<rect x="485.35" y="738.1" width="0.9" height="2.4" fill="#fff" />
<rect x="496" y="619.9" width="58.2" height="121.3" fill="#fff" stroke="#000" stroke-width="2" rx="2"/>
<line x1="497.4" y1="624.3" x2="533.4" y2="624.3" stroke="#000" stroke-width="1.2" />
<rect x="517.4" y="620.3" width="14" height="1.6" fill="#000" />
<rect x="534.4" y="620.5" width="18" height="4" fill="none" stroke="#000" stroke-width="0.9" />
<rect x="541.4" y="621.3" width="2.5" height="2.5" fill="#000" />
<rect x="547.4" y="621.8" width="2.5" height="2.2" fill="#000" />
<circle cx="501.2" cy="622.7" r="1.5" fill="none" stroke="#000" stroke-width="0.7" />
<circle cx="506.2" cy="627.6" r="2.2" fill="#000" stroke="#000" stroke-width="0" />
<text x="509.40" y="629.30" font-size="3.9" font-family="Liberation Sans" font-style="italic" font-weight="bold" fill="#000" stroke="#000" stroke-width="0.3" textLength="17.5" lengthAdjust="spacingAndGlyphs">Allen-Bradley</text>
<rect x="501.7" y="631.6" width="28.4" height="9.3" fill="none" stroke="#000" stroke-width="1.1" />
<path d="M533.50,620.80 V638.80 Q533.50,645.50 539.90,645.50 H553.60" fill="none" stroke="#000" stroke-width="1.8" />
<circle cx="542.9" cy="635.3" r="5" fill="#fff" stroke="#000" stroke-width="2.4" />
<circle cx="542.9" cy="635.3" r="6.5" fill="none" stroke="#111" stroke-width="1.1" stroke-dasharray="0.9 0.7"/>
<circle cx="542.9" cy="635.3" r="3.3" fill="none" stroke="#000" stroke-width="0.8" />
<line x1="540.7" y1="637.7" x2="545.1" y2="632.9" stroke="#000" stroke-width="2" />
<line x1="541" y1="637.4" x2="544.8" y2="633.2" stroke="#fff" stroke-width="0.6" />
<rect x="517.7" y="645.9" width="6.8" height="1.6" fill="#000" rx="0.8"/>
<circle cx="526.4" cy="646.5" r="1.2" fill="none" stroke="#000" stroke-width="1" />
<path d="M496.60,669.80 Q499.40,674.80 507.40,676.50 Q515.40,677.80 523.40,675.30 Q527.40,670.30 531.40,670.30 H553.60" fill="none" stroke="#000" stroke-width="1.9" />
<circle cx="515.2" cy="660.9" r="12.3" fill="#fff" stroke="#000" stroke-width="1.7" />
<line x1="518.74" y1="664.44" x2="523.69" y2="669.39" stroke="#000" stroke-width="2.3" />
<line x1="511.66" y1="664.44" x2="506.71" y2="669.39" stroke="#000" stroke-width="2.3" />
<line x1="511.66" y1="657.36" x2="506.71" y2="652.41" stroke="#000" stroke-width="2.3" />
<line x1="518.74" y1="657.36" x2="523.69" y2="652.41" stroke="#000" stroke-width="2.3" />
<line x1="503.2" y1="660.9" x2="510.2" y2="660.9" stroke="#000" stroke-width="1.9" />
<rect x="511.1" y="656.5" width="8.2" height="8.8" fill="#fff" stroke="#000" stroke-width="2.6" rx="1.8"/>
<circle cx="515.2" cy="660.9" r="2.6" fill="#fff" stroke="#000" stroke-width="0.8" />
<rect x="513.6" y="660" width="3" height="1.9" fill="#000" />
<path d="M520.70,662.10 h2.5 v-2.5" fill="none" stroke="#000" stroke-width="1.1" />
<path d="M514.20,652.90 l1,-1.6 l1,1.6 z M514.20,668.90 l1,1.6 l1,-1.6 z" fill="#000" stroke="#000" stroke-width="0.6" />
<rect x="542.9" y="650.8" width="6.5" height="4.2" fill="none" stroke="#000" stroke-width="1" rx="1.5"/>
<rect x="545.9" y="651.5" width="0.8" height="2.8" fill="#000" />
<rect x="540.2" y="659.9" width="9.2" height="7.2" fill="none" stroke="#000" stroke-width="1.6" rx="1"/>
<rect x="542.6" y="661.6" width="4.2" height="3.6" fill="#fff" stroke="#000" stroke-width="0.9" />
<path d="M532.40,658.80 h5 v2.8 h-5 z M531.40,660.30 h1" fill="none" stroke="#000" stroke-width="0.9" />
<path d="M511.20,679.10 h8 l-4,8.2 z" fill="#000" stroke="#000" stroke-width="0.5" />
<line x1="537.4" y1="674.8" x2="537.4" y2="680.3" stroke="#000" stroke-width="0.7" />
<rect x="536.7" y="674.8" width="1.4" height="1.5" fill="#000" />
<rect x="525.75" y="680.8" width="14.55" height="34.7" fill="#000" />
<rect x="545.15" y="680.8" width="4.85" height="34.7" fill="#000" />
<rect x="499" y="680.8" width="3" height="34.5" fill="#fff" stroke="#000" stroke-width="1.2" rx="1.5"/>
<rect x="503.85" y="683.2" width="3" height="32.1" fill="#fff" stroke="#000" stroke-width="1.2" rx="1.5"/>
<rect x="508.7" y="685.5" width="3" height="29.8" fill="#fff" stroke="#000" stroke-width="1.2" rx="1.5"/>
<rect x="513.55" y="688" width="3" height="27.3" fill="#fff" stroke="#000" stroke-width="1.2" rx="1.5"/>
<rect x="518.4" y="685.5" width="3" height="29.8" fill="#fff" stroke="#000" stroke-width="1.2" rx="1.5"/>
<rect x="523.25" y="683.1" width="3" height="32.2" fill="#fff" stroke="#000" stroke-width="1.2" rx="1.5"/>
<rect x="528.1" y="680.8" width="3" height="34.5" fill="#fff" stroke="#000" stroke-width="1.2" rx="1.5"/>
<rect x="532.95" y="680.8" width="3" height="34.5" fill="#fff" stroke="#000" stroke-width="1.2" rx="1.5"/>
<rect x="537.8" y="680.8" width="3" height="34.5" fill="#fff" stroke="#000" stroke-width="1.2" rx="1.5"/>
<rect x="542.65" y="680.8" width="3" height="34.5" fill="#fff" stroke="#000" stroke-width="1.2" rx="1.5"/>
<rect x="547.5" y="680.8" width="3" height="34.5" fill="#fff" stroke="#000" stroke-width="1.2" rx="1.5"/>
<text x="498.90" y="725.30" font-size="7.2" font-family="Liberation Sans" font-style="italic" font-weight="bold" fill="#000" stroke="#000" stroke-width="0.3" textLength="32" lengthAdjust="spacingAndGlyphs">PowerFlex</text>
<rect x="526.4" y="725.8" width="7" height="3.2" fill="#000" />
<rect x="541.4" y="719.3" width="4.8" height="10.5" fill="#000" />
<rect x="547.2" y="719.3" width="2.2" height="1.4" fill="#000" />
<rect x="547.2" y="721.9" width="2.2" height="1.4" fill="#000" />
<rect x="547.2" y="724.5" width="2.2" height="1.4" fill="#000" />
<rect x="547.2" y="727.1" width="2.2" height="1.4" fill="#000" />
<line x1="496.9" y1="737.6" x2="553.6" y2="737.6" stroke="#000" stroke-width="1.1" />
<rect x="496.9" y="739.1" width="56.2" height="1.6" fill="#000" />
<path d="M498.80,739.10 V734.70 A1.45,1.45 0 0 1 501.70,734.70 V739.10" fill="none" stroke="#000" stroke-width="1.1" />
<rect x="499.8" y="738.1" width="0.9" height="2.4" fill="#fff" />
<path d="M503.25,739.10 V734.70 A1.45,1.45 0 0 1 506.15,734.70 V739.10" fill="none" stroke="#000" stroke-width="1.1" />
<rect x="504.25" y="738.1" width="0.9" height="2.4" fill="#fff" />
<path d="M507.70,739.10 V734.70 A1.45,1.45 0 0 1 510.60,734.70 V739.10" fill="none" stroke="#000" stroke-width="1.1" />
<rect x="508.7" y="738.1" width="0.9" height="2.4" fill="#fff" />
<path d="M512.15,739.10 V734.70 A1.45,1.45 0 0 1 515.05,734.70 V739.10" fill="none" stroke="#000" stroke-width="1.1" />
<rect x="513.15" y="738.1" width="0.9" height="2.4" fill="#fff" />
<path d="M516.60,739.10 V734.70 A1.45,1.45 0 0 1 519.50,734.70 V739.10" fill="none" stroke="#000" stroke-width="1.1" />
<rect x="517.6" y="738.1" width="0.9" height="2.4" fill="#fff" />
<path d="M521.05,739.10 V734.70 A1.45,1.45 0 0 1 523.95,734.70 V739.10" fill="none" stroke="#000" stroke-width="1.1" />
<rect x="522.05" y="738.1" width="0.9" height="2.4" fill="#fff" />
<path d="M525.50,739.10 V734.70 A1.45,1.45 0 0 1 528.40,734.70 V739.10" fill="none" stroke="#000" stroke-width="1.1" />
<rect x="526.5" y="738.1" width="0.9" height="2.4" fill="#fff" />
<path d="M529.95,739.10 V734.70 A1.45,1.45 0 0 1 532.85,734.70 V739.10" fill="none" stroke="#000" stroke-width="1.1" />
<rect x="530.95" y="738.1" width="0.9" height="2.4" fill="#fff" />
<path d="M534.40,739.10 V734.70 A1.45,1.45 0 0 1 537.30,734.70 V739.10" fill="none" stroke="#000" stroke-width="1.1" />
<rect x="535.4" y="738.1" width="0.9" height="2.4" fill="#fff" />
<path d="M538.85,739.10 V734.70 A1.45,1.45 0 0 1 541.75,734.70 V739.10" fill="none" stroke="#000" stroke-width="1.1" />
<rect x="539.85" y="738.1" width="0.9" height="2.4" fill="#fff" />
<path d="M543.30,739.10 V734.70 A1.45,1.45 0 0 1 546.20,734.70 V739.10" fill="none" stroke="#000" stroke-width="1.1" />
<rect x="544.3" y="738.1" width="0.9" height="2.4" fill="#fff" />
<path d="M547.75,739.10 V734.70 A1.45,1.45 0 0 1 550.65,734.70 V739.10" fill="none" stroke="#000" stroke-width="1.1" />
<rect x="548.75" y="738.1" width="0.9" height="2.4" fill="#fff" />
<rect x="558.9" y="597.3" width="69.6" height="143.2" fill="#fff" stroke="#000" stroke-width="1.4" rx="1.5"/>
<line x1="617.2" y1="598" x2="617.2" y2="719.5" stroke="#000" stroke-width="1.8" />
<circle cx="622.5" cy="601.8" r="2.4" fill="none" stroke="#444" stroke-width="0.8" />
<line x1="559.2" y1="736.6" x2="628.5" y2="736.6" stroke="#000" stroke-width="1.1" />
<path d="M559.00,721.5 A7.5,7.5 0 0 1 563.70,736.5" fill="none" stroke="#000" stroke-width="1.3" />
<path d="M628.50,721.5 A7.5,7.5 0 0 0 623.80,736.5" fill="none" stroke="#000" stroke-width="1.3" />
<rect x="560.2" y="736.6" width="3.5" height="3.8" fill="none" stroke="#000" stroke-width="0.8" />
<rect x="624" y="736.6" width="3.5" height="3.8" fill="none" stroke="#000" stroke-width="0.8" />
<circle cx="580.6" cy="729.3" r="3.7" fill="#000" stroke="#000" stroke-width="0" />
<rect x="579.8" y="727.5" width="1.8" height="1.2" fill="#fff" />
<text x="586.20" y="731.3" font-size="4.6" font-family="Liberation Sans" font-style="italic" font-weight="bold" fill="#000" stroke="#000" stroke-width="0.3" textLength="25" lengthAdjust="spacingAndGlyphs">Allen-Bradley</text>
<rect x="559.8" y="597.7" width="57.8" height="122.2" fill="#fff" stroke="#000" stroke-width="2" rx="2"/>
<line x1="561.2" y1="602.1" x2="597.2" y2="602.1" stroke="#000" stroke-width="1.2" />
<rect x="581.2" y="598.1" width="14" height="1.6" fill="#000" />
<rect x="598.2" y="598.3" width="18" height="4" fill="none" stroke="#000" stroke-width="0.9" />
<rect x="605.2" y="599.1" width="2.5" height="2.5" fill="#000" />
<rect x="611.2" y="599.6" width="2.5" height="2.2" fill="#000" />
<circle cx="565" cy="600.5" r="1.5" fill="none" stroke="#000" stroke-width="0.7" />
<circle cx="570" cy="605.4" r="2.2" fill="#000" stroke="#000" stroke-width="0" />
<text x="573.20" y="607.10" font-size="3.9" font-family="Liberation Sans" font-style="italic" font-weight="bold" fill="#000" stroke="#000" stroke-width="0.3" textLength="17.5" lengthAdjust="spacingAndGlyphs">Allen-Bradley</text>
<rect x="565.5" y="609.4" width="28.4" height="9.3" fill="none" stroke="#000" stroke-width="1.1" />
<path d="M597.30,598.60 V616.60 Q597.30,623.30 603.70,623.30 H617.00" fill="none" stroke="#000" stroke-width="1.8" />
<circle cx="606.7" cy="613.1" r="5" fill="#fff" stroke="#000" stroke-width="2.4" />
<circle cx="606.7" cy="613.1" r="6.5" fill="none" stroke="#111" stroke-width="1.1" stroke-dasharray="0.9 0.7"/>
<circle cx="606.7" cy="613.1" r="3.3" fill="none" stroke="#000" stroke-width="0.8" />
<line x1="604.5" y1="615.5" x2="608.9" y2="610.7" stroke="#000" stroke-width="2" />
<line x1="604.8" y1="615.2" x2="608.6" y2="611" stroke="#fff" stroke-width="0.6" />
<rect x="581.5" y="623.7" width="6.8" height="1.6" fill="#000" rx="0.8"/>
<circle cx="590.2" cy="624.3" r="1.2" fill="none" stroke="#000" stroke-width="1" />
<path d="M560.40,647.60 Q563.20,652.60 571.20,654.30 Q579.20,655.60 587.20,653.10 Q591.20,648.10 595.20,648.10 H617.00" fill="none" stroke="#000" stroke-width="1.9" />
<circle cx="579" cy="638.7" r="12.3" fill="#fff" stroke="#000" stroke-width="1.7" />
<line x1="582.54" y1="642.24" x2="587.49" y2="647.19" stroke="#000" stroke-width="2.3" />
<line x1="575.46" y1="642.24" x2="570.51" y2="647.19" stroke="#000" stroke-width="2.3" />
<line x1="575.46" y1="635.16" x2="570.51" y2="630.21" stroke="#000" stroke-width="2.3" />
<line x1="582.54" y1="635.16" x2="587.49" y2="630.21" stroke="#000" stroke-width="2.3" />
<line x1="567" y1="638.7" x2="574" y2="638.7" stroke="#000" stroke-width="1.9" />
<rect x="574.9" y="634.3" width="8.2" height="8.8" fill="#fff" stroke="#000" stroke-width="2.6" rx="1.8"/>
<circle cx="579" cy="638.7" r="2.6" fill="#fff" stroke="#000" stroke-width="0.8" />
<rect x="577.4" y="637.8" width="3" height="1.9" fill="#000" />
<path d="M584.50,639.90 h2.5 v-2.5" fill="none" stroke="#000" stroke-width="1.1" />
<path d="M578.00,630.70 l1,-1.6 l1,1.6 z M578.00,646.70 l1,1.6 l1,-1.6 z" fill="#000" stroke="#000" stroke-width="0.6" />
<rect x="606.7" y="628.6" width="6.5" height="4.2" fill="none" stroke="#000" stroke-width="1" rx="1.5"/>
<rect x="609.7" y="629.3" width="0.8" height="2.8" fill="#000" />
<rect x="604" y="637.7" width="9.2" height="7.2" fill="none" stroke="#000" stroke-width="1.6" rx="1"/>
<rect x="606.4" y="639.4" width="4.2" height="3.6" fill="#fff" stroke="#000" stroke-width="0.9" />
<path d="M596.20,636.60 h5 v2.8 h-5 z M595.20,638.10 h1" fill="none" stroke="#000" stroke-width="0.9" />
<path d="M575.00,656.90 h8 l-4,8.2 z" fill="#000" stroke="#000" stroke-width="0.5" />
<line x1="601.2" y1="652.6" x2="601.2" y2="658.1" stroke="#000" stroke-width="0.7" />
<rect x="600.5" y="652.6" width="1.4" height="1.5" fill="#000" />
<rect x="589.55" y="658.6" width="14.55" height="34.7" fill="#000" />
<rect x="608.95" y="658.6" width="4.85" height="34.7" fill="#000" />
<rect x="562.8" y="658.6" width="3" height="34.5" fill="#fff" stroke="#000" stroke-width="1.2" rx="1.5"/>
<rect x="567.65" y="661" width="3" height="32.1" fill="#fff" stroke="#000" stroke-width="1.2" rx="1.5"/>
<rect x="572.5" y="663.3" width="3" height="29.8" fill="#fff" stroke="#000" stroke-width="1.2" rx="1.5"/>
<rect x="577.35" y="665.8" width="3" height="27.3" fill="#fff" stroke="#000" stroke-width="1.2" rx="1.5"/>
<rect x="582.2" y="663.3" width="3" height="29.8" fill="#fff" stroke="#000" stroke-width="1.2" rx="1.5"/>
<rect x="587.05" y="660.9" width="3" height="32.2" fill="#fff" stroke="#000" stroke-width="1.2" rx="1.5"/>
<rect x="591.9" y="658.6" width="3" height="34.5" fill="#fff" stroke="#000" stroke-width="1.2" rx="1.5"/>
<rect x="596.75" y="658.6" width="3" height="34.5" fill="#fff" stroke="#000" stroke-width="1.2" rx="1.5"/>
<rect x="601.6" y="658.6" width="3" height="34.5" fill="#fff" stroke="#000" stroke-width="1.2" rx="1.5"/>
<rect x="606.45" y="658.6" width="3" height="34.5" fill="#fff" stroke="#000" stroke-width="1.2" rx="1.5"/>
<rect x="611.3" y="658.6" width="3" height="34.5" fill="#fff" stroke="#000" stroke-width="1.2" rx="1.5"/>
<text x="562.70" y="703.10" font-size="7.2" font-family="Liberation Sans" font-style="italic" font-weight="bold" fill="#000" stroke="#000" stroke-width="0.3" textLength="32" lengthAdjust="spacingAndGlyphs">PowerFlex</text>
<rect x="590.2" y="703.6" width="7" height="3.2" fill="#000" />
<rect x="605.2" y="697.1" width="4.8" height="10.5" fill="#000" />
<rect x="611" y="697.1" width="2.2" height="1.4" fill="#000" />
<rect x="611" y="699.7" width="2.2" height="1.4" fill="#000" />
<rect x="611" y="702.3" width="2.2" height="1.4" fill="#000" />
<rect x="611" y="704.9" width="2.2" height="1.4" fill="#000" />
<line x1="560.7" y1="716.3" x2="617" y2="716.3" stroke="#000" stroke-width="1.1" />
<rect x="560.7" y="717.8" width="55.8" height="1.6" fill="#000" />
<path d="M562.60,717.80 V713.40 A1.45,1.45 0 0 1 565.50,713.40 V717.80" fill="none" stroke="#000" stroke-width="1.1" />
<rect x="563.6" y="716.8" width="0.9" height="2.4" fill="#fff" />
<path d="M567.05,717.80 V713.40 A1.45,1.45 0 0 1 569.95,713.40 V717.80" fill="none" stroke="#000" stroke-width="1.1" />
<rect x="568.05" y="716.8" width="0.9" height="2.4" fill="#fff" />
<path d="M571.50,717.80 V713.40 A1.45,1.45 0 0 1 574.40,713.40 V717.80" fill="none" stroke="#000" stroke-width="1.1" />
<rect x="572.5" y="716.8" width="0.9" height="2.4" fill="#fff" />
<path d="M575.95,717.80 V713.40 A1.45,1.45 0 0 1 578.85,713.40 V717.80" fill="none" stroke="#000" stroke-width="1.1" />
<rect x="576.95" y="716.8" width="0.9" height="2.4" fill="#fff" />
<path d="M580.40,717.80 V713.40 A1.45,1.45 0 0 1 583.30,713.40 V717.80" fill="none" stroke="#000" stroke-width="1.1" />
<rect x="581.4" y="716.8" width="0.9" height="2.4" fill="#fff" />
<path d="M584.85,717.80 V713.40 A1.45,1.45 0 0 1 587.75,713.40 V717.80" fill="none" stroke="#000" stroke-width="1.1" />
<rect x="585.85" y="716.8" width="0.9" height="2.4" fill="#fff" />
<path d="M589.30,717.80 V713.40 A1.45,1.45 0 0 1 592.20,713.40 V717.80" fill="none" stroke="#000" stroke-width="1.1" />
<rect x="590.3" y="716.8" width="0.9" height="2.4" fill="#fff" />
<path d="M593.75,717.80 V713.40 A1.45,1.45 0 0 1 596.65,713.40 V717.80" fill="none" stroke="#000" stroke-width="1.1" />
<rect x="594.75" y="716.8" width="0.9" height="2.4" fill="#fff" />
<path d="M598.20,717.80 V713.40 A1.45,1.45 0 0 1 601.10,713.40 V717.80" fill="none" stroke="#000" stroke-width="1.1" />
<rect x="599.2" y="716.8" width="0.9" height="2.4" fill="#fff" />
<path d="M602.65,717.80 V713.40 A1.45,1.45 0 0 1 605.55,713.40 V717.80" fill="none" stroke="#000" stroke-width="1.1" />
<rect x="603.65" y="716.8" width="0.9" height="2.4" fill="#fff" />
<path d="M607.10,717.80 V713.40 A1.45,1.45 0 0 1 610.00,713.40 V717.80" fill="none" stroke="#000" stroke-width="1.1" />
<rect x="608.1" y="716.8" width="0.9" height="2.4" fill="#fff" />
<path d="M611.55,717.80 V713.40 A1.45,1.45 0 0 1 614.45,713.40 V717.80" fill="none" stroke="#000" stroke-width="1.1" />
<rect x="612.55" y="716.8" width="0.9" height="2.4" fill="#fff" />
<rect x="634.5" y="597.3" width="69.6" height="143.2" fill="#fff" stroke="#000" stroke-width="1.4" rx="1.5"/>
<line x1="692.8" y1="598" x2="692.8" y2="719.5" stroke="#000" stroke-width="1.8" />
<circle cx="698.1" cy="601.8" r="2.4" fill="none" stroke="#444" stroke-width="0.8" />
<line x1="634.8" y1="736.6" x2="704.1" y2="736.6" stroke="#000" stroke-width="1.1" />
<path d="M634.60,721.5 A7.5,7.5 0 0 1 639.30,736.5" fill="none" stroke="#000" stroke-width="1.3" />
<path d="M704.10,721.5 A7.5,7.5 0 0 0 699.40,736.5" fill="none" stroke="#000" stroke-width="1.3" />
<rect x="635.8" y="736.6" width="3.5" height="3.8" fill="none" stroke="#000" stroke-width="0.8" />
<rect x="699.6" y="736.6" width="3.5" height="3.8" fill="none" stroke="#000" stroke-width="0.8" />
<circle cx="656.2" cy="729.3" r="3.7" fill="#000" stroke="#000" stroke-width="0" />
<rect x="655.4" y="727.5" width="1.8" height="1.2" fill="#fff" />
<text x="661.80" y="731.3" font-size="4.6" font-family="Liberation Sans" font-style="italic" font-weight="bold" fill="#000" stroke="#000" stroke-width="0.3" textLength="25" lengthAdjust="spacingAndGlyphs">Allen-Bradley</text>
<rect x="635.4" y="597.7" width="57.8" height="122.2" fill="#fff" stroke="#000" stroke-width="2" rx="2"/>
<line x1="636.8" y1="602.1" x2="672.8" y2="602.1" stroke="#000" stroke-width="1.2" />
<rect x="656.8" y="598.1" width="14" height="1.6" fill="#000" />
<rect x="673.8" y="598.3" width="18" height="4" fill="none" stroke="#000" stroke-width="0.9" />
<rect x="680.8" y="599.1" width="2.5" height="2.5" fill="#000" />
<rect x="686.8" y="599.6" width="2.5" height="2.2" fill="#000" />
<circle cx="640.6" cy="600.5" r="1.5" fill="none" stroke="#000" stroke-width="0.7" />
<circle cx="645.6" cy="605.4" r="2.2" fill="#000" stroke="#000" stroke-width="0" />
<text x="648.80" y="607.10" font-size="3.9" font-family="Liberation Sans" font-style="italic" font-weight="bold" fill="#000" stroke="#000" stroke-width="0.3" textLength="17.5" lengthAdjust="spacingAndGlyphs">Allen-Bradley</text>
<rect x="641.1" y="609.4" width="28.4" height="9.3" fill="none" stroke="#000" stroke-width="1.1" />
<path d="M672.90,598.60 V616.60 Q672.90,623.30 679.30,623.30 H692.60" fill="none" stroke="#000" stroke-width="1.8" />
<circle cx="682.3" cy="613.1" r="5" fill="#fff" stroke="#000" stroke-width="2.4" />
<circle cx="682.3" cy="613.1" r="6.5" fill="none" stroke="#111" stroke-width="1.1" stroke-dasharray="0.9 0.7"/>
<circle cx="682.3" cy="613.1" r="3.3" fill="none" stroke="#000" stroke-width="0.8" />
<line x1="680.1" y1="615.5" x2="684.5" y2="610.7" stroke="#000" stroke-width="2" />
<line x1="680.4" y1="615.2" x2="684.2" y2="611" stroke="#fff" stroke-width="0.6" />
<rect x="657.1" y="623.7" width="6.8" height="1.6" fill="#000" rx="0.8"/>
<circle cx="665.8" cy="624.3" r="1.2" fill="none" stroke="#000" stroke-width="1" />
<path d="M636.00,647.60 Q638.80,652.60 646.80,654.30 Q654.80,655.60 662.80,653.10 Q666.80,648.10 670.80,648.10 H692.60" fill="none" stroke="#000" stroke-width="1.9" />
<circle cx="654.6" cy="638.7" r="12.3" fill="#fff" stroke="#000" stroke-width="1.7" />
<line x1="658.14" y1="642.24" x2="663.09" y2="647.19" stroke="#000" stroke-width="2.3" />
<line x1="651.06" y1="642.24" x2="646.11" y2="647.19" stroke="#000" stroke-width="2.3" />
<line x1="651.06" y1="635.16" x2="646.11" y2="630.21" stroke="#000" stroke-width="2.3" />
<line x1="658.14" y1="635.16" x2="663.09" y2="630.21" stroke="#000" stroke-width="2.3" />
<line x1="642.6" y1="638.7" x2="649.6" y2="638.7" stroke="#000" stroke-width="1.9" />
<rect x="650.5" y="634.3" width="8.2" height="8.8" fill="#fff" stroke="#000" stroke-width="2.6" rx="1.8"/>
<circle cx="654.6" cy="638.7" r="2.6" fill="#fff" stroke="#000" stroke-width="0.8" />
<rect x="653" y="637.8" width="3" height="1.9" fill="#000" />
<path d="M660.10,639.90 h2.5 v-2.5" fill="none" stroke="#000" stroke-width="1.1" />
<path d="M653.60,630.70 l1,-1.6 l1,1.6 z M653.60,646.70 l1,1.6 l1,-1.6 z" fill="#000" stroke="#000" stroke-width="0.6" />
<rect x="682.3" y="628.6" width="6.5" height="4.2" fill="none" stroke="#000" stroke-width="1" rx="1.5"/>
<rect x="685.3" y="629.3" width="0.8" height="2.8" fill="#000" />
<rect x="679.6" y="637.7" width="9.2" height="7.2" fill="none" stroke="#000" stroke-width="1.6" rx="1"/>
<rect x="682" y="639.4" width="4.2" height="3.6" fill="#fff" stroke="#000" stroke-width="0.9" />
<path d="M671.80,636.60 h5 v2.8 h-5 z M670.80,638.10 h1" fill="none" stroke="#000" stroke-width="0.9" />
<path d="M650.60,656.90 h8 l-4,8.2 z" fill="#000" stroke="#000" stroke-width="0.5" />
<line x1="676.8" y1="652.6" x2="676.8" y2="658.1" stroke="#000" stroke-width="0.7" />
<rect x="676.1" y="652.6" width="1.4" height="1.5" fill="#000" />
<rect x="665.15" y="658.6" width="14.55" height="34.7" fill="#000" />
<rect x="684.55" y="658.6" width="4.85" height="34.7" fill="#000" />
<rect x="638.4" y="658.6" width="3" height="34.5" fill="#fff" stroke="#000" stroke-width="1.2" rx="1.5"/>
<rect x="643.25" y="661" width="3" height="32.1" fill="#fff" stroke="#000" stroke-width="1.2" rx="1.5"/>
<rect x="648.1" y="663.3" width="3" height="29.8" fill="#fff" stroke="#000" stroke-width="1.2" rx="1.5"/>
<rect x="652.95" y="665.8" width="3" height="27.3" fill="#fff" stroke="#000" stroke-width="1.2" rx="1.5"/>
<rect x="657.8" y="663.3" width="3" height="29.8" fill="#fff" stroke="#000" stroke-width="1.2" rx="1.5"/>
<rect x="662.65" y="660.9" width="3" height="32.2" fill="#fff" stroke="#000" stroke-width="1.2" rx="1.5"/>
<rect x="667.5" y="658.6" width="3" height="34.5" fill="#fff" stroke="#000" stroke-width="1.2" rx="1.5"/>
<rect x="672.35" y="658.6" width="3" height="34.5" fill="#fff" stroke="#000" stroke-width="1.2" rx="1.5"/>
<rect x="677.2" y="658.6" width="3" height="34.5" fill="#fff" stroke="#000" stroke-width="1.2" rx="1.5"/>
<rect x="682.05" y="658.6" width="3" height="34.5" fill="#fff" stroke="#000" stroke-width="1.2" rx="1.5"/>
<rect x="686.9" y="658.6" width="3" height="34.5" fill="#fff" stroke="#000" stroke-width="1.2" rx="1.5"/>
<text x="638.30" y="703.10" font-size="7.2" font-family="Liberation Sans" font-style="italic" font-weight="bold" fill="#000" stroke="#000" stroke-width="0.3" textLength="32" lengthAdjust="spacingAndGlyphs">PowerFlex</text>
<rect x="665.8" y="703.6" width="7" height="3.2" fill="#000" />
<rect x="680.8" y="697.1" width="4.8" height="10.5" fill="#000" />
<rect x="686.6" y="697.1" width="2.2" height="1.4" fill="#000" />
<rect x="686.6" y="699.7" width="2.2" height="1.4" fill="#000" />
<rect x="686.6" y="702.3" width="2.2" height="1.4" fill="#000" />
<rect x="686.6" y="704.9" width="2.2" height="1.4" fill="#000" />
<line x1="636.3" y1="716.3" x2="692.6" y2="716.3" stroke="#000" stroke-width="1.1" />
<rect x="636.3" y="717.8" width="55.8" height="1.6" fill="#000" />
<path d="M638.20,717.80 V713.40 A1.45,1.45 0 0 1 641.10,713.40 V717.80" fill="none" stroke="#000" stroke-width="1.1" />
<rect x="639.2" y="716.8" width="0.9" height="2.4" fill="#fff" />
<path d="M642.65,717.80 V713.40 A1.45,1.45 0 0 1 645.55,713.40 V717.80" fill="none" stroke="#000" stroke-width="1.1" />
<rect x="643.65" y="716.8" width="0.9" height="2.4" fill="#fff" />
<path d="M647.10,717.80 V713.40 A1.45,1.45 0 0 1 650.00,713.40 V717.80" fill="none" stroke="#000" stroke-width="1.1" />
<rect x="648.1" y="716.8" width="0.9" height="2.4" fill="#fff" />
<path d="M651.55,717.80 V713.40 A1.45,1.45 0 0 1 654.45,713.40 V717.80" fill="none" stroke="#000" stroke-width="1.1" />
<rect x="652.55" y="716.8" width="0.9" height="2.4" fill="#fff" />
<path d="M656.00,717.80 V713.40 A1.45,1.45 0 0 1 658.90,713.40 V717.80" fill="none" stroke="#000" stroke-width="1.1" />
<rect x="657" y="716.8" width="0.9" height="2.4" fill="#fff" />
<path d="M660.45,717.80 V713.40 A1.45,1.45 0 0 1 663.35,713.40 V717.80" fill="none" stroke="#000" stroke-width="1.1" />
<rect x="661.45" y="716.8" width="0.9" height="2.4" fill="#fff" />
<path d="M664.90,717.80 V713.40 A1.45,1.45 0 0 1 667.80,713.40 V717.80" fill="none" stroke="#000" stroke-width="1.1" />
<rect x="665.9" y="716.8" width="0.9" height="2.4" fill="#fff" />
<path d="M669.35,717.80 V713.40 A1.45,1.45 0 0 1 672.25,713.40 V717.80" fill="none" stroke="#000" stroke-width="1.1" />
<rect x="670.35" y="716.8" width="0.9" height="2.4" fill="#fff" />
<path d="M673.80,717.80 V713.40 A1.45,1.45 0 0 1 676.70,713.40 V717.80" fill="none" stroke="#000" stroke-width="1.1" />
<rect x="674.8" y="716.8" width="0.9" height="2.4" fill="#fff" />
<path d="M678.25,717.80 V713.40 A1.45,1.45 0 0 1 681.15,713.40 V717.80" fill="none" stroke="#000" stroke-width="1.1" />
<rect x="679.25" y="716.8" width="0.9" height="2.4" fill="#fff" />
<path d="M682.70,717.80 V713.40 A1.45,1.45 0 0 1 685.60,713.40 V717.80" fill="none" stroke="#000" stroke-width="1.1" />
<rect x="683.7" y="716.8" width="0.9" height="2.4" fill="#fff" />
<path d="M687.15,717.80 V713.40 A1.45,1.45 0 0 1 690.05,713.40 V717.80" fill="none" stroke="#000" stroke-width="1.1" />
<rect x="688.15" y="716.8" width="0.9" height="2.4" fill="#fff" />
<rect x="362" y="644" width="7" height="46" fill="#000" />
<rect x="363" y="645" width="5" height="4" fill="#fff" />
<rect x="363" y="658" width="5" height="5" fill="#fff" />
<rect x="363" y="671" width="5" height="5" fill="#fff" />
<rect x="363" y="685" width="5" height="4" fill="#fff" />
<rect x="363" y="650" width="2" height="6" fill="#fff" />
<rect x="363" y="678" width="2" height="5" fill="#fff" />
<rect x="363" y="664" width="5" height="6" fill="#fff" />
<rect x="363.8" y="665.08" width="3.4" height="3.95" fill="none" stroke="#000" stroke-width="0.7" stroke-dasharray="1 0.8"/>
<rect x="364.5" y="666" width="2" height="1" fill="#000" />
<rect x="427" y="644" width="5" height="46" fill="#000" />
<rect x="428" y="645" width="3" height="4" fill="#fff" />
<rect x="428" y="658" width="3" height="5" fill="#fff" />
<rect x="428" y="671" width="3" height="5" fill="#fff" />
<rect x="428" y="685" width="3" height="4" fill="#fff" />
<rect x="428" y="650" width="2" height="6" fill="#fff" />
<rect x="428" y="678" width="2" height="5" fill="#fff" />
<rect x="428" y="664" width="3" height="6" fill="#fff" />
<rect x="428.8" y="665.08" width="1.4" height="3.95" fill="none" stroke="#000" stroke-width="0.7" stroke-dasharray="1 0.8"/>
<rect x="428.5" y="666" width="2" height="1" fill="#000" />
<rect x="491" y="644" width="5" height="46" fill="#000" />
<rect x="492" y="645" width="3" height="4" fill="#fff" />
<rect x="492" y="658" width="3" height="5" fill="#fff" />
<rect x="492" y="671" width="3" height="5" fill="#fff" />
<rect x="492" y="685" width="3" height="4" fill="#fff" />
<rect x="492" y="650" width="2" height="6" fill="#fff" />
<rect x="492" y="678" width="2" height="5" fill="#fff" />
<rect x="492" y="664" width="3" height="6" fill="#fff" />
<rect x="492.8" y="665.08" width="1.4" height="3.95" fill="none" stroke="#000" stroke-width="0.7" stroke-dasharray="1 0.8"/>
<rect x="492.5" y="666" width="2" height="1" fill="#000" />
<rect x="554" y="644" width="5" height="46" fill="#000" />
<rect x="555" y="645" width="3" height="4" fill="#fff" />
<rect x="555" y="658" width="3" height="5" fill="#fff" />
<rect x="555" y="671" width="3" height="5" fill="#fff" />
<rect x="555" y="685" width="3" height="4" fill="#fff" />
<rect x="555" y="650" width="2" height="6" fill="#fff" />
<rect x="555" y="678" width="2" height="5" fill="#fff" />
<rect x="555" y="664" width="3" height="6" fill="#fff" />
<rect x="555.8" y="665.08" width="1.4" height="3.95" fill="none" stroke="#000" stroke-width="0.7" stroke-dasharray="1 0.8"/>
<rect x="555.5" y="666" width="2" height="1" fill="#000" />
<rect x="629" y="644" width="6" height="46" fill="#000" />
<rect x="630" y="645" width="4" height="4" fill="#fff" />
<rect x="630" y="658" width="4" height="5" fill="#fff" />
<rect x="630" y="671" width="4" height="5" fill="#fff" />
<rect x="630" y="685" width="4" height="4" fill="#fff" />
<rect x="630" y="650" width="2" height="6" fill="#fff" />
<rect x="630" y="678" width="2" height="5" fill="#fff" />
<rect x="630" y="664" width="4" height="6" fill="#fff" />
<rect x="630.8" y="665.08" width="2.4" height="3.95" fill="none" stroke="#000" stroke-width="0.7" stroke-dasharray="1 0.8"/>
<rect x="631" y="666" width="2" height="1" fill="#000" />
<rect x="705" y="644" width="5" height="46" fill="#000" />
<rect x="706" y="645" width="3" height="4" fill="#fff" />
<rect x="706" y="658" width="3" height="5" fill="#fff" />
<rect x="706" y="671" width="3" height="5" fill="#fff" />
<rect x="706" y="685" width="3" height="4" fill="#fff" />
<rect x="706" y="650" width="2" height="6" fill="#fff" />
<rect x="706" y="678" width="2" height="5" fill="#fff" />
<rect x="706" y="664" width="3" height="6" fill="#fff" />
<rect x="706.8" y="665.08" width="1.4" height="3.95" fill="none" stroke="#000" stroke-width="0.7" stroke-dasharray="1 0.8"/>
<rect x="706.5" y="666" width="2" height="1" fill="#000" />
<rect x="277.5" y="859.5" width="331.5" height="33" fill="#fff" stroke="#000" stroke-width="1"/>
<text x="441.8" y="881" font-size="14" text-anchor="middle" fill="#000" font-family="Liberation Sans" textLength="294.5" lengthAdjust="spacingAndGlyphs">IMAGE MAY DIFFER FROM ACTUAL PRODUCT</text>
</svg>
</body></html>
